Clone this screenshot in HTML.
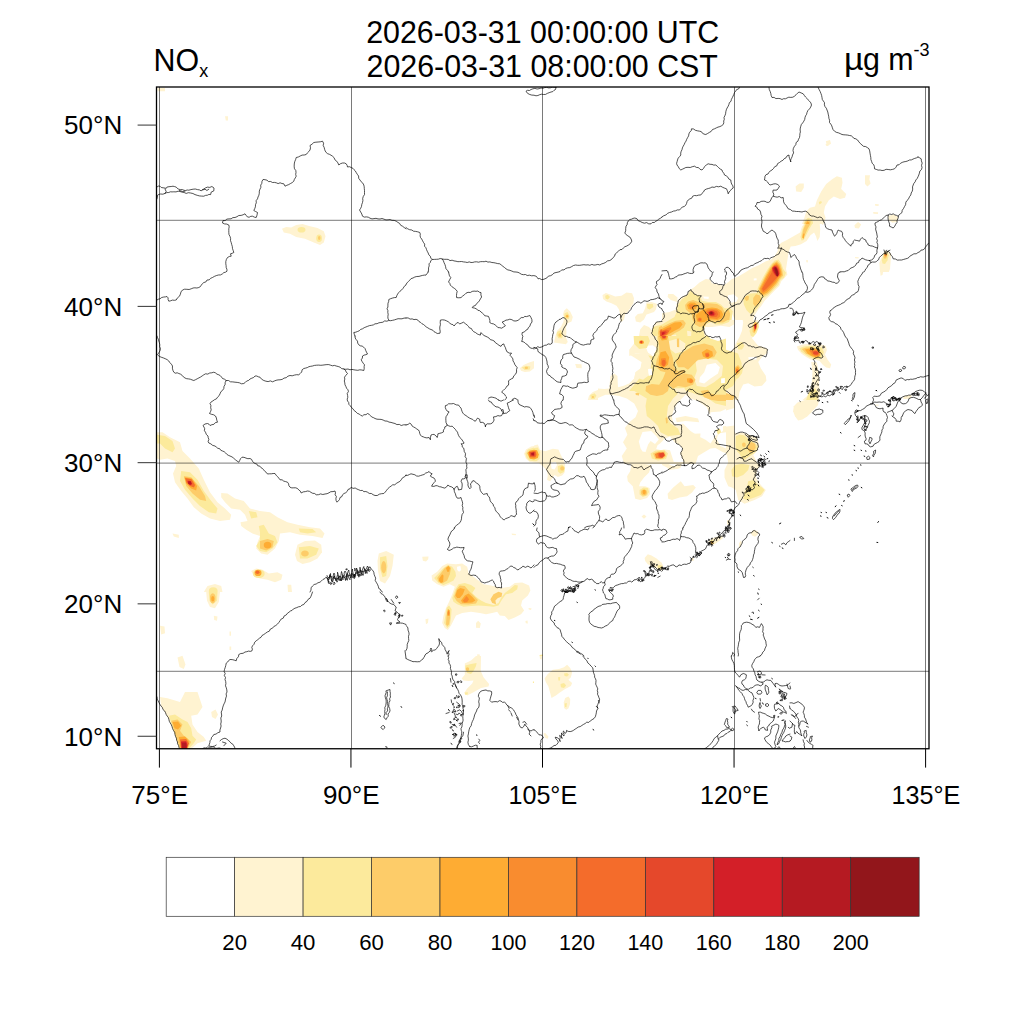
<!DOCTYPE html>
<html><head><meta charset="utf-8"><title>NOx</title>
<style>
html,body{margin:0;padding:0;background:#fff;}
body{width:1024px;height:1024px;overflow:hidden;}
svg{display:block;}
text{font-family:"Liberation Sans",sans-serif;fill:#000;}
.b{fill:none;stroke:#000;stroke-width:0.68;stroke-linejoin:round;stroke-linecap:round;}
.g{stroke:#000;stroke-opacity:0.52;stroke-width:1;fill:none;}
</style></head><body>
<svg width="1024" height="1024" viewBox="0 0 1024 1024">
<rect x="0" y="0" width="1024" height="1024" fill="#fff"/>
<defs><clipPath id="cp"><rect x="156.5" y="87" width="772.5" height="661.75"/></clipPath></defs>
<g clip-path="url(#cp)" stroke="none">
<defs><clipPath id="c0"><rect x="150" y="80" width="256" height="256"/></clipPath><clipPath id="c2"><rect x="662" y="80" width="256" height="256"/></clipPath><clipPath id="c3"><rect x="150" y="336" width="256" height="256"/></clipPath><clipPath id="c4"><rect x="150" y="592" width="256" height="256"/></clipPath><clipPath id="c5"><rect x="406" y="272" width="128" height="128"/></clipPath><clipPath id="c6"><rect x="406" y="400" width="128" height="128"/></clipPath><clipPath id="c7"><rect x="406" y="528" width="128" height="128"/></clipPath><clipPath id="c8"><rect x="406" y="656" width="128" height="128"/></clipPath><clipPath id="c9"><rect x="534" y="272" width="128" height="128"/></clipPath><clipPath id="c10"><rect x="534" y="400" width="128" height="128"/></clipPath><clipPath id="c11"><rect x="534" y="528" width="128" height="128"/></clipPath><clipPath id="c12"><rect x="534" y="656" width="128" height="128"/></clipPath><clipPath id="c13"><rect x="662" y="144" width="128" height="128"/></clipPath><clipPath id="c14"><rect x="662" y="272" width="128" height="128"/></clipPath><clipPath id="c15"><rect x="662" y="400" width="128" height="128"/></clipPath><clipPath id="c16"><rect x="662" y="528" width="128" height="128"/></clipPath><clipPath id="c18"><rect x="790" y="144" width="128" height="128"/></clipPath><clipPath id="c19"><rect x="790" y="272" width="128" height="128"/></clipPath><clipPath id="c20"><rect x="790" y="400" width="128" height="128"/></clipPath><clipPath id="c23"><rect x="598" y="336" width="128" height="128"/></clipPath><clipPath id="c24"><rect x="726" y="224" width="95.9997" height="95.9997"/></clipPath><clipPath id="c26"><rect x="868" y="352" width="64" height="64"/></clipPath></defs>
<g clip-path="url(#c0)">
<path fill="#FFF3D1" d="M225.0,116.2 228.0,116.2 228.0,120.5 225.8,120.5Z M157.5,88.0 165.0,88.0 165.0,91.2 157.5,91.2Z M282.0,228.8 286.2,227.0 291.2,227.5 296.2,225.0 302.5,224.0 310.0,226.2 317.5,228.0 323.8,231.2 325.5,236.2 323.8,242.5 320.0,245.0 313.8,242.5 305.0,238.8 296.2,237.0 290.0,233.8 283.8,232.5Z"/>
<path fill="#FCEA9C" d="M297.5,229.8a4.0,2.8 0 1,0 8.0,0a4.0,2.8 0 1,0 -8.0,0Z M316.2,238.2a2.9,3.8 0 1,0 5.8,0a2.9,3.8 0 1,0 -5.8,0Z"/>
<path fill="#FDCC69" d="M318.0,238.1a1.2,1.9 0 1,0 2.5,0a1.2,1.9 0 1,0 -2.5,0Z"/>
</g>
<g clip-path="url(#c2)">
<path fill="#FFF3D1" d="M825.8,141.2 830.0,140.0 831.0,143.8 827.0,146.2Z"/>
</g>
<g clip-path="url(#c3)">
<path fill="#FFF3D1" d="M157.0,432.2 162.5,432.2 170.0,437.2 180.0,442.2 182.5,451.0 190.0,458.5 198.8,468.5 203.8,479.8 210.0,492.2 217.5,502.2 225.0,508.5 231.2,514.8 230.0,519.8 220.0,521.0 210.0,518.5 201.2,513.5 193.8,507.2 187.5,498.5 181.2,491.0 175.0,482.2 173.0,473.5 176.2,466.0 175.0,461.0 167.5,458.5 160.0,459.8 157.0,458.5Z"/>
<path fill="#FCEA9C" d="M157.0,434.8 165.0,436.0 172.5,441.0 175.0,448.5 172.5,452.2 165.0,448.5 160.0,443.5 157.0,443.5Z M181.2,471.0 190.0,472.2 197.5,479.8 203.8,491.0 211.2,501.0 217.5,508.5 216.2,513.5 208.8,512.2 200.0,506.0 192.5,498.5 185.0,489.8 180.0,481.0Z"/>
<path fill="#FDCC69" d="M183.8,476.0 191.2,477.2 198.8,486.0 205.0,496.0 206.2,501.0 200.0,499.8 192.5,493.5 186.2,486.0Z"/>
<path fill="#FEAC33" d="M184.5,477.2 192.0,478.5 197.0,486.0 196.2,490.5 191.2,488.5 186.2,483.5Z"/>
<path fill="#F46C2B" d="M185.2,478.0 191.5,479.2 195.0,485.0 194.0,487.5 190.0,486.0 186.5,482.5Z"/>
<path fill="#D31F28" d="M187.5,480.8 190.8,481.0 192.2,484.0 190.2,485.2 188.0,483.5Z"/>
<path fill="#B51A22" d="M188.2,482.9a1.4,1.4 0 1,0 2.8,0a1.4,1.4 0 1,0 -2.8,0Z"/>
<path fill="#FFF3D1" d="M221.2,493.0 227.5,493.5 235.0,498.5 243.8,501.0 250.0,508.5 260.0,511.0 270.0,512.2 277.5,517.2 287.5,522.2 297.5,524.8 310.0,527.2 320.0,528.5 324.5,533.5 322.5,538.0 312.5,536.0 300.0,534.8 290.0,532.2 280.0,533.5 278.8,541.0 275.0,548.5 267.5,554.8 261.2,553.5 256.2,548.5 257.5,542.2 260.0,536.0 252.5,533.5 246.2,529.8 241.2,526.0 240.5,522.2 247.5,521.0 245.0,514.8 240.0,509.8 231.2,508.5 225.0,502.2 221.2,497.2Z"/>
<path fill="#FCEA9C" d="M248.8,511.0 256.2,512.2 257.5,517.2 251.2,518.5Z M258.8,526.0 263.8,524.8 268.8,533.5 275.0,536.0 277.5,542.2 272.5,548.5 266.2,552.2 260.0,551.0 256.2,546.0 260.0,539.8 260.0,532.2Z M298.8,528.5 312.5,529.0 316.2,532.2 307.5,533.5 300.0,532.2Z"/>
<path fill="#FDCC69" d="M260.0,541.0 267.5,539.0 273.8,541.0 272.5,547.2 266.2,550.5 260.0,548.5Z"/>
<path fill="#FEAC33" d="M263.8,545.1a3.8,2.9 0 1,0 7.5,0a3.8,2.9 0 1,0 -7.5,0Z"/>
<path fill="#FFF3D1" d="M297.5,544.8 305.0,541.0 315.0,540.5 321.2,544.8 322.0,552.2 317.5,558.5 310.0,562.2 302.5,564.0 297.0,561.0 295.0,554.8Z"/>
<path fill="#FCEA9C" d="M298.8,547.2 310.0,546.0 318.8,548.5 316.2,554.8 307.5,558.5 300.0,558.5Z"/>
<path fill="#FDCC69" d="M301.2,553.5a3.8,2.5 0 1,0 7.5,0a3.8,2.5 0 1,0 -7.5,0Z"/>
<path fill="#FFF3D1" d="M172.5,533.5 178.8,534.8 178.8,538.0 173.8,536.5Z M251.2,571.0 256.2,568.5 262.5,569.8 268.8,573.5 277.5,572.2 282.5,574.8 281.2,579.8 275.0,582.2 267.5,579.8 260.0,578.5 253.8,576.0Z"/>
<path fill="#FCEA9C" d="M253.0,573.8a5.8,3.8 0 1,0 11.5,0a5.8,3.8 0 1,0 -11.5,0Z"/>
<path fill="#FEAC33" d="M254.5,572.9a3.5,3.1 0 1,0 7.0,0a3.5,3.1 0 1,0 -7.0,0Z"/>
<path fill="#F46C2B" d="M255.5,572.2a2.0,1.8 0 1,0 4.0,0a2.0,1.8 0 1,0 -4.0,0Z"/>
<path fill="#FFF3D1" d="M203.8,592.0 207.5,586.0 215.0,584.0 221.2,586.0 222.5,592.0Z"/>
<path fill="#FCEA9C" d="M208.8,591.0a4.4,3.8 0 1,0 8.8,0a4.4,3.8 0 1,0 -8.8,0Z"/>
<path fill="#FFF3D1" d="M287.5,584.8 291.2,584.8 292.0,592.0 288.0,592.0Z M378.8,553.5 386.2,551.0 393.8,554.8 392.5,566.0 390.0,576.0 385.0,583.5 380.0,581.0 378.0,571.0 377.5,561.0Z"/>
<path fill="#FCEA9C" d="M380.0,557.2 386.2,556.0 387.5,566.0 386.2,576.0 382.5,577.2 380.0,568.5Z"/>
<path fill="#FDCC69" d="M381.2,567.2a2.5,6.2 0 1,0 5.0,0a2.5,6.2 0 1,0 -5.0,0Z"/>
</g>
<g clip-path="url(#c4)">
<path fill="#FFF3D1" d="M206.2,592.0 220.0,592.0 218.8,602.0 215.0,608.2 210.0,607.0 207.0,600.8Z"/>
<path fill="#FCEA9C" d="M208.8,592.0 217.5,592.0 217.0,600.8 212.5,604.5 209.5,600.8Z"/>
<path fill="#FDCC69" d="M210.0,598.2a2.8,4.2 0 1,0 5.5,0a2.8,4.2 0 1,0 -5.5,0Z"/>
<path fill="#FEAC33" d="M211.2,598.8a1.6,2.8 0 1,0 3.2,0a1.6,2.8 0 1,0 -3.2,0Z"/>
<path fill="#FFF3D1" d="M213.8,615.8 217.5,616.5 217.0,620.8 214.2,620.0Z M160.0,625.8 164.5,626.5 165.0,633.2 161.2,634.5Z M177.5,657.5 182.5,655.8 185.5,664.5 183.8,669.0 179.5,667.0Z M229.5,631.5 231.0,631.5 231.0,635.8 229.5,635.8Z M229.5,646.5 231.2,646.5 231.2,650.0 229.5,650.0Z M160.0,697.0 167.5,698.2 180.0,702.0 185.0,692.0 197.5,692.0 200.0,699.5 202.5,707.0 197.5,714.5 191.2,715.8 192.5,724.5 197.5,732.0 203.8,737.0 206.2,740.8 197.5,743.2 191.2,748.8 179.5,748.8 175.0,734.5 171.2,724.5 166.2,714.5 161.2,705.8Z"/>
<path fill="#FCEA9C" d="M168.8,715.8 175.0,714.5 182.5,719.5 187.5,722.0 191.2,728.2 192.5,735.8 196.2,739.5 193.8,743.2 188.8,748.8 179.5,748.8 176.2,738.2 172.5,727.0Z"/>
<path fill="#FDCC69" d="M171.2,720.8 177.5,719.5 182.5,724.5 180.0,730.8 183.8,735.8 187.5,738.2 191.2,742.0 187.5,748.8 180.0,748.8 177.0,739.5 173.8,729.5Z"/>
<path fill="#FEAC33" d="M172.5,722.0 178.0,721.5 181.2,725.8 178.0,729.5 174.5,728.2Z M178.8,737.0 185.0,736.5 189.5,741.5 187.5,748.8 180.5,748.8Z"/>
<path fill="#F46C2B" d="M180.0,739.5 186.2,739.0 188.8,743.2 187.0,748.8 181.0,748.8Z"/>
<path fill="#D31F28" d="M181.0,741.5 186.2,741.2 187.5,745.0 186.5,748.8 181.5,748.8Z"/>
<path fill="#B51A22" d="M182.0,743.0 185.8,742.8 186.8,748.8 182.0,748.8Z"/>
<path fill="#FFF3D1" d="M211.2,712.0 215.5,709.5 218.0,714.5 215.5,719.0 212.0,717.0Z"/>
</g>
<g clip-path="url(#c5)">
<rect x="406" y="272" width="128" height="128" fill="#fff"/>
<path fill="#FFF3D1" d="M519.8,368.2 523.5,365.1 529.1,362.6 534.0,361.0 534.0,368.2 529.8,371.4 524.8,372.0 521.0,370.8Z"/>
<path fill="#FCEA9C" d="M521.6,367.6 526.0,365.8 530.4,366.4 529.8,369.5 524.8,370.1Z"/>
<path fill="#FDCC69" d="M524.8,367.9a1.6,0.9 0 1,0 3.1,0a1.6,0.9 0 1,0 -3.1,0Z"/>
</g>
<g clip-path="url(#c6)">
<rect x="406" y="400" width="128" height="128" fill="#fff"/>
<path fill="#FFF3D1" d="M524.1,453.8 526.0,449.4 531.0,446.5 534.0,446.0 534.0,462.5 529.8,461.9 526.0,458.8Z"/>
<path fill="#FCEA9C" d="M525.4,453.8 527.9,449.4 534.0,447.5 534.0,461.2 529.1,460.6 526.6,457.5Z"/>
<path fill="#FEAC33" d="M527.2,453.1 529.8,450.6 534.0,449.8 534.0,459.4 529.8,458.8Z"/>
<path fill="#F46C2B" d="M528.8,451.9 534.0,451.0 534.0,457.5 529.8,457.2Z"/>
<path fill="#E5482B" d="M530.0,452.5 534.0,451.9 534.0,456.2 530.4,456.0Z"/>
<path fill="#B51A22" d="M531.2,453.1 534.0,452.6 534.0,455.5 531.5,455.2Z"/>
</g>
<g clip-path="url(#c7)">
<rect x="406" y="528" width="128" height="128" fill="#fff"/>
<path fill="#FFF3D1" d="M431.6,575.5 437.2,571.8 442.2,566.1 447.2,563.6 456.0,564.2 462.2,563.6 467.2,566.8 468.5,573.0 473.5,576.8 478.5,580.5 483.5,584.2 491.0,585.5 501.0,588.0 509.8,586.8 514.8,583.0 522.2,582.4 529.1,585.5 530.4,590.5 527.9,595.5 522.2,600.5 521.0,605.5 524.1,610.5 521.0,614.2 514.8,617.4 508.5,619.9 504.8,616.1 499.8,615.5 497.2,611.8 492.2,613.0 486.0,614.2 479.8,613.0 471.0,611.8 462.2,613.0 456.0,615.5 453.5,620.5 451.0,625.5 447.9,629.9 444.8,628.0 442.2,623.0 443.5,615.5 446.0,608.0 449.1,601.8 452.2,594.2 454.8,586.8 449.8,584.2 443.5,586.8 437.2,584.2 432.2,580.5Z"/>
<path fill="#FFFFFF" d="M457.0,566.8 460.4,566.1 461.2,569.9 459.1,571.8 457.2,569.9Z"/>
<path fill="#FCEA9C" d="M434.1,578.0 438.5,573.6 443.5,568.0 447.9,564.9 452.2,566.8 455.4,571.8 456.0,576.1 453.5,580.5 448.5,583.0 443.5,584.9 438.5,583.0Z M452.2,598.0 455.4,589.2 458.5,584.2 464.8,583.0 471.0,584.9 475.4,588.0 472.2,593.0 476.0,596.8 481.0,600.5 486.0,603.0 493.5,604.9 498.5,603.0 501.0,598.0 504.8,593.0 509.8,589.2 514.8,584.9 517.9,585.5 517.2,589.2 512.2,593.0 506.0,594.2 502.2,599.2 498.5,605.5 493.5,606.8 486.0,606.1 478.5,605.5 471.0,606.1 463.5,606.8 457.2,604.2 453.5,601.8Z M444.1,623.0 445.4,615.5 446.6,608.0 449.1,605.5 451.6,609.2 451.0,618.0 449.8,625.5 447.2,628.0Z"/>
<path fill="#FDCC69" d="M437.2,578.0 441.0,573.0 444.8,568.0 448.5,565.5 451.0,568.0 449.8,574.2 447.2,580.5 442.2,583.6 438.5,581.8Z"/>
<path fill="#FEAC33" d="M439.1,578.6 442.2,574.2 443.5,575.5 443.2,581.8 441.0,583.0 439.1,581.1Z M446.0,568.0 448.5,566.1 450.0,568.0 449.1,571.8 447.2,571.8Z"/>
<path fill="#FDCC69" d="M454.1,596.8 456.6,589.2 459.8,585.5 464.8,586.1 468.5,590.5 473.5,595.5 477.9,599.9 476.0,603.6 468.5,604.5 461.0,604.2 456.6,601.1Z"/>
<path fill="#FEAC33" d="M455.4,595.5 457.2,589.9 460.4,588.0 464.8,589.2 462.9,594.2 459.8,598.0 457.2,598.0Z M461.0,600.5 464.8,595.5 468.5,593.6 472.2,596.8 475.4,600.5 472.2,602.4 466.0,603.0 462.2,602.8Z"/>
<path fill="#F98C2F" d="M462.9,600.5 466.6,596.1 469.1,599.2 467.2,602.0 464.1,602.4Z"/>
<path fill="#FDCC69" d="M490.4,599.2 493.5,594.2 498.5,591.8 502.2,593.0 501.6,596.8 497.9,598.0 495.4,600.5 496.0,604.2 492.2,603.0Z M446.0,624.2 446.6,615.5 447.9,609.2 449.8,610.5 450.0,618.0 449.1,624.2 447.2,626.1Z"/>
<path fill="#FEAC33" d="M447.2,615.5 447.9,609.2 449.5,609.9 449.8,615.5 448.5,616.1Z"/>
<path fill="#F98C2F" d="M447.6,613.0a0.9,1.9 0 1,0 1.8,0a0.9,1.9 0 1,0 -1.8,0Z"/>
<path fill="#FFF3D1" d="M422.2,556.8 428.5,556.5 428.2,559.2 426.0,561.5 422.9,560.8Z M425.4,619.2 428.5,618.6 427.9,623.0 426.0,624.2Z M476.0,623.0 478.2,620.8 480.8,623.6 479.8,628.0 476.0,627.8Z M511.6,533.6 516.0,533.9 515.8,535.2 512.0,535.0Z M525.4,621.1 527.5,620.5 527.9,623.6 525.8,623.2Z M528.5,608.0 531.6,608.2 531.0,609.9 528.8,609.6Z M477.2,654.2 479.8,654.5 479.8,656.0 477.2,656.0Z"/>
</g>
<g clip-path="url(#c8)">
<rect x="406" y="656" width="128" height="128" fill="#fff"/>
<path fill="#FFF3D1" d="M464.8,663.5 471.0,660.4 476.0,656.0 481.0,656.0 480.8,671.0 483.5,677.2 489.1,684.1 488.5,686.6 481.0,687.9 473.5,692.2 467.2,695.4 464.1,692.9 467.2,688.5 472.2,683.5 473.5,680.4 468.5,681.0 463.5,680.4 461.6,678.5 464.8,674.8Z"/>
<path fill="#FCEA9C" d="M465.4,665.4 471.0,664.1 476.6,662.9 476.0,666.0 473.5,671.0 471.0,674.1 467.2,672.9 465.4,669.1Z"/>
<path fill="#FDCC69" d="M465.8,669.1a1.7,1.9 0 1,0 3.4,0a1.7,1.9 0 1,0 -3.4,0Z"/>
<path fill="#FCEA9C" d="M464.8,692.5 467.9,692.2 467.6,694.5 465.0,694.8Z M532.9,681.6 534.0,681.6 534.0,682.9 532.9,682.9Z"/>
</g>
<g clip-path="url(#c9)">
<rect x="534" y="272" width="128" height="128" fill="#fff"/>
<path fill="#FFF3D1" d="M564.0,310.8 566.8,308.2 570.2,311.4 572.8,317.0 571.5,321.4 567.8,323.2 565.9,327.0 566.5,332.0 565.9,337.0 567.8,342.0 565.9,344.2 559.0,343.2 554.0,342.6 555.2,337.0 557.1,330.8 560.9,327.0 563.4,322.0 564.0,317.6 563.0,314.5Z"/>
<path fill="#FCEA9C" d="M564.6,313.2 567.5,312.0 569.6,315.8 569.0,318.9 565.9,319.5 564.0,317.0Z M557.1,332.0 560.9,330.1 563.0,334.5 562.1,338.2 558.4,338.2 556.5,335.1Z"/>
<path fill="#FDCC69" d="M565.5,316.2a1.6,1.8 0 1,0 3.2,0a1.6,1.8 0 1,0 -3.2,0Z"/>
<path fill="#FEAC33" d="M566.2,316.1a0.9,0.9 0 1,0 1.8,0a0.9,0.9 0 1,0 -1.8,0Z"/>
<path fill="#FDCC69" d="M558.4,335.0a1.4,1.8 0 1,0 2.9,0a1.4,1.8 0 1,0 -2.9,0Z"/>
<path fill="#FFF3D1" d="M602.5,295.1 605.9,293.0 610.2,294.5 615.2,296.4 621.5,295.8 626.5,292.6 632.1,293.2 634.0,298.2 633.4,303.2 630.2,308.2 627.8,312.0 625.2,313.9 624.0,319.5 621.5,322.0 619.6,320.1 620.2,315.1 619.0,309.5 616.5,305.8 611.5,303.2 606.5,301.4 603.0,298.9Z"/>
<path fill="#FCEA9C" d="M605.2,295.8 607.8,294.8 610.0,297.0 607.8,299.5 605.5,298.5Z"/>
<path fill="#FFF3D1" d="M646.5,302.6 651.5,302.0 657.1,303.9 655.9,309.5 654.0,312.0 646.5,314.5 644.0,319.5 640.2,322.6 635.9,321.4 635.0,317.0 637.8,313.9 642.8,313.2 645.2,308.2Z"/>
<path fill="#FCEA9C" d="M647.1,303.9 652.8,303.9 653.4,307.0 649.6,309.5 647.1,308.2Z"/>
<path fill="#FFF3D1" d="M662.0,321.4 655.9,322.0 653.4,325.8 652.1,330.8 649.0,327.0 644.0,325.1 640.2,329.5 639.0,335.8 635.9,342.0 634.0,347.0 630.2,350.8 629.0,354.5 632.8,355.8 637.8,353.2 640.9,354.5 641.5,359.5 642.1,364.5 640.2,370.8 636.5,375.8 634.0,380.8 630.9,384.5 626.5,387.0 621.5,388.2 620.2,390.1 626.5,392.0 631.5,395.8 632.8,400.0 662.0,400.0Z"/>
<path fill="#FFFFFF" d="M645.9,346.4 650.9,345.1 655.9,347.0 655.9,352.0 652.1,353.2 648.4,351.4Z M648.4,369.5 652.1,368.9 652.8,374.5 649.6,376.4 647.8,373.9Z"/>
<path fill="#FCEA9C" d="M652.8,327.0 662.0,324.5 662.0,400.0 634.0,400.0 632.8,392.0 636.5,388.2 640.2,384.5 642.8,379.5 640.2,377.0 644.0,375.8 647.1,378.2 650.2,380.8 652.1,377.0 653.4,372.0 654.6,367.0 651.5,362.0 654.0,357.0 657.1,352.0 657.8,344.5 655.2,338.2 652.1,333.2Z M636.5,338.2 640.2,335.8 645.2,336.4 647.1,340.1 645.2,344.5 641.5,347.0 637.8,345.8Z"/>
<path fill="#FDCC69" d="M638.4,339.5 642.1,337.6 644.6,340.8 642.8,344.5 639.6,344.5Z"/>
<path fill="#F98C2F" d="M639.4,342.2a1.8,2.1 0 1,0 3.6,0a1.8,2.1 0 1,0 -3.6,0Z"/>
<path fill="#E5482B" d="M640.0,342.1a1.1,1.4 0 1,0 2.1,0a1.1,1.4 0 1,0 -2.1,0Z"/>
<path fill="#FDCC69" d="M659.0,327.0 662.0,325.8 662.0,342.0 659.6,339.5 657.8,333.2Z M657.1,357.0 662.0,352.0 662.0,368.2 659.0,365.8 657.1,362.0Z"/>
<path fill="#F98C2F" d="M660.2,329.5 662.0,328.9 662.0,339.5 660.5,337.0Z"/>
<path fill="#F46C2B" d="M659.6,330.8 662.0,330.1 662.0,338.2 660.0,336.4Z"/>
<path fill="#E5482B" d="M660.5,332.0 662.0,331.5 662.0,337.0 660.8,335.5Z"/>
<path fill="#F98C2F" d="M659.6,358.2 662.0,356.4 662.0,365.8 660.0,363.9Z"/>
<path fill="#FDCC69" d="M645.2,388.2 651.5,384.5 657.8,383.9 662.0,384.5 662.0,400.0 646.5,400.0 644.6,394.5Z"/>
<path fill="#FCEA9C" d="M644.0,364.5 647.1,363.2 648.4,367.0 645.9,369.5Z"/>
<path fill="#FFF3D1" d="M625.9,366.4 628.4,367.6 627.8,372.0 625.9,375.8 624.0,374.5 624.6,369.5Z M610.9,374.5 615.2,373.2 617.8,375.8 617.1,382.0 614.0,385.8 610.9,386.4 609.6,382.0Z M587.8,400.0 589.0,395.8 592.8,392.0 597.8,390.1 603.4,388.9 604.6,390.8 601.5,395.1 599.0,400.0Z"/>
<path fill="#FCEA9C" d="M590.2,395.1 594.6,393.2 596.5,395.8 594.6,398.9 590.9,398.9Z"/>
<path fill="#FDCC69" d="M591.8,397.0a1.1,1.0 0 1,0 2.2,0a1.1,1.0 0 1,0 -2.2,0Z"/>
<path fill="#FFF3D1" d="M575.2,363.9 581.5,364.2 581.8,368.2 576.5,368.0Z"/>
</g>
<g clip-path="url(#c10)">
<rect x="534" y="400" width="128" height="128" fill="#fff"/>
<path fill="#FFF3D1" d="M534.0,445.6 537.8,444.4 540.2,450.0 545.2,451.2 552.8,448.8 558.4,449.4 560.9,455.0 563.4,460.0 565.2,465.0 564.6,472.5 562.1,475.6 557.8,476.9 554.6,475.0 552.8,477.5 550.2,481.2 547.1,480.0 547.8,475.0 546.5,470.0 542.8,466.2 539.0,463.1 534.0,462.5Z"/>
<path fill="#FFFFFF" d="M550.9,462.5 555.9,461.9 557.1,465.0 554.6,469.4 551.5,468.8Z"/>
<path fill="#FCEA9C" d="M534.0,448.1 537.8,447.5 540.2,452.5 539.6,458.8 536.5,461.2 534.0,461.2Z"/>
<path fill="#FEAC33" d="M534.0,449.8 537.1,450.2 538.8,454.4 537.8,458.1 534.0,459.4Z"/>
<path fill="#F46C2B" d="M534.0,451.0 535.9,451.5 536.5,455.0 535.5,457.2 534.0,457.5Z"/>
<path fill="#E5482B" d="M534.0,451.9 535.0,452.2 535.2,455.0 534.0,456.2Z"/>
<path fill="#FCEA9C" d="M557.8,466.2 562.1,464.4 565.0,467.5 564.0,471.9 560.2,473.8 557.8,471.2Z"/>
<path fill="#FDCC69" d="M560.2,468.4a2.0,2.2 0 1,0 4.0,0a2.0,2.2 0 1,0 -4.0,0Z"/>
<path fill="#FFF3D1" d="M634.0,400.0 637.8,406.2 636.5,412.5 632.8,418.8 629.0,422.5 624.0,425.0 625.2,430.0 630.2,432.5 634.0,437.5 632.8,442.5 634.0,450.0 630.2,453.8 622.8,453.8 621.5,456.2 624.0,460.0 631.5,461.2 641.5,462.5 646.5,458.8 651.5,455.0 662.0,450.0 662.0,400.0Z"/>
<path fill="#FFFFFF" d="M640.9,431.2 645.2,429.4 650.2,435.0 654.0,440.0 651.5,445.0 647.1,450.0 644.0,452.5 641.5,447.5 638.4,442.5 639.0,436.2Z M650.9,441.9 657.1,441.2 657.8,445.6 651.5,446.5Z"/>
<path fill="#FCEA9C" d="M645.2,400.0 645.9,407.5 646.5,415.0 652.8,418.8 659.0,421.2 662.0,425.0 662.0,400.0Z M642.8,461.9 649.0,455.0 654.0,451.2 662.0,449.4 662.0,462.5 646.5,463.1Z"/>
<path fill="#FDCC69" d="M650.2,455.0 655.2,451.9 662.0,450.0 662.0,460.0 654.0,460.0Z"/>
<path fill="#F98C2F" d="M652.1,455.0 657.1,452.5 662.0,451.2 662.0,459.0 655.9,458.8Z"/>
<path fill="#F46C2B" d="M654.0,454.4 659.0,452.5 662.0,452.2 662.0,458.1 657.1,457.8Z"/>
<path fill="#E5482B" d="M657.1,453.1 662.0,452.8 662.0,457.5 659.0,456.9Z"/>
<path fill="#FFF3D1" d="M631.5,463.8 642.8,463.8 651.5,465.0 649.0,472.5 644.0,477.5 640.2,482.5 639.0,486.2 645.2,486.2 649.6,488.1 650.2,493.8 647.1,498.1 640.2,500.0 635.2,498.8 634.0,492.5 632.8,486.2 627.8,481.2 627.1,476.2 630.2,471.2Z"/>
<path fill="#FCEA9C" d="M639.6,490.0 643.4,487.5 647.8,488.1 649.0,491.9 647.1,495.6 642.8,496.9 639.6,494.4Z"/>
<path fill="#FDCC69" d="M640.9,492.5a3.1,3.1 0 1,0 6.2,0a3.1,3.1 0 1,0 -6.2,0Z"/>
<path fill="#FEAC33" d="M642.5,492.1a1.7,2.3 0 1,0 3.4,0a1.7,2.3 0 1,0 -3.4,0Z"/>
<path fill="#FFF3D1" d="M641.5,516.5 644.0,514.4 646.5,516.5 644.0,518.8Z M616.5,421.9 619.6,422.2 619.4,424.4 616.8,424.0Z"/>
</g>
<g clip-path="url(#c11)">
<rect x="534" y="528" width="128" height="128" fill="#fff"/>
<path fill="#FFF3D1" d="M644.6,558.0 647.8,554.2 651.5,555.5 656.5,558.6 662.0,563.0 662.0,570.5 657.8,569.2 652.8,566.8 647.8,564.2 645.2,561.1Z"/>
<path fill="#FCEA9C" d="M657.1,565.5 660.2,564.9 662.0,566.1 662.0,569.2 658.4,568.6Z M539.6,654.9 542.8,654.5 542.8,656.0 539.6,656.0Z"/>
</g>
<g clip-path="url(#c12)">
<rect x="534" y="656" width="128" height="128" fill="#fff"/>
<path fill="#FFF3D1" d="M539.6,656.0 542.1,656.0 541.8,659.5 540.0,659.1Z M544.6,678.5 547.8,674.1 552.8,669.8 559.0,669.1 564.0,667.2 567.1,664.8 570.2,667.9 572.1,672.2 570.9,677.2 568.4,679.8 572.1,682.9 570.9,686.0 565.2,689.1 560.2,692.2 555.9,695.4 551.5,697.9 550.2,692.9 548.4,686.6 545.9,682.2Z"/>
<path fill="#FCEA9C" d="M564.0,673.5 567.1,672.9 569.0,674.8 567.1,676.6 564.6,676.0Z M558.0,677.2 560.2,677.0 560.0,680.4 558.4,680.4Z M560.5,684.1 564.0,682.9 566.2,685.4 564.0,687.9 560.9,687.2Z"/>
<path fill="#FFF3D1" d="M563.8,702.2 565.2,697.9 568.4,696.6 570.2,699.1 570.0,704.1 568.4,708.5 566.2,709.8 564.0,707.9Z"/>
<path fill="#FCEA9C" d="M564.6,703.5 566.8,702.9 566.5,707.2 565.0,707.0Z"/>
<path fill="#FFF3D1" d="M543.4,733.5 545.2,732.9 548.4,736.6 547.8,738.8 545.2,737.9Z"/>
</g>
<g clip-path="url(#c13)">
<path fill="#FFF3D1" d="M739.5,272.0 744.5,269.0 752.0,265.9 762.0,262.8 769.5,260.2 774.5,256.5 777.0,250.2 778.2,244.0 784.5,240.9 790.0,238.4 790.0,272.0Z"/>
<path fill="#FCEA9C" d="M762.0,272.0 765.8,267.1 770.1,262.8 774.5,258.4 778.9,255.2 782.6,256.5 785.8,262.8 787.0,272.0Z"/>
<path fill="#FDCC69" d="M765.8,272.0 768.9,267.1 772.6,262.1 776.4,258.4 779.5,257.8 782.0,261.5 783.9,272.0Z"/>
<path fill="#FEAC33" d="M767.6,272.0 770.8,267.1 774.5,262.1 777.0,260.2 779.5,262.1 781.4,272.0Z"/>
<path fill="#F46C2B" d="M769.5,272.0 772.6,267.1 775.8,262.8 777.6,262.1 779.2,265.2 780.1,272.0Z"/>
<path fill="#D31F28" d="M772.0,272.0 774.5,267.1 776.8,264.0 778.2,265.9 778.9,272.0Z"/>
<path fill="#B51A22" d="M773.9,272.0 775.5,267.8 777.0,265.9 778.0,269.0 778.0,272.0Z"/>
<path fill="#92161B" d="M775.1,272.0 776.4,268.4 777.2,269.0 777.2,272.0Z"/>
</g>
<g clip-path="url(#c14)">
<rect x="662" y="272" width="128" height="128" fill="#fff"/>
<path fill="#FFF3D1" d="M668.2,293.9 673.2,293.9 677.6,297.6 677.0,302.0 670.8,300.1 667.6,297.0Z M662.0,313.2 669.5,312.0 675.8,309.5 676.4,304.5 678.2,300.1 682.0,297.0 687.0,294.5 688.9,290.8 694.5,287.0 699.5,282.6 705.8,278.9 710.1,279.5 712.0,283.2 718.2,284.5 723.2,285.8 729.5,280.8 732.0,278.9 737.0,277.6 742.0,277.0 749.5,275.8 757.0,272.0 787.0,272.0 785.1,275.8 780.8,282.0 774.5,288.2 768.2,295.8 763.2,303.2 759.5,312.0 758.2,319.5 758.9,324.5 755.8,332.0 752.0,338.2 755.1,342.0 758.2,345.8 763.2,347.0 767.6,348.9 767.0,353.2 762.0,357.0 758.2,362.0 760.8,368.2 765.8,375.8 766.4,380.8 762.0,385.8 754.5,386.4 748.2,383.2 743.2,384.5 739.5,392.0 738.2,400.0 662.0,400.0Z"/>
<path fill="#FFFFFF" d="M705.1,327.0 712.0,327.0 720.8,325.8 729.5,327.0 733.9,324.5 735.8,314.5 738.2,310.8 740.8,313.2 743.2,322.0 742.0,330.8 739.5,337.0 735.8,343.2 733.2,349.5 729.5,353.2 724.5,352.0 722.0,347.0 720.8,339.5 717.0,337.0 710.8,337.0 705.8,334.5 703.9,330.1Z M728.2,294.5 732.6,293.9 733.5,298.9 731.4,304.5 728.9,303.2Z M703.2,296.4 708.9,296.8 708.5,298.9 703.9,298.5Z M748.2,357.2 757.0,356.8 756.4,359.5 748.9,359.8Z"/>
<path fill="#FCEA9C" d="M662.0,324.5 668.2,320.8 674.5,317.0 677.0,310.8 678.2,304.5 682.0,298.9 687.0,295.8 690.8,290.8 694.5,294.5 699.5,295.8 702.0,300.8 708.2,302.0 715.8,302.0 720.8,304.5 724.5,308.2 729.5,308.2 732.0,310.8 731.4,317.0 728.9,322.0 722.0,324.5 715.8,324.5 710.8,322.0 705.8,324.5 703.2,330.8 704.5,335.8 708.2,339.5 714.5,342.0 718.2,347.0 720.8,353.2 727.0,357.0 732.0,355.8 733.2,362.0 732.0,368.2 734.5,372.0 732.0,378.2 728.2,384.5 724.5,390.8 722.0,397.0 720.8,400.0 662.0,400.0Z"/>
<path fill="#FFF3D1" d="M669.5,335.8 675.8,334.5 678.2,339.5 677.0,347.0 672.0,349.5 668.2,344.5Z M687.0,330.8 691.4,331.4 691.0,338.2 687.6,337.6Z M694.5,359.5 704.5,358.2 714.5,359.5 722.0,363.2 727.0,369.5 729.5,375.8 727.0,382.0 720.8,384.5 714.5,382.0 709.5,384.5 702.0,385.8 697.0,383.2 695.8,378.2 698.2,372.0 697.0,365.8Z M675.8,388.2 682.0,387.0 687.0,388.9 690.8,392.0 693.2,397.0 692.0,400.0 677.0,400.0 674.5,394.5Z"/>
<path fill="#FFFFFF" d="M705.8,363.2 712.0,362.6 718.2,365.8 720.8,370.8 717.0,375.8 712.0,378.2 705.8,382.0 700.8,383.2 698.2,379.5 700.8,374.5 704.5,369.5Z M720.8,378.2 724.5,378.5 724.2,383.2 721.0,383.0Z M678.9,393.9 686.4,394.2 686.0,398.2 679.2,398.0Z"/>
<path fill="#FCEA9C" d="M742.0,298.9 747.0,294.5 752.0,292.6 758.2,292.6 762.0,296.4 759.5,303.2 755.8,308.2 753.2,313.2 749.5,315.8 745.8,313.2 743.2,307.0Z M757.0,290.8 762.0,284.5 768.2,277.0 772.0,272.0 785.8,272.0 782.0,279.5 775.8,287.0 769.5,294.5 764.5,298.2 762.0,295.8Z M749.5,330.8 752.0,325.8 754.5,322.0 758.2,322.0 758.9,327.0 756.4,333.2 753.2,337.0 750.8,335.8Z M737.0,343.2 742.0,342.0 744.5,345.8 742.0,349.5 738.2,349.5Z M726.0,349.8 738.0,353.5 741.8,363.5 738.0,376.0 733.0,386.0 726.0,389.8Z M735.1,365.1 739.5,363.2 743.2,367.0 742.0,373.2 738.2,378.2 735.1,379.5 734.5,372.0Z"/>
<path fill="#FDCC69" d="M685.1,305.1 688.2,301.4 693.2,300.1 698.2,302.0 703.2,303.2 709.5,303.2 717.0,303.9 722.0,307.0 724.5,312.0 727.0,313.2 729.5,315.8 727.6,320.1 723.2,322.6 718.2,322.6 712.0,321.4 707.0,322.0 705.1,325.8 699.5,327.0 695.1,324.5 692.6,319.5 692.0,314.5 688.9,312.0 685.8,309.5Z M662.0,327.0 669.5,323.2 675.8,320.8 683.2,320.1 685.8,323.2 683.9,327.6 679.5,330.8 674.5,333.2 669.5,337.0 664.5,340.1 662.0,340.8Z M662.0,347.0 667.0,349.5 669.5,357.0 668.2,365.8 664.5,369.5 662.0,369.5Z M675.8,367.0 678.2,359.5 684.5,352.0 692.0,347.0 699.5,344.5 707.0,343.9 713.2,347.0 717.0,352.0 717.0,358.2 712.0,359.5 704.5,358.2 697.0,359.5 693.2,364.5 689.5,369.5 682.0,370.8Z M669.5,384.5 674.5,379.5 680.8,375.8 687.0,374.5 693.2,377.0 695.8,382.0 693.2,385.8 687.0,385.1 680.8,386.4 674.5,388.9Z M662.0,372.0 668.2,372.0 673.2,374.5 669.5,382.0 667.0,389.5 662.0,392.0Z M704.5,392.0 712.0,389.5 719.5,388.2 722.0,392.0 719.5,397.0 712.0,400.0 705.8,400.0Z M758.2,289.5 762.0,284.5 768.2,277.0 773.2,272.0 784.5,272.0 779.5,280.8 773.2,288.2 768.2,293.2 763.2,295.8 760.8,293.2Z M744.5,297.0 748.2,295.1 750.1,298.9 748.2,302.0 745.1,301.4Z M753.9,298.9 757.0,295.8 760.8,295.1 761.4,298.9 758.2,303.2 754.5,305.8Z M752.6,325.8 755.1,322.0 757.6,323.2 757.0,328.2 754.5,333.2 752.6,332.0Z M726.0,393.0 735.0,396.0 733.0,400.0 726.0,400.0Z M735.1,367.0 738.2,365.1 740.8,368.2 739.5,373.2 736.4,375.8 734.8,372.0Z"/>
<path fill="#FEAC33" d="M687.0,305.1 690.1,302.6 694.5,302.6 697.6,305.1 695.8,308.9 691.4,310.1 688.2,308.9Z M695.8,315.1 699.5,312.0 703.2,309.5 707.0,308.2 712.0,307.6 717.0,308.2 721.4,310.8 723.2,314.5 722.0,318.2 717.6,320.1 712.0,319.5 707.6,320.1 704.5,322.0 700.8,322.6 697.0,321.4Z M662.0,328.9 668.2,325.8 674.5,322.6 680.8,322.0 682.6,324.5 679.5,328.2 674.5,330.8 668.2,334.5 662.0,338.2Z M662.0,352.0 665.8,353.2 667.0,359.5 665.1,365.8 662.0,367.0Z M700.8,353.2 704.5,349.5 709.5,349.5 712.6,353.2 712.0,357.0 707.0,358.9 702.0,357.6Z M687.0,378.2 691.4,377.6 693.2,380.8 690.8,383.2 687.6,382.0Z M760.8,289.5 765.8,282.0 770.8,275.8 774.5,272.0 782.0,272.0 777.0,279.5 772.0,285.8 767.0,290.8 763.2,293.2Z M753.5,325.8 755.5,322.6 757.0,324.5 756.0,329.5 754.2,332.0Z M735.5,368.2 738.0,366.4 739.5,369.5 737.6,373.2 735.5,372.6Z M757.6,294.5a1.9,1.9 0 1,0 3.8,0a1.9,1.9 0 1,0 -3.8,0Z"/>
<path fill="#F98C2F" d="M688.9,305.1 692.0,303.9 694.8,305.5 693.9,308.2 690.1,308.9Z M705.1,312.0 707.6,309.5 712.0,308.9 717.0,309.5 720.1,312.6 720.1,316.4 717.0,318.9 712.0,318.2 708.2,317.6 705.8,315.1Z"/>
<path fill="#F46C2B" d="M707.0,312.6 709.5,310.5 713.2,310.1 717.0,311.4 718.2,314.5 716.4,317.0 712.0,317.0 708.9,315.8Z"/>
<path fill="#E5482B" d="M708.2,312.6 710.8,311.0 713.9,311.4 715.8,313.9 713.9,316.0 710.1,315.5Z"/>
<path fill="#D31F28" d="M708.9,313.6a2.6,1.6 0 1,0 5.1,0a2.6,1.6 0 1,0 -5.1,0Z"/>
<path fill="#B51A22" d="M709.5,313.1a1.8,1.4 0 1,0 3.5,0a1.8,1.4 0 1,0 -3.5,0Z"/>
<path fill="#92161B" d="M710.2,313.0a1.0,0.9 0 1,0 2.0,0a1.0,0.9 0 1,0 -2.0,0Z"/>
<path fill="#F98C2F" d="M697.6,319.5a2.2,1.9 0 1,0 4.4,0a2.2,1.9 0 1,0 -4.4,0Z"/>
<path fill="#F46C2B" d="M698.5,319.5a1.2,1.2 0 1,0 2.5,0a1.2,1.2 0 1,0 -2.5,0Z"/>
<path fill="#F98C2F" d="M662.0,330.8 667.0,328.2 670.8,327.0 671.4,328.9 668.2,332.0 662.0,336.4Z"/>
<path fill="#F46C2B" d="M662.0,330.8 666.4,329.8 669.5,330.8 667.0,334.5 662.0,337.0Z"/>
<path fill="#E5482B" d="M662.0,331.8 665.1,331.0 667.0,332.0 665.1,334.2 662.0,335.8Z"/>
<path fill="#D31F28" d="M662.0,332.6 663.9,332.0 665.1,333.0 663.5,334.5 662.0,334.9Z"/>
<path fill="#F98C2F" d="M662.0,355.1 664.5,357.0 665.5,360.8 663.9,365.1 662.0,365.8Z M703.9,353.2 707.0,351.4 710.1,353.2 709.5,356.4 705.8,357.6Z"/>
<path fill="#F46C2B" d="M705.5,355.3a1.7,1.4 0 1,0 3.4,0a1.7,1.4 0 1,0 -3.4,0Z"/>
<path fill="#F98C2F" d="M762.0,288.2 766.4,282.0 771.4,275.8 775.1,272.0 780.8,272.0 776.4,278.9 771.4,285.1 767.0,289.5 763.9,291.4Z"/>
<path fill="#F46C2B" d="M772.0,275.1 775.1,272.0 780.1,272.0 777.6,275.8 773.9,279.5Z"/>
<path fill="#D31F28" d="M774.5,272.6 776.4,272.0 779.5,272.0 777.6,275.1 775.8,275.8Z"/>
<path fill="#B51A22" d="M775.5,272.0 778.9,272.0 777.6,275.1 776.0,275.5Z"/>
<path fill="#F46C2B" d="M754.0,325.8 755.5,323.2 756.6,325.1 755.8,328.9 754.5,330.8Z"/>
<path fill="#D31F28" d="M754.5,326.4a0.9,2.5 0 1,0 1.8,0a0.9,2.5 0 1,0 -1.8,0Z"/>
<path fill="#B51A22" d="M754.8,326.1a0.6,1.6 0 1,0 1.2,0a0.6,1.6 0 1,0 -1.2,0Z"/>
<path fill="#F98C2F" d="M735.8,370.8a1.4,1.9 0 1,0 2.8,0a1.4,1.9 0 1,0 -2.8,0Z"/>
<path fill="#F46C2B" d="M736.1,370.5a0.9,1.2 0 1,0 1.9,0a0.9,1.2 0 1,0 -1.9,0Z"/>
</g>
<g clip-path="url(#c15)">
<rect x="662" y="400" width="128" height="128" fill="#fff"/>
<path fill="#FFF3D1" d="M662.0,400.0 734.5,400.0 734.5,431.2 735.8,433.8 742.0,432.5 749.5,435.0 757.0,437.5 758.9,445.0 757.0,451.2 753.2,455.0 757.0,462.5 760.8,465.0 757.0,470.0 755.8,477.5 760.8,485.0 765.8,490.0 762.0,496.2 754.5,500.0 744.5,503.8 738.2,500.0 735.8,490.0 732.0,487.5 728.2,486.2 724.5,477.5 724.5,470.0 728.2,462.5 727.0,455.0 722.0,452.5 714.5,450.0 709.5,447.5 703.2,450.0 698.2,455.0 693.2,458.8 687.0,462.5 682.0,462.5 680.8,467.5 678.2,468.8 669.5,470.0 667.0,467.5 662.0,465.0Z"/>
<path fill="#FFFFFF" d="M675.8,407.5 687.0,406.9 694.5,410.0 703.2,411.2 709.5,413.8 703.2,416.9 694.5,415.6 684.5,415.0 677.0,413.8Z M699.5,422.5 704.5,421.2 712.0,422.5 715.8,425.0 713.2,430.0 709.5,433.8 704.5,436.2 703.2,441.2 700.8,437.5 693.2,436.2 687.0,433.8 684.5,430.0 692.0,429.4 697.0,426.2Z M678.2,438.8 684.5,441.2 689.5,446.2 688.9,452.5 685.8,457.5 682.0,455.0 679.5,448.8 675.8,443.8Z M662.0,436.2 667.0,437.5 673.2,441.2 672.0,447.5 669.5,450.0 662.0,449.0Z M720.8,436.9 723.9,436.9 723.9,440.0 721.0,439.8Z M712.0,412.5 720.8,411.9 734.5,408.1 734.5,425.6 727.0,426.5 720.8,426.9 717.0,425.0 714.5,421.2 711.4,417.5Z M669.5,460.0 674.5,458.8 678.2,462.5 674.5,466.2 669.5,465.0Z"/>
<path fill="#FCEA9C" d="M662.0,400.0 667.6,400.0 668.2,407.5 667.6,415.0 670.8,421.2 675.8,426.9 677.6,431.2 673.2,432.5 667.0,431.2 662.0,430.6Z"/>
<path fill="#FDCC69" d="M665.5,420.0a0.9,2.5 0 1,0 1.8,0a0.9,2.5 0 1,0 -1.8,0Z"/>
<path fill="#FCEA9C" d="M735.8,436.2 739.5,434.4 744.5,435.6 749.5,440.0 754.5,442.5 758.2,446.2 757.0,450.6 753.2,453.8 749.5,456.2 744.5,460.0 742.0,458.8 739.5,453.8 737.0,451.2 735.5,446.2Z"/>
<path fill="#FDCC69" d="M748.2,444.4 751.4,441.9 755.1,443.8 755.8,448.1 753.2,451.2 749.5,452.5 747.6,448.8Z M742.0,444.7a1.9,2.2 0 1,0 3.8,0a1.9,2.2 0 1,0 -3.8,0Z"/>
<path fill="#FCEA9C" d="M735.1,465.0 742.0,463.8 749.5,465.0 748.2,470.0 743.2,475.0 737.0,477.5 732.0,476.2 731.4,470.0Z M748.2,481.2 753.2,480.0 758.2,485.0 762.0,487.5 764.5,490.0 760.8,495.0 754.5,497.5 747.0,500.0 743.2,498.8 744.5,492.5 747.0,487.5Z M713.9,428.8 718.2,428.1 720.8,431.2 718.9,434.4 715.1,433.8Z M685.1,434.4 693.2,433.1 698.9,434.4 698.2,437.5 689.5,438.1Z M707.0,400.0 714.5,400.0 713.2,402.2 708.9,402.5Z"/>
<path fill="#FFF3D1" d="M662.0,449.4 665.8,450.0 669.5,453.8 670.8,458.8 668.2,462.5 662.0,463.8Z"/>
<path fill="#FDCC69" d="M662.0,450.6 665.1,451.2 667.0,455.0 665.8,459.4 662.0,460.0Z"/>
<path fill="#F98C2F" d="M662.0,451.5 664.2,452.2 665.5,455.0 664.5,458.1 662.0,458.8Z"/>
<path fill="#E5482B" d="M662.0,452.5 663.5,453.1 664.2,455.0 663.2,457.2 662.0,457.5Z"/>
<path fill="#FFF3D1" d="M667.6,493.8 673.2,487.5 680.8,481.2 684.5,486.2 693.2,485.0 695.8,487.5 692.0,492.5 687.0,496.2 679.5,497.5 672.0,500.0 668.2,498.8Z M727.0,520.0 730.1,520.2 730.1,525.0 727.2,524.8Z"/>
</g>
<g clip-path="url(#c16)">
<rect x="662" y="528" width="128" height="128" fill="#fff"/>
<path fill="#FFF3D1" d="M708.2,541.8 712.0,538.6 717.0,536.8 722.0,535.5 723.2,538.0 718.2,541.8 714.5,544.2 710.8,545.5Z"/>
<path fill="#FCEA9C" d="M710.1,540.5 713.2,539.9 713.9,543.0 711.4,544.2Z"/>
<path fill="#FEAC33" d="M710.8,542.4a1.2,1.2 0 1,0 2.5,0a1.2,1.2 0 1,0 -2.5,0Z"/>
<path fill="#FFF3D1" d="M691.4,558.0 693.9,558.2 693.6,561.1 691.6,560.8Z M662.0,564.2 663.0,564.5 663.0,568.0 662.0,568.0Z M750.8,532.4 753.9,529.9 757.6,531.1 758.2,534.2 755.1,536.8 752.0,535.5Z M738.9,543.6 740.8,540.5 742.0,543.0 740.1,546.8 738.9,548.6Z"/>
</g>
<g clip-path="url(#c18)">
<path fill="#FFF3D1" d="M806.2,211.5 810.0,207.8 815.0,206.5 816.9,200.2 821.2,191.5 826.2,184.0 832.5,179.0 836.9,176.2 841.9,177.8 842.5,182.8 841.2,189.0 846.2,194.0 845.0,197.8 840.0,199.0 833.8,196.5 828.8,200.2 825.0,206.5 823.8,212.8 825.6,217.8 823.8,224.0 819.4,226.5 818.8,231.5 820.6,236.5 818.1,240.9 815.6,239.0 815.0,231.5 812.5,234.0 808.8,239.0 803.8,244.0 797.5,246.5 790.0,245.9 790.0,237.1 795.0,235.2 798.8,230.2 801.9,224.0 804.4,217.8Z"/>
<path fill="#FCEA9C" d="M801.9,231.5 803.1,225.2 805.0,220.2 808.1,217.8 811.9,219.0 813.1,222.8 811.2,227.8 808.8,232.8 805.6,237.8 803.1,242.8 800.6,240.2Z M818.8,202.1 821.2,200.9 821.9,202.8 819.4,204.6Z"/>
<path fill="#FDCC69" d="M802.2,237.1 803.1,229.0 805.0,222.1 808.1,219.6 810.6,221.5 810.0,227.1 807.5,233.4 804.8,239.6 802.9,240.9Z"/>
<path fill="#FEAC33" d="M805.2,225.2 807.2,221.2 809.4,222.5 808.8,227.1 806.5,230.2 805.0,229.0Z M802.5,237.8 803.2,233.4 804.8,235.9 803.5,240.0Z"/>
<path fill="#FFF3D1" d="M795.6,186.5 799.4,183.4 803.8,183.4 803.8,187.8 801.2,192.1 796.2,191.5Z M865.0,175.2 870.0,175.2 869.4,179.6 870.6,183.4 867.5,186.5 865.0,184.0Z M875.0,204.0 878.8,204.2 878.5,205.9 875.2,205.8Z M873.1,212.1 878.1,212.2 877.9,214.0 873.4,213.8Z M854.4,225.2 858.1,222.1 861.2,224.6 858.8,228.4 855.0,228.0Z M888.1,215.9 893.8,214.6 898.1,217.1 896.9,222.1 892.5,222.8 888.8,220.2Z M879.4,262.8 882.5,255.2 885.0,250.2 888.8,251.5 891.2,254.0 890.6,261.5 890.0,269.0 888.8,272.0 880.0,272.0Z"/>
<path fill="#FCEA9C" d="M881.9,260.2 883.8,254.0 886.9,252.1 888.8,255.2 887.5,260.2 885.0,264.0 882.5,263.4Z"/>
<path fill="#FDCC69" d="M883.5,255.9 885.6,252.8 887.5,254.6 886.2,258.4 884.0,258.4Z"/>
<path fill="#F98C2F" d="M884.4,255.1a1.2,1.4 0 1,0 2.5,0a1.2,1.4 0 1,0 -2.5,0Z"/>
<path fill="#FFF3D1" d="M825.6,144.0 828.8,144.0 828.1,145.9 826.0,145.8Z M806.2,260.2 808.1,260.5 807.9,262.8 806.4,262.5Z M855.0,257.1 858.8,257.2 858.5,258.4 855.2,258.2Z"/>
</g>
<g clip-path="url(#c19)">
<rect x="790" y="272" width="128" height="128" fill="#fff"/>
<path fill="#FFF3D1" d="M796.9,346.4 802.5,344.5 808.8,343.9 815.0,344.5 821.2,344.5 825.6,345.8 826.9,350.1 825.0,354.5 827.5,359.5 831.2,364.5 830.0,368.2 826.2,367.6 822.5,364.5 819.4,360.8 815.0,360.1 810.6,359.5 806.2,357.0 801.9,353.9 798.1,350.1Z"/>
<path fill="#FCEA9C" d="M799.4,348.2 803.8,346.4 810.0,345.8 816.2,346.4 821.9,347.6 823.8,352.0 822.5,357.0 818.8,358.9 813.8,358.9 808.8,357.0 804.4,353.9 801.2,351.4Z"/>
<path fill="#FDCC69" d="M801.9,348.9 806.2,347.6 812.5,347.6 818.8,348.9 821.2,352.6 820.0,357.0 815.0,358.2 810.0,355.8 805.6,353.2Z"/>
<path fill="#FEAC33" d="M805.0,349.5 810.0,348.5 816.2,349.2 820.0,352.0 820.0,355.8 816.2,357.6 811.2,355.8 807.5,353.2Z"/>
<path fill="#F98C2F" d="M808.8,350.1 815.0,349.8 819.4,352.0 819.4,355.1 815.6,356.4 811.9,354.5Z"/>
<path fill="#F46C2B" d="M811.2,350.8 816.9,350.8 819.0,353.2 817.5,355.5 813.8,354.5Z"/>
<path fill="#E5482B" d="M813.1,352.9a2.7,1.6 0 1,0 5.4,0a2.7,1.6 0 1,0 -5.4,0Z"/>
<path fill="#FFF3D1" d="M811.2,362.0 816.9,362.6 818.1,369.5 819.4,378.2 818.8,384.5 820.0,392.0 818.8,400.0 802.5,400.0 807.5,395.8 810.0,390.8 811.9,382.0 812.5,372.0Z"/>
<path fill="#FCEA9C" d="M808.8,392.0 815.0,388.2 818.1,392.0 817.5,400.0 806.2,400.0Z"/>
<path fill="#FFF3D1" d="M880.2,272.0 883.1,272.0 882.5,275.1 880.6,275.8Z"/>
</g>
<g clip-path="url(#c20)">
<rect x="790" y="400" width="128" height="128" fill="#fff"/>
<path fill="#FFF3D1" d="M793.8,406.2 797.5,402.5 805.0,400.0 818.8,400.0 818.1,405.0 812.5,411.2 807.5,416.2 802.5,419.4 798.1,420.6 795.0,416.2 793.1,411.2Z"/>
</g>
<g clip-path="url(#c23)">
<rect x="598" y="336" width="128" height="128" fill="#fff"/>
<path fill="#FFF3D1" d="M598.0,336.0 726.0,336.0 726.0,464.0 598.0,464.0Z"/>
<path fill="#FFFFFF" d="M598.0,336.0 635.5,336.0 634.2,343.5 629.2,349.8 629.2,356.0 635.5,353.5 641.1,352.9 641.8,362.2 640.5,368.5 635.5,372.2 634.2,378.5 629.2,383.5 623.0,386.0 618.0,387.2 617.4,376.0 614.2,373.5 610.5,376.0 609.2,388.5 604.2,389.1 598.0,388.5Z M645.5,346.0 653.0,345.4 656.8,348.5 653.0,356.0 648.0,352.2Z M648.0,369.1 651.8,368.5 652.4,374.8 648.6,376.0Z M598.0,397.9 605.5,394.8 610.5,394.8 619.2,396.0 626.8,398.5 634.2,403.5 638.0,411.0 635.5,417.2 629.2,422.2 624.9,427.9 627.4,434.8 623.0,442.2 626.8,448.5 621.8,456.0 624.2,464.0 598.0,464.0Z M638.8,441.5 642.5,432.1 651.2,430.9 656.2,435.9 658.8,439.6 655.0,444.0 650.6,440.9 648.1,444.6 645.6,452.1 642.5,451.5 640.6,448.4Z M678.0,402.2 685.5,394.8 690.5,398.5 698.0,401.0 706.8,407.2 710.5,416.0 718.0,421.0 723.0,423.5 723.0,431.0 715.5,436.0 710.5,443.5 705.5,439.8 698.0,436.0 690.5,431.0 683.0,423.5 678.0,426.0 673.0,422.2 671.8,416.0 674.2,408.5Z"/>
<path fill="#FFF3D1" d="M675.5,417.9 685.5,416.0 698.0,418.5 699.2,422.2 685.5,421.0 676.8,422.2Z M685.5,434.1 700.5,433.5 700.2,437.0 685.8,437.2Z"/>
<path fill="#FFFFFF" d="M657.5,445.2 660.0,443.4 665.0,438.4 670.0,436.5 675.0,442.8 680.0,445.2 683.1,449.0 680.0,453.4 682.5,459.0 683.8,462.1 673.8,462.1 670.0,450.2 665.0,449.6 661.2,450.2 656.2,449.0Z M718.0,433.5 726.0,432.2 726.0,448.5 720.5,446.0 716.8,439.8Z M710.5,412.2 720.5,411.6 726.0,409.1 726.0,426.0 720.5,426.6 715.5,424.8 713.0,421.0 709.9,417.2Z M698.0,456.0 704.2,452.2 710.5,448.5 715.5,447.9 723.0,452.2 726.0,452.9 726.0,464.0 695.5,464.0Z"/>
<path fill="#FCEA9C" d="M656.8,336.0 726.0,336.0 726.0,406.0 715.5,403.5 708.0,398.5 698.0,394.8 690.5,392.2 685.5,391.0 678.0,393.5 673.0,398.5 668.0,406.0 666.8,416.0 670.5,423.5 678.0,428.5 680.5,434.8 668.0,436.0 660.5,432.2 658.0,426.0 653.0,421.0 646.8,416.0 645.5,406.0 646.8,398.5 640.5,394.8 634.2,391.0 629.2,391.0 634.2,384.8 639.2,378.5 641.8,373.5 641.1,367.2 643.0,361.0 645.5,354.8 653.0,356.6 656.8,348.5Z"/>
<path fill="#FFF3D1" d="M669.2,341.0 678.0,338.5 685.5,343.5 684.2,351.0 675.5,353.5 669.2,348.5Z M629.9,354.8 635.5,353.5 641.1,352.9 648.0,354.8 651.8,361.0 650.5,368.5 648.0,376.0 643.0,379.8 639.2,378.5 635.5,381.0 630.5,383.5 634.2,378.5 635.5,372.2 640.5,368.5 641.8,362.2Z M695.5,361.0 705.5,358.5 716.8,359.8 723.0,366.0 721.8,376.0 714.2,382.2 705.5,387.2 696.8,386.0 694.2,378.5 696.8,371.0Z M674.2,388.5 684.2,387.9 686.8,392.2 678.0,394.1Z"/>
<path fill="#FFFFFF" d="M706.8,364.8 715.5,362.9 719.9,367.2 718.0,373.5 710.5,378.5 704.2,383.5 699.2,382.2 699.9,377.2 704.2,372.2Z M721.1,378.5 724.9,377.9 724.9,382.9 721.1,383.2Z M708.0,336.0 726.0,336.0 726.0,338.5 718.0,341.0 710.5,338.5Z M645.5,346.0 653.0,345.4 656.8,348.5 653.0,356.0 648.0,352.2Z M648.0,369.1 651.8,368.5 652.4,374.8 648.6,376.0Z"/>
<path fill="#FDCC69" d="M658.0,336.0 668.0,336.0 669.2,343.5 670.5,351.0 673.0,358.5 674.2,367.2 678.0,371.0 684.2,369.8 685.5,372.2 678.0,376.0 673.0,381.0 669.2,386.0 668.0,391.0 663.0,394.8 656.8,396.0 650.5,394.8 645.5,391.0 646.1,386.0 651.8,384.1 659.2,384.8 663.0,378.5 665.5,372.2 660.5,371.0 655.5,366.0 656.8,359.8 659.2,353.5 659.2,346.0Z M675.5,361.0 683.0,352.2 693.0,346.0 704.2,343.5 713.0,346.0 716.8,352.2 714.2,357.2 706.8,358.5 698.0,359.8 693.0,364.8 688.0,369.8 684.2,367.2 678.0,367.2Z M669.2,384.8 675.5,377.2 684.2,373.5 691.8,374.8 695.5,379.8 693.0,384.8 685.5,387.2 678.0,386.0 673.0,388.5Z M700.5,391.0 708.0,389.8 710.5,393.5 715.5,394.8 726.0,394.8 726.0,401.0 718.0,401.0 710.5,399.8 704.2,397.2Z M676.8,338.5 679.2,338.5 679.2,347.2 677.0,347.0Z M635.5,392.9 639.2,393.1 639.0,395.4 635.8,395.1Z M665.5,417.9 667.4,417.2 667.8,422.9 666.1,423.5Z"/>
<path fill="#FEAC33" d="M660.5,352.2 665.5,351.0 669.2,357.2 668.0,364.8 663.0,368.5 658.6,364.8 659.2,357.2Z M701.8,352.2 706.8,349.1 712.4,351.6 713.0,356.0 708.0,359.1 703.0,356.6Z M686.8,378.5 691.1,377.9 693.6,381.0 691.1,383.5 687.4,382.2Z M659.2,336.0 668.0,336.0 666.8,339.8 661.8,340.4Z"/>
<path fill="#F98C2F" d="M661.1,358.5 665.5,357.9 666.8,362.9 663.6,367.2 660.5,364.1Z"/>
<path fill="#F46C2B" d="M661.8,362.9a1.9,3.1 0 1,0 3.8,0a1.9,3.1 0 1,0 -3.8,0Z"/>
<path fill="#F98C2F" d="M704.9,352.9 708.6,352.2 709.9,355.4 706.8,357.2Z"/>
<path fill="#F46C2B" d="M705.5,355.1a1.8,1.6 0 1,0 3.5,0a1.8,1.6 0 1,0 -3.5,0Z"/>
<path fill="#F98C2F" d="M660.5,336.0 666.8,336.0 665.5,339.1 662.4,339.1Z"/>
<path fill="#E5482B" d="M661.8,336.0 666.1,336.0 665.2,338.2 662.8,338.2Z"/>
<path fill="#F98C2F" d="M689.2,381.0a1.9,1.9 0 1,0 3.8,0a1.9,1.9 0 1,0 -3.8,0Z"/>
<path fill="#FCEA9C" d="M633.6,336.0 648.0,336.0 649.9,341.0 646.8,347.9 639.2,349.1 634.2,344.1Z"/>
<path fill="#FEAC33" d="M639.0,342.2a2.5,1.9 0 1,0 5.0,0a2.5,1.9 0 1,0 -5.0,0Z"/>
<path fill="#F46C2B" d="M639.9,342.1a1.4,1.4 0 1,0 2.9,0a1.4,1.4 0 1,0 -2.9,0Z"/>
<path fill="#E5482B" d="M640.5,342.1a0.8,0.9 0 1,0 1.5,0a0.8,0.9 0 1,0 -1.5,0Z"/>
<path fill="#FCEA9C" d="M650.5,453.5 655.5,450.4 664.2,449.8 668.0,453.5 666.1,459.1 658.0,460.4 651.8,458.5Z"/>
<path fill="#FDCC69" d="M653.0,453.5 658.0,451.6 664.9,451.6 666.1,456.0 663.0,459.1 655.5,459.1Z"/>
<path fill="#F98C2F" d="M654.9,454.1 659.2,452.2 664.2,452.9 664.9,456.0 661.1,458.5 656.1,457.9Z"/>
<path fill="#F46C2B" d="M657.4,453.5 663.0,452.5 664.9,455.0 662.4,457.9 658.6,457.5Z"/>
<path fill="#E5482B" d="M659.2,453.5 663.6,452.5 664.5,455.4 661.8,457.5 659.5,456.6Z"/>
<path fill="#FCEA9C" d="M716.1,429.8 719.9,428.5 721.1,432.2 718.0,434.8Z"/>
</g>
<g clip-path="url(#c24)">
<rect x="726" y="224" width="95.9997" height="95.9997" fill="#fff"/>
<path fill="#FFF3D1" d="M726.0,284.0 731.6,279.3 738.2,276.5 744.7,272.7 752.2,268.1 758.8,265.2 765.4,261.5 771.0,259.6 774.7,255.9 777.6,251.2 778.5,245.6 781.3,242.7 786.9,239.9 793.5,236.2 800.1,232.4 801.9,226.8 803.8,224.0 819.7,224.0 820.2,229.6 819.7,237.1 817.4,240.9 816.0,236.2 814.1,232.4 810.4,235.2 806.6,240.9 801.0,244.2 795.4,246.0 790.7,246.5 788.8,251.2 787.9,256.8 786.9,263.4 786.0,269.0 787.4,274.6 784.1,278.4 781.3,281.2 779.4,285.9 774.7,290.6 769.1,296.2 764.4,300.9 761.6,305.6 757.9,310.2 754.1,315.9 753.2,320.0 735.4,320.0 733.5,316.8 731.6,312.1 726.0,314.0Z"/>
<path fill="#FFFFFF" d="M753.7,278.4 756.5,278.2 756.7,280.2 753.8,280.4Z M727.9,295.2 733.5,294.3 738.2,298.1 736.3,301.8 731.6,302.7 727.9,299.9Z"/>
<path fill="#FCEA9C" d="M757.9,287.7 760.7,282.1 763.5,276.5 767.2,269.9 771.0,264.3 774.7,260.6 778.5,259.6 781.3,263.4 783.2,269.0 786.0,272.7 784.1,277.4 780.4,280.2 778.5,284.9 773.8,289.6 768.2,295.2 763.5,298.1 758.8,297.1 756.9,292.4Z M743.3,299.0 746.6,295.2 750.4,293.4 756.9,292.9 762.6,296.2 761.6,301.8 757.9,307.4 754.1,312.1 750.4,314.0 746.6,310.2 743.8,304.6Z"/>
<path fill="#FDCC69" d="M758.8,288.7 762.1,282.1 765.4,275.6 769.1,269.0 772.9,263.4 777.1,261.0 780.4,264.3 782.2,269.9 783.2,275.6 779.9,279.3 777.1,284.0 772.9,288.7 768.2,293.4 763.5,296.2 759.7,294.3Z M744.3,298.1 746.6,295.7 749.0,296.2 748.5,299.9 746.2,300.9Z M753.2,298.1 756.0,294.3 759.7,295.2 761.2,299.0 758.8,303.7 755.1,306.5 753.2,303.7Z"/>
<path fill="#FEAC33" d="M759.7,288.7 763.0,282.6 766.3,276.0 770.1,269.5 773.3,264.8 776.6,262.4 779.4,265.2 781.3,270.9 781.8,275.1 779.0,278.4 776.2,283.1 771.9,287.7 767.2,292.4 763.0,294.8 760.5,292.9Z"/>
<path fill="#F98C2F" d="M761.2,288.7 764.0,283.1 767.2,277.0 770.8,270.4 773.8,266.2 776.4,263.8 778.7,266.2 780.4,271.3 780.6,274.6 778.0,277.4 775.2,281.7 771.0,286.3 766.5,290.7 763.0,292.9 761.6,291.5Z"/>
<path fill="#F46C2B" d="M762.1,288.7 764.9,284.0 768.2,278.4 771.5,272.7 772.7,267.6 774.7,265.2 777.1,265.2 779.0,268.1 779.9,272.7 779.4,275.4 776.6,277.9 773.3,281.7 769.6,285.4 765.8,289.2 763.3,291.0Z"/>
<path fill="#E5482B" d="M771.9,268.1 774.3,265.7 776.6,266.2 778.5,269.0 779.4,273.2 778.5,276.0 776.2,276.5 773.8,273.7 772.4,270.9Z"/>
<path fill="#D31F28" d="M772.9,268.1 774.7,266.4 776.6,267.3 778.0,269.9 779.0,273.7 778.0,276.0 776.4,276.0 774.3,272.7 773.1,270.4Z"/>
<path fill="#B51A22" d="M773.8,268.1 775.2,266.9 776.6,268.1 777.7,270.9 778.5,274.2 777.6,276.5 776.6,276.0 774.7,272.3Z"/>
<path fill="#92161B" d="M774.7,268.1 775.9,267.6 777.1,269.5 778.0,272.7 778.0,275.6 777.1,276.5 775.7,272.7Z"/>
<path fill="#FCEA9C" d="M800.5,237.1 802.4,229.6 804.7,224.0 812.2,224.0 809.4,228.7 806.6,234.3 803.8,239.9 801.5,240.4Z"/>
<path fill="#FDCC69" d="M801.9,236.2 803.3,229.6 805.7,224.0 810.4,224.0 807.6,228.7 805.2,234.3 803.3,239.0Z"/>
<path fill="#FEAC33" d="M802.4,238.1 803.3,233.4 804.6,233.8 803.8,238.5Z"/>
<path fill="#FFF3D1" d="M806.2,260.1 808.0,260.3 807.8,262.4 806.3,262.2Z"/>
<path fill="#FCEA9C" d="M726.0,308.4 729.7,307.4 732.6,311.2 731.6,320.0 726.0,320.0Z"/>
<path fill="#FDCC69" d="M726.0,310.2 728.8,309.8 730.2,314.0 729.3,320.0 726.0,320.0Z"/>
</g>
<g clip-path="url(#c26)">
<path fill="#FFF3D1" d="M903.0,397.0 905.5,395.8 908.6,395.1 911.8,395.1 911.1,397.6 908.6,398.6 905.5,398.9 903.3,398.8Z M875.2,404.6 878.6,404.8 878.5,405.8 875.4,405.6Z"/>
</g>
</g>
<g><line class="g" x1="159.5" y1="87" x2="159.5" y2="748.75"/>
<line class="g" x1="351.5" y1="87" x2="351.5" y2="748.75"/>
<line class="g" x1="542.5" y1="87" x2="542.5" y2="748.75"/>
<line class="g" x1="734.5" y1="87" x2="734.5" y2="748.75"/>
<line class="g" x1="925.5" y1="87" x2="925.5" y2="748.75"/>
<line class="g" x1="156.5" y1="220.3" x2="929" y2="220.3"/>
<line class="g" x1="156.5" y1="463.1" x2="929" y2="463.1"/>
<line class="g" x1="156.5" y1="671.3" x2="929" y2="671.3"/></g>
<g clip-path="url(#cp)" class="b">
<path d="M157.0,300.0 158.4,299.2 160.0,298.8 161.7,297.5 163.8,297.0 165.4,296.9 167.0,296.5 168.1,297.9 168.1,299.7 168.8,301.2 170.6,300.8 172.4,300.1 174.4,300.3 176.2,300.0 177.5,297.8 179.5,296.2 180.4,294.1 181.0,291.9 182.5,290.0 184.6,289.2 186.9,289.3 189.1,289.5 191.2,288.8 193.1,288.0 194.9,287.8 196.9,288.0 198.8,287.5 200.4,286.6 201.3,285.1 202.4,283.7 203.8,282.5 205.8,282.0 207.0,280.0 209.2,279.9 210.6,278.3 212.5,277.5 214.4,276.4 216.3,275.6 218.4,275.0 220.6,274.9 222.5,273.8 223.8,272.6 225.5,272.2 227.0,271.2 226.9,269.3 226.2,267.5 226.1,265.6 225.8,263.8 225.8,261.5 226.4,259.4 227.5,257.5 229.3,256.5 231.2,256.2 230.5,253.8 232.2,253.3 233.8,252.5 233.2,250.5 232.5,248.6 232.3,246.5 231.7,244.5 231.2,242.5 230.5,240.6 230.6,238.4 230.0,236.4 229.0,234.6 228.8,232.5 228.8,230.6 228.8,228.8 229.2,226.9 228.8,225.0 226.8,224.1 224.5,223.9 222.5,223.0 223.0,220.5 225.1,220.6 226.9,219.1 229.0,218.9 231.1,218.8 232.9,217.6 235.0,217.5 237.0,216.7 238.8,215.5 241.1,215.4 243.1,214.8 245.0,213.8 246.2,215.4 247.5,217.0 249.2,217.2 250.8,216.3 252.5,216.2 254.3,217.1 256.2,217.5 256.8,215.9 257.2,214.2 257.5,212.5 255.6,211.5 253.8,210.5 254.7,208.7 255.4,206.8 255.5,204.7 256.3,202.8 256.1,200.7 257.5,198.9 258.0,197.0 258.9,195.2 259.3,193.2 259.3,191.1 260.0,189.1 260.9,187.3 260.7,185.1 261.8,183.4 262.0,181.3 263.0,179.5 265.0,179.7 267.0,180.2 268.6,181.6 270.7,181.5 272.5,182.5 274.4,182.4 276.3,182.8 278.1,183.6 280.1,182.8 281.9,183.5 283.8,183.8 285.0,186.2 286.8,185.3 288.7,184.6 290.4,183.6 292.2,182.6 293.8,181.2 294.3,179.5 295.3,177.9 296.2,176.2 295.7,174.4 296.0,172.4 295.8,170.5 294.5,168.8 294.2,166.9 294.2,165.0 294.4,163.0 294.9,161.2 295.7,159.4 296.2,157.5 298.3,157.0 300.2,156.0 302.1,155.1 304.2,155.0 306.2,154.5 307.4,152.9 308.8,151.6 310.0,150.0 310.5,147.8 310.0,145.5 312.0,144.2 313.8,142.5 315.9,142.2 318.1,142.0 320.3,141.8 322.5,141.2 323.6,143.2 323.2,145.5 324.2,147.5 324.6,149.3 325.2,151.0 326.2,152.5 327.6,153.7 329.4,154.3 331.0,155.2 332.5,156.2 334.1,157.7 334.9,159.8 336.7,161.2 337.9,162.9 338.8,165.0 340.5,163.7 342.5,163.0 344.5,163.0 346.2,163.8 347.1,165.3 347.5,167.0 349.4,166.7 351.2,167.5 352.9,168.3 354.0,169.7 355.3,170.9 356.2,172.5 357.3,174.3 358.6,176.0 358.7,178.3 360.0,180.0 361.1,181.7 362.8,183.1 363.8,185.0 364.2,186.8 364.3,188.7 364.5,190.6 364.5,192.5 364.5,194.6 363.3,196.4 362.7,198.4 362.9,200.5 362.5,202.5 361.8,204.4 361.5,206.4 360.7,208.3 359.5,210.0 360.7,212.0 361.8,214.0 362.5,216.2 364.3,217.1 366.4,216.9 368.3,217.2 370.0,218.2 372.0,218.9 374.0,218.6 376.0,218.3 378.0,218.9 380.0,219.0 382.0,218.5 384.0,219.2 386.0,219.9 388.0,219.8 390.0,219.5 392.0,220.3 394.2,220.4 396.2,221.2 397.9,222.4 399.6,223.4 400.7,225.3 402.5,226.2 404.2,227.5 406.0,228.8
M406.0,285.0 404.3,286.3 403.1,288.3 401.7,289.9 400.0,291.2 398.7,292.6 397.6,294.1 396.8,295.7 396.2,297.5 394.3,297.6 392.4,298.1 390.6,298.7 388.8,299.5 388.7,301.4 388.0,303.2 387.9,305.1 387.9,307.0 387.0,308.8 387.9,310.5 387.8,312.5 388.2,314.3 387.9,316.3 387.9,318.2 388.8,320.0
M355.0,336.0 354.3,334.3 353.8,332.5 355.7,332.2 357.5,331.5 359.2,330.8 360.7,329.4 362.5,328.8 364.2,327.7 365.9,327.0 367.7,326.3 369.5,325.6 371.5,325.3 373.4,324.9 375.0,323.8 377.1,323.7 378.9,322.8 380.9,322.5 382.9,322.2 384.7,320.9 386.8,321.2 388.8,320.5 390.7,320.7 392.6,320.3 394.4,319.9 396.2,319.3 398.1,318.7 400.0,318.8 402.0,318.8 404.0,318.1 406.0,318.0
M556.0,87.5 554.1,87.2 552.2,87.1 550.4,87.8 548.5,87.9 546.6,87.3 544.7,87.6 542.9,88.3 541.0,88.0 539.1,88.7 537.1,89.0 534.9,88.4 532.9,88.8 531.0,89.5 529.5,90.5 527.5,90.3 526.0,91.2 527.5,93.3 529.8,94.5 531.8,95.1 534.0,95.2 536.0,95.8 537.9,95.5 539.7,94.7 541.5,94.2 543.5,94.5 545.6,94.4 547.3,93.4 549.1,92.7 551.0,92.0 552.8,91.6 554.0,90.3 555.5,89.5 556.0,87.5
M406.0,227.5 407.7,228.8 409.6,229.7 411.8,230.0 413.5,231.2 415.6,231.4 417.7,231.8 419.8,232.5 420.3,234.1 420.1,235.8 420.5,237.5 421.7,239.0 422.6,240.8 423.5,242.5 424.7,244.1 424.5,246.2 425.9,247.7 426.5,249.5 427.2,251.2 428.2,253.0 428.8,254.8 430.3,256.2 430.8,258.1 432.2,259.5 434.3,259.4 436.3,259.3 438.3,259.2 440.2,258.5 442.2,259.0 444.2,259.3 446.2,259.3 448.2,259.4 450.0,260.6 452.1,260.2 454.0,260.9 456.0,261.2 457.9,261.7 459.7,261.6 461.6,261.5 463.5,261.9 465.4,262.1 467.2,262.5 469.2,261.9 471.0,262.5 472.9,262.4 474.7,261.9 476.6,261.8 478.5,262.2 480.4,261.7 482.3,261.6 484.2,261.7 486.0,261.2 487.9,262.1 489.9,261.9 491.9,262.5 493.9,262.7 495.8,263.1 497.7,263.6 499.8,263.8 501.3,265.0 502.9,266.3 504.5,267.5 506.0,268.8 507.8,269.9 509.9,270.3 511.9,271.1 513.8,271.9 516.0,272.0 518.0,272.3 519.7,273.2 521.5,274.3 523.4,274.7 525.5,274.5 527.2,275.5 529.5,275.2 531.6,275.8 533.9,275.6 536.0,276.2 537.2,277.3 538.0,278.8 539.7,278.5 541.3,279.5 543.0,279.5 545.0,278.8 546.9,277.9 548.4,276.1 550.6,275.7 552.4,274.7 553.9,273.1 556.0,272.5 558.1,272.1 560.1,271.5 561.7,269.9 564.0,269.9 565.7,268.5 567.7,267.8 569.8,267.6 571.7,266.6 573.5,265.5 575.6,265.0 577.7,265.3 579.8,265.3 581.8,265.0 583.9,264.7 586.0,265.0 588.0,264.8 589.9,265.3 591.9,264.4 593.9,265.1 595.8,264.9 597.8,264.4 599.8,265.0 601.7,263.9 603.8,263.3 605.8,262.3 607.5,260.9 609.8,260.5 611.6,259.4 612.9,257.7 614.5,256.3 615.2,254.0 616.8,252.6 618.5,251.2 619.9,249.7 622.0,249.5 623.4,247.9 624.9,246.7 626.8,246.0 628.5,245.0 630.5,243.4 631.8,241.2 631.1,239.0 629.8,237.0 627.9,235.9 626.2,234.7 624.8,233.0 625.7,230.8 625.7,228.5 626.0,226.2 627.1,224.7 627.4,222.6 628.3,220.9 629.8,219.5 631.5,219.2 633.1,218.4 634.8,218.0 636.9,218.7 638.2,220.7 640.3,221.5 642.2,222.5 644.4,223.2 646.7,222.6 648.8,223.9 651.0,223.8 652.3,222.5 654.3,222.5 655.7,221.3 657.2,220.5 658.7,219.2 660.5,218.2 662.0,217.0
M432.2,259.5 430.8,260.6 430.3,262.5 429.0,263.8 429.2,265.9 428.5,267.9 428.6,270.0 428.0,272.0
M442.2,259.0 443.4,260.8 444.1,262.8 445.0,264.7 445.6,266.7 446.0,268.8 447.4,270.2 448.5,272.0
M662.0,217.0 663.8,215.7 665.9,215.0 667.5,213.4 669.5,212.5 671.5,212.0 673.4,211.1 675.5,210.8 677.4,209.9 679.5,210.0 680.9,208.5 682.3,207.0 684.4,206.5 685.8,205.0 686.6,203.4 687.1,201.5 688.2,200.0 689.8,198.9 691.7,198.2 692.7,196.2 694.5,195.5 696.6,195.7 698.7,195.1 700.8,195.0 702.0,193.3 703.6,191.9 704.5,190.0 706.3,189.1 708.3,188.5 710.2,188.0 712.0,187.0 714.2,187.4 716.4,186.4 718.6,186.8 720.8,186.2 722.6,187.3 724.5,188.1 726.5,188.8 727.2,190.4 727.8,192.0 728.2,193.8 729.1,192.0 730.4,190.6 731.6,189.1 733.2,188.0 732.9,185.9 731.7,184.1 731.0,182.1 730.8,180.0 728.9,179.1 727.9,177.2 726.3,175.9 724.5,175.0 723.8,173.2 722.6,171.8 722.0,170.0 720.2,169.0 718.7,167.7 717.3,166.3 715.8,165.0 713.8,165.1 712.0,164.4 710.1,164.3 708.2,163.8 706.3,164.9 704.7,166.5 703.5,168.4 702.0,170.0 700.0,169.3 698.5,167.6 696.3,167.4 694.5,166.2 692.3,166.7 690.2,167.5 688.0,167.3 685.8,167.5 684.1,168.4 682.4,169.2 680.8,170.0 679.2,168.5 678.3,166.7 677.0,165.0 676.6,163.3 677.1,161.6 677.5,160.0 678.2,158.1 679.6,156.6 680.8,155.0 680.7,153.1 681.2,151.3 682.0,149.7 682.4,147.9 683.2,146.2 684.2,144.5 684.9,142.8 686.0,141.1 686.7,139.3 687.6,137.6 688.6,135.9 688.9,133.9 689.7,132.2 691.2,130.7 691.5,128.8 693.6,129.0 695.4,130.3 697.4,130.8 699.5,131.2 701.3,131.6 702.4,133.2 704.0,134.1 705.8,134.5 707.6,133.5 709.4,132.4 711.2,131.4 712.5,129.5 714.5,128.8 716.3,127.9 718.0,127.1 719.9,126.6 721.7,125.7 723.2,124.5 723.8,122.8 723.7,121.0 724.3,119.3 724.0,117.5 724.9,115.7 725.6,113.8 725.8,111.8 726.3,109.8 727.1,108.0 728.2,106.2 728.9,104.5 729.4,102.6 731.0,101.3 731.4,99.4 732.3,97.7 733.1,96.0 733.9,94.3 734.5,92.5 735.7,91.2 736.6,89.6 738.5,89.0 739.5,87.5
M769.0,87.5 769.3,89.6 770.2,91.5 770.8,93.5 771.2,95.6 772.0,97.5 774.1,97.4 775.9,98.6 778.1,98.4 780.1,98.6 782.0,99.5 783.6,98.7 785.4,98.8 787.0,98.0 788.8,97.2 790.8,97.4 792.8,97.2 794.5,96.2 796.0,94.8 797.4,93.3 799.0,92.0 801.1,92.9 803.2,93.8 804.3,95.4 805.5,97.0 806.9,98.3 808.1,99.9 809.5,101.2 810.9,102.9 811.5,105.0 810.7,107.1 809.5,108.9 807.9,110.5 807.0,112.5 806.6,114.3 805.6,115.8 805.0,117.5 804.7,119.5 803.8,121.2 802.7,122.9 801.4,124.4 800.8,126.2 800.3,128.1 800.1,130.0 800.4,131.9 799.9,133.7 799.8,135.6 799.5,137.5 798.5,139.3 797.9,141.2 796.1,142.5 795.8,144.7 794.5,146.2 793.4,148.3 793.0,150.5 793.6,152.9 792.5,155.0 792.1,156.8 791.3,158.4 790.6,160.1 790.8,162.0 790.3,160.3 789.6,158.6 789.1,156.8 789.0,155.0 787.1,155.8 786.0,157.8 784.2,158.7 782.9,160.3 781.1,161.2 779.5,162.5 777.6,163.6 776.8,165.8 774.7,166.7 773.5,168.5 772.0,170.0 770.3,170.9 769.0,172.3 768.0,174.0 766.1,174.6 765.0,176.2 764.8,178.1 764.5,180.0 766.3,180.8 767.7,182.1 768.6,183.7 770.0,185.0 771.9,184.5 773.8,183.9 775.8,183.8 777.9,184.6 779.5,186.2 778.4,188.2 777.0,190.0 775.1,190.2 773.2,190.0 772.8,192.1 773.8,194.2 773.2,196.2 775.2,196.8 777.2,197.2 779.3,196.5 781.2,197.8 783.2,197.5 783.4,199.6 783.6,201.8 784.5,203.8 786.0,205.3 787.1,207.0 788.2,208.8 790.4,209.5 792.2,211.0 794.5,211.2 796.4,211.5 798.3,211.5 800.1,211.7 802.0,212.0 803.8,211.4 805.8,211.2 807.4,212.1 808.6,213.4 809.5,215.0 811.5,216.0 813.7,216.1 815.8,217.0 817.6,217.7 819.6,217.0 821.5,217.5 822.6,218.9 823.2,220.5 824.0,222.0
M824.0,222.0 824.9,223.7 825.3,225.6 825.8,227.5 827.6,228.8 829.7,229.6 832.0,230.0 832.5,232.2 833.5,234.2 834.5,236.2 835.9,234.9 836.8,233.4 837.4,231.6 838.2,230.0 839.8,230.9 841.5,231.2 842.6,233.2 842.4,235.5 843.2,237.5 844.5,239.0 845.5,240.8 846.9,242.3 848.2,243.8 849.7,244.8 850.8,246.2 851.2,244.4 853.1,243.4 853.2,241.3 854.5,240.0 856.2,240.4 857.9,240.7 859.5,241.2 860.5,239.2 862.0,237.5 863.7,239.0 865.8,240.0 866.1,241.9 867.7,243.2 868.2,245.0 870.3,245.8 872.5,246.1 874.5,247.0 876.0,247.6 877.5,248.0
M818.2,87.5 819.1,89.5 820.1,91.4 820.9,93.4 821.6,95.4 822.0,97.5 822.3,99.5 823.4,101.1 824.5,102.7 824.4,104.8 825.0,106.6 826.3,108.2 827.0,110.0 827.8,112.0 828.2,114.1 828.7,116.2 828.9,118.3 829.6,120.3 829.5,122.5 830.8,124.1 831.8,125.9 832.4,127.8 833.1,129.7 834.5,131.2 836.3,132.3 838.3,132.8 840.2,133.6 842.0,134.5 843.9,134.8 845.8,134.9 847.7,135.1 849.5,135.5 851.3,135.8 852.7,136.9 853.9,138.4 855.8,138.8 857.6,140.0 858.9,141.9 860.3,143.5 862.0,145.0 863.5,146.3 865.7,146.6 867.4,147.6 869.0,148.8 869.7,150.9 870.0,153.1 870.4,155.3 870.8,157.5 870.9,159.5 871.6,161.4 872.2,163.3 873.8,164.8 874.4,166.7 874.5,168.8 876.3,169.4 878.1,170.1 880.1,170.0 882.0,170.5 884.1,170.3 886.1,169.3 888.2,169.5 890.4,169.8 892.5,169.4 894.5,168.8 896.1,167.1 897.0,165.0 899.0,164.8 900.5,163.3 902.2,162.4 904.0,161.8 905.9,161.5 907.8,160.9 909.5,160.0 911.4,159.9 913.0,159.1 914.7,158.4 916.4,157.9 918.0,157.0
M918.0,157.0 919.6,157.8 921.2,158.8 921.4,160.9 922.2,163.1 921.5,165.3 922.0,167.5 921.5,169.5 919.9,171.0 919.4,173.1 918.8,175.0 918.0,176.8 917.1,178.6 915.8,180.0 915.2,181.8 913.9,183.3 913.2,185.0 912.5,186.9 912.7,189.1 912.3,191.1 911.2,193.0 910.8,195.0 909.7,196.4 908.9,198.1 908.0,199.7 906.6,200.9 905.8,202.5 905.6,204.7 904.5,206.6 903.5,208.5 902.2,210.3 902.0,212.5 900.6,213.6 899.2,214.7 898.2,216.2
M898.2,216.2 896.6,215.4 894.8,214.9 893.2,213.8 891.7,214.5 889.8,214.0 888.2,215.0 888.0,217.5 888.2,220.0 888.9,222.0 889.6,224.1 889.5,226.2 891.4,227.1 893.2,228.0 894.7,226.3 895.7,224.3 897.0,222.5 897.1,220.4 898.0,218.4Z
M888.2,215.0 886.1,215.5 884.5,217.0 883.0,218.4 881.5,219.8 879.5,220.5 878.1,221.5 876.5,222.3 875.0,223.0 875.1,225.0 876.0,226.9 875.6,229.1 876.1,231.0 876.7,233.0 877.0,235.0 877.4,236.8 876.6,238.7 877.4,240.6 876.9,242.4 877.7,244.3 877.8,246.1 877.5,248.0 876.9,250.2 877.0,252.5 876.3,254.2 874.7,255.3 874.2,257.2 873.2,258.8 871.5,260.0 869.5,260.5
M869.5,260.5 870.8,262.5 872.4,262.0 874.1,262.1 875.8,262.0 877.1,260.7 878.7,259.6 879.2,257.5 880.7,256.3 882.0,255.0 883.4,253.8 885.4,253.6 886.5,251.8 888.2,251.2 889.9,252.8 890.8,255.0 892.4,256.6 893.2,258.8 895.4,259.0 897.3,260.1 899.5,260.0 901.7,260.0 903.7,259.4 905.8,258.8 907.6,258.3 909.1,257.3 910.3,255.8 912.0,255.0 913.9,253.8 916.2,253.8 918.0,252.5 919.8,251.8 921.0,250.1 923.0,249.9 924.5,248.8 925.4,247.2 926.5,245.8 927.5,244.3 928.8,243.0
M869.5,260.5 867.5,260.3 865.6,259.8 863.8,258.9 862.0,258.0 860.9,259.5 859.1,260.4 858.6,262.5 856.6,263.2 855.8,265.0 854.5,266.4 852.9,267.3 851.0,268.0 849.5,269.1 848.2,270.5 846.2,271.0 844.2,271.8 842.1,271.7 840.0,272.0
M870.8,262.5 869.6,264.2 867.9,265.3 867.3,267.4 865.8,268.8 865.0,270.5 864.0,272.0
M773.2,196.2 771.6,197.9 770.8,200.0 769.9,201.6 768.2,202.5 766.6,202.2 765.0,201.3 763.2,201.2 761.1,201.4 759.2,202.6 757.0,202.5 756.5,204.6 755.0,206.2 756.8,207.1 757.7,209.1 759.5,210.0 760.6,212.0 760.9,214.3 762.0,216.2 761.4,218.4 761.9,220.6 761.9,222.8 761.5,225.0 761.6,227.2 762.5,229.2 763.2,231.2 765.3,232.3 767.0,233.8 768.8,232.7 770.2,231.1 772.0,230.0 773.4,231.1 774.9,232.1 775.8,233.8 776.3,235.9 777.0,238.1 778.2,240.0 778.3,241.7 778.2,243.4 779.0,245.0 778.8,246.8 777.5,248.0 779.8,248.1 782.0,248.8 783.9,249.7 785.5,251.1 787.4,252.0 789.5,252.5 790.0,254.1 790.6,255.8 790.8,257.5 792.6,255.9 794.5,254.5 795.8,256.3 796.6,258.5 798.2,260.0 799.2,261.9 799.2,264.1 799.9,266.1 800.4,268.1 801.1,270.1 802.0,272.0
M157.0,336.0 157.5,337.7 158.4,339.3 158.8,341.0 159.4,342.8 159.8,344.7 159.7,346.7 160.5,348.5 160.0,350.8 158.8,352.8 157.5,354.8 159.2,356.3 161.2,357.2 163.3,357.9 165.2,358.7 167.1,359.6 168.8,361.0 169.9,362.7 171.4,364.2 172.5,366.0 172.4,368.2 172.9,370.3 173.8,372.2 175.3,373.2 177.2,372.8 178.8,373.5 180.6,374.2 182.2,375.4 183.4,376.9 185.0,378.0 186.7,378.7 188.5,378.9 190.3,379.2 192.0,379.9 193.8,380.5 195.5,379.7 197.2,378.8 198.9,377.9 200.6,377.0 202.2,375.9 203.8,374.8 205.6,373.8 207.8,374.1 209.7,373.0 211.8,372.8 213.8,372.2 215.5,372.9 217.0,374.2 218.8,374.8 220.3,375.7 221.5,377.0 222.5,378.5 224.5,379.2 226.2,380.5 228.5,380.5 230.5,381.8 232.8,381.9 235.0,382.2 237.2,382.4 239.4,382.8 241.5,383.8 243.8,383.5 245.3,382.4 246.7,381.0 248.7,380.4 250.0,379.0 251.8,378.2 253.6,377.5 255.0,376.0 256.8,376.0 258.3,376.8 260.0,377.2 261.6,379.2 263.8,380.5 265.9,381.2 268.1,381.6 270.4,380.9 272.5,381.8 274.3,381.0 276.1,380.3 278.0,379.9 280.0,379.8 282.2,379.4 284.0,378.1 286.2,377.7 287.9,376.2 290.0,375.5 292.2,375.8 294.4,375.1 296.5,374.7 298.8,374.8 300.3,373.4 301.7,372.0 302.1,369.8 303.8,368.5 305.5,368.1 307.3,367.6 308.9,366.7 310.7,366.3 312.5,366.0 314.5,365.4 316.6,365.2 318.7,365.1 320.8,365.3 322.9,365.1 325.0,364.8 326.9,364.6 328.8,364.6 330.6,365.2 332.5,365.8 334.4,365.4 336.2,366.0 338.2,366.5 340.1,367.2 341.7,368.6 343.8,369.0 345.8,369.3 348.0,369.0 350.0,369.8 352.0,369.4 353.9,369.8 355.9,370.1 357.8,370.3 359.8,369.8 361.8,370.0 363.8,370.5 364.2,368.6 364.1,366.7 364.5,364.8 363.2,363.2 362.1,361.5 361.2,359.8 362.4,358.0 362.5,356.0 364.1,355.1 365.9,354.7 367.5,354.0 366.5,352.2 365.7,350.4 365.0,348.5 363.7,347.2 362.2,346.1 360.2,345.8 358.8,344.8 357.7,343.1 357.5,341.1 356.2,339.6 355.2,338.0 355.0,336.0
M226.2,380.5 225.2,382.4 225.1,384.5 224.0,386.4 223.8,388.5 222.6,390.3 220.9,391.7 220.0,393.8 219.1,395.7 217.5,397.2 216.4,398.9 214.5,399.7 212.9,400.9 211.2,401.9 210.0,403.5 210.9,405.5 210.7,407.7 211.2,409.8 210.5,411.7 209.5,413.5 211.5,414.3 213.7,414.8 215.5,416.0 216.4,418.0 216.8,420.2 217.5,422.2 215.4,422.6 213.9,424.3 211.9,424.7 210.0,425.5 209.0,424.2 207.5,423.5 205.0,424.0 203.0,425.5 204.0,427.1 204.7,428.7 204.4,430.7 205.5,432.2 206.3,434.4 208.0,436.0 208.2,437.7 208.9,439.4 208.1,441.3 208.8,443.0 210.9,443.9 212.7,445.4 215.0,446.0 216.4,447.1 217.8,448.3 219.7,448.7 220.8,450.3 222.5,451.0 224.2,451.7 225.6,452.9 226.8,454.3 228.3,455.3 230.0,456.0 232.0,456.9 233.7,458.2 235.3,459.7 237.0,461.0 238.8,462.2 239.7,460.5 240.5,458.7 242.0,457.2 244.0,457.3 246.0,458.1 247.9,458.7 250.0,458.5 251.6,459.4 252.4,461.1 253.5,462.5 255.0,463.5 256.8,464.0 257.8,465.8 259.8,466.1 260.9,467.6 262.5,468.5 263.7,469.9 264.9,471.4 266.4,472.5 267.5,474.0 269.4,473.8 271.3,473.8 273.1,473.5 275.0,473.5 276.1,475.2 277.5,476.6 278.8,478.1 280.0,479.8 282.1,479.8 283.7,481.1 285.6,481.6 287.5,482.2 288.6,483.8 288.9,485.7 290.0,487.2 291.8,487.9 293.8,487.8 295.7,487.8 297.5,488.5 298.8,490.0 300.4,491.2 301.2,493.0 303.2,491.9 305.4,491.6 307.5,491.0 309.4,491.3 311.0,492.4 312.7,493.3 314.7,493.5 316.2,494.8 318.5,494.7 320.6,493.9 322.8,494.5 325.0,494.0 327.1,493.7 329.0,492.8 330.8,491.7 333.0,491.6 335.0,491.0 335.5,492.8 335.1,494.8 336.4,496.5 335.9,498.6 336.1,500.5 337.0,502.2 338.3,500.9 339.5,499.5 340.0,497.5 341.9,496.6 342.5,494.8 344.0,493.5 345.8,492.7 347.2,491.4 348.1,489.4 350.0,488.8 351.2,487.2 353.0,488.4 355.2,488.0 356.9,489.0 358.8,489.8 360.4,490.5 362.4,490.4 363.9,491.7 365.8,491.5 367.5,492.2 369.2,493.4 371.4,493.5 373.1,494.7 375.0,495.5 377.3,495.5 379.3,494.2 381.5,493.7 383.8,493.5 385.3,492.0 386.6,490.3 387.9,488.6 389.5,487.2 391.2,486.0 392.7,484.8 394.8,484.8 396.2,483.5 398.0,482.4 399.9,481.4 401.2,479.8 402.5,477.8 404.7,476.7 406.0,474.8
M343.8,369.0 345.4,370.2 346.2,372.0 347.5,373.5 345.9,375.3 344.5,377.2 344.8,379.1 344.3,381.0 344.8,382.9 345.0,384.8 345.9,386.5 346.6,388.3 348.0,389.8 348.4,391.6 347.2,393.5 347.6,395.4 347.8,397.3 347.2,399.1 347.5,401.0 348.7,402.4 348.9,404.4 350.2,405.7 351.2,407.2 352.9,408.7 354.2,410.6 356.0,411.9 357.5,413.5 359.3,414.0 360.7,415.4 362.5,416.0 363.9,414.7 366.0,414.7 367.5,413.5 369.2,414.3 370.4,415.6 371.7,417.0 373.4,417.6 375.0,418.5 377.0,419.2 379.1,419.3 381.1,419.4 383.1,420.0 385.0,421.0 387.1,421.1 389.0,422.1 391.0,422.4 393.0,423.0 395.0,423.5 396.9,424.6 399.3,424.4 401.2,425.5 403.6,424.8 406.0,424.8
M310.0,592.0 311.0,590.1 311.1,587.8 312.5,586.0 314.1,584.5 316.2,584.0 317.9,582.8 320.0,582.2 321.5,580.9 322.9,579.5 324.8,578.6 326.2,577.2
M370.0,567.2 371.2,569.0 372.8,570.4 373.8,572.2 374.1,574.3 374.8,576.2 375.7,578.1 375.2,580.4 376.2,582.2 377.4,584.2 378.3,586.3 378.8,588.5 380.3,589.3 381.1,591.0 382.5,592.0
M326.2,577.2 327.2,578.8 328.8,579.8 329.5,578.2 329.5,576.4 330.0,574.8 330.9,576.5 331.8,578.3 331.7,580.4 332.5,582.2 333.2,580.2 333.7,578.0 334.5,576.0 335.2,578.1 336.2,580.1 337.0,582.2 338.1,580.1 338.4,577.8 338.8,575.5 339.9,577.2 340.0,579.4 341.2,581.0 341.3,578.8 342.5,576.8 343.0,574.8 343.9,576.6 345.0,578.5 345.5,580.5 345.5,578.6 346.8,577.1 346.4,575.1 347.5,573.5 348.3,575.6 348.7,577.9 350.0,579.8 350.1,577.9 350.7,576.3 351.6,574.7 352.0,573.0 352.8,574.8 353.5,576.7 354.5,578.5 355.3,576.8 355.0,574.9 355.6,573.2 356.2,571.5 357.3,573.3 358.4,575.1 358.8,577.2 359.6,575.5 360.0,573.6 360.3,571.7 360.5,569.8 361.9,571.4 361.8,573.7 363.0,575.5 363.7,573.8 363.7,572.0 364.4,570.3 364.5,568.5 365.4,570.1 366.5,571.7 367.0,573.5 367.1,571.3 367.9,569.2 368.8,567.2 370.0,567.2
M327.5,578.5 329.1,577.0 331.2,576.5 333.0,577.2 334.4,578.4 336.2,579.0 338.3,577.9 340.0,576.5 341.6,577.2 343.3,577.3 345.0,577.2 346.8,576.1 348.8,575.5 350.4,575.3 352.1,574.9 353.8,574.8 355.8,574.2 357.5,573.0 359.2,572.5 360.8,571.7 362.5,571.5 364.2,571.1 366.0,570.9 367.5,569.8
M338.1,578.9 338.1,579.4 337.7,579.2Z
M357.5,572.1 357.7,570.4 358.6,571.5Z
M370.3,570.1 369.4,571.4 368.3,570.6 368.6,569.5 369.4,569.4Z
M346.9,580.0 346.4,579.1 347.2,578.7 347.5,579.6Z
M355.5,575.8 354.1,576.3 354.6,574.9Z
M333.3,583.2 334.3,582.0 335.1,583.8 333.9,584.4Z
M341.7,579.0 341.8,580.2 341.0,580.7 340.2,580.0 340.9,579.2Z
M352.4,576.3 353.6,575.9 354.6,576.6 353.9,578.0 352.8,577.7Z
M359.7,575.5 359.0,574.5 360.6,574.0 361.3,575.1Z
M329.5,582.1 330.3,582.8 329.5,583.4 328.4,583.3 328.3,582.3Z
M354.6,570.5 354.7,568.1 355.8,569.6Z
M346.8,569.7 345.9,569.8 345.9,568.9 346.9,568.9Z
M331.5,583.3 331.4,584.2 330.8,584.6 330.0,583.9 330.5,582.9Z
M327.0,575.5 327.8,577.7 327.6,580.1 328.5,582.2 328.4,579.9 329.2,577.8 329.7,575.6 330.5,573.5 330.6,575.6 330.7,577.6 331.3,579.6 332.0,581.5 332.3,579.3 333.4,577.4 333.3,575.1 334.0,573.0 334.8,574.9 334.5,577.1 335.3,579.0 336.0,581.0 336.6,578.9 336.9,576.7 337.7,574.5 337.5,572.2 338.0,574.3 338.1,576.5 338.8,578.5 339.5,580.5 340.3,578.8 340.2,576.9 341.0,575.2 341.2,573.3 341.5,571.5 342.1,573.5 342.6,575.6 342.5,577.7 343.0,579.8 343.0,577.4 344.5,575.5 344.1,573.1 345.0,571.0 346.1,572.9 346.5,574.9 346.0,577.1 347.0,579.0 347.2,577.2 347.3,575.3 347.5,573.5 347.9,571.7 348.8,570.0 349.0,572.1 349.6,574.0 350.0,576.1 350.8,578.0 351.4,576.3 350.9,574.3 351.9,572.6 352.0,570.8 352.5,569.0 352.6,571.1 353.1,573.1 353.5,575.1 354.5,577.0 354.4,575.1 355.7,573.5 356.2,571.7 356.6,569.9 356.5,568.0 357.3,569.9 357.6,571.9 358.1,573.9 358.0,576.0 358.0,573.7 359.4,571.7 359.9,569.5 360.0,567.2 360.3,569.2 360.6,571.1 361.3,572.9 362.0,574.8 362.2,572.6 362.4,570.5 362.8,568.5 363.8,566.5 363.9,568.3 365.0,569.9 365.3,571.7 365.5,573.5 365.9,571.6 365.9,569.6 366.7,567.8 367.5,566.0 368.2,567.6 368.3,569.4 369.0,571.0
M312.5,592.0 311.8,594.1 311.0,596.2 310.0,598.2 308.0,599.4 306.9,601.4 305.0,602.6 303.8,604.5 301.9,605.1 300.5,606.5 298.5,606.8 296.8,607.6 295.0,608.2 293.3,609.0 292.1,610.4 290.4,611.0 289.0,612.2 287.5,613.2 286.2,615.0 284.2,615.9 283.3,618.1 281.2,619.0 280.0,620.8 278.8,622.5 277.4,624.2 275.8,625.5 273.8,626.5 272.5,628.2 270.4,629.0 269.3,631.2 267.3,632.0 265.5,633.3 263.8,634.5 262.0,635.5 261.0,637.3 259.3,638.3 257.9,639.6 256.2,640.8 254.7,642.2 254.0,644.3 252.5,645.8 251.8,647.4 252.4,649.1 252.0,650.8 250.3,651.4 248.5,651.1 246.8,651.7 245.0,652.0 243.1,653.3 240.8,653.5 238.8,654.5 238.4,656.8 236.8,658.5 236.2,660.8 234.2,660.1 232.2,659.6 230.0,659.5 228.6,660.6 227.6,662.1 226.2,663.2 225.8,665.4 225.2,667.5 224.5,669.5 224.1,671.5 225.2,673.5 224.3,675.5 225.5,677.5 225.0,679.5 225.7,681.5 225.9,683.6 225.5,685.8 226.3,687.8 226.8,689.9 227.0,692.0 226.1,693.9 226.5,696.1 225.8,698.0 225.4,700.0 225.0,702.0 224.0,703.9 223.2,705.9 222.6,707.9 222.2,710.1 221.2,712.0 221.5,714.0 221.7,716.0 220.8,718.0 221.1,720.0 221.2,722.0 220.7,724.0 221.1,726.0 220.6,728.0 219.9,730.0 220.0,732.0 217.9,732.7 216.0,734.1 213.8,734.5 212.9,736.1 211.5,737.4 211.2,739.3 210.0,740.8 209.9,742.5 209.4,744.1 208.8,745.8 210.6,746.4 212.5,746.5 214.5,746.1 216.2,745.0
M220.0,740.8 221.5,739.5 223.1,738.7 225.0,738.2 227.0,739.2 228.8,740.8 230.1,741.9 231.2,743.3 232.8,744.2 233.8,745.8 234.6,747.2 235.0,748.8
M202.5,748.8 204.0,747.8 206.0,748.1 207.5,747.0 210.0,747.3 212.5,747.0 214.3,747.0 215.7,748.4 217.5,748.2 219.2,747.9 220.8,748.4 222.5,748.8
M222.5,742.0 226.2,743.2 223.8,745.8
M157.0,697.0 157.2,699.1 158.2,700.9 159.0,702.7 160.0,704.5 161.1,706.1 162.4,707.6 163.0,709.6 164.6,710.9 165.5,712.6 166.2,714.5 167.2,716.1 168.4,717.6 168.9,719.4 169.3,721.3 170.2,722.9 171.2,724.5 172.0,726.5 172.6,728.6 173.5,730.5 174.7,732.3 175.0,734.5 175.5,736.4 176.4,738.2 176.6,740.2 177.5,742.0 177.5,743.8 178.6,745.4 178.9,747.1 179.5,748.8
M380.0,592.0 381.0,593.5 382.6,594.4 384.0,595.5 385.0,597.0 385.6,598.8 386.3,600.5 387.5,602.0 387.2,600.0 386.2,598.2 387.3,600.1 388.4,601.8 390.0,603.2 391.8,604.1 393.8,604.5 394.9,605.9 396.2,607.0 395.7,608.9 395.0,610.8 396.8,611.8 398.2,613.4 400.0,614.5 399.6,616.4 398.4,617.9 397.5,619.5 398.5,621.0 400.0,622.0 398.0,622.4 396.2,623.2 398.3,623.4 400.4,623.0 402.5,623.2 404.3,623.8 406.0,624.5
M391.2,599.5 393.8,603.2
M405.0,650.8 406.0,658.2
M386.2,690.8 388.1,690.1 390.0,689.5 390.0,691.4 390.4,693.2 390.2,695.1 390.5,697.0 389.6,698.8 390.0,700.8 389.0,702.6 388.8,704.5 388.8,706.6 389.7,708.6 390.0,710.8 389.3,712.5 388.0,714.0 388.3,716.2 387.0,717.7 386.2,719.5 384.7,718.5 383.8,717.0 384.4,715.2 384.9,713.3 384.7,711.4 385.0,709.5 384.8,707.5 385.7,705.8 386.0,703.9 386.2,702.0 386.1,699.9 385.4,697.8 385.0,695.8 385.6,694.1 386.2,692.5Z
M387.5,692.0 387.3,693.9 387.4,695.8 386.6,697.6 387.0,699.5 387.6,701.3 387.3,703.3 387.9,705.1 388.0,707.0 387.3,708.8 387.6,710.9 386.1,712.5 386.2,714.5
M381.2,727.0 383.0,725.2 385.0,727.0 384.3,728.3 383.2,729.5 381.8,728.6Z
M395.7,597.3 396.2,595.9 397.4,596.3 398.0,597.2 396.7,598.3Z
M398.7,617.4 398.2,616.2 398.7,615.2 399.8,615.8 399.6,616.7Z
M391.5,623.2 390.6,625.1 389.7,623.3Z
M384.7,610.3 385.2,611.1 384.5,611.9 383.7,611.2 383.8,610.4Z
M402.6,616.0 401.7,616.3 401.5,615.4 402.4,615.2Z
M400.2,602.8 399.5,603.7 398.9,602.8Z
M399.1,614.9 399.5,614.6 400.1,614.8 400.1,615.5 399.5,615.3Z
M394.2,614.3 395.2,612.7 395.7,614.9Z
M396.1,613.4 395.6,613.6 395.0,613.4 395.3,612.7 395.9,612.7Z
M406.0,284.5 407.0,282.9 408.4,281.5 409.8,280.1 411.1,278.6 413.0,278.0 414.8,277.0 416.8,276.5 419.0,276.4 421.0,275.8 422.6,275.4 424.3,275.1 426.0,275.1 427.0,273.4 428.5,272.0
M448.5,272.0 449.0,274.0 449.5,275.9 450.8,277.6 449.6,279.8 448.5,282.0 449.8,283.3 450.3,285.1 451.6,286.4 453.1,287.5 454.7,288.6 456.1,289.8 457.2,291.4 456.7,293.4 456.5,295.5 456.6,297.6 458.8,297.8 461.0,297.6 462.6,296.1 464.4,294.8 466.0,293.2 468.0,292.3 470.3,292.5 472.2,291.4 474.1,291.1 476.0,291.3 477.9,291.0 479.3,292.2 481.0,292.6 480.9,294.9 481.6,297.0 480.4,298.9 479.3,300.9 477.9,302.6 476.4,303.8 475.4,305.5 473.4,306.1 472.2,307.6 474.5,308.1 476.6,308.9 477.8,310.3 479.7,310.7 481.0,312.0 482.4,313.1 483.7,314.3 484.8,315.8 486.6,316.0 488.5,316.4 489.3,318.4 489.9,320.4 489.8,322.6 491.5,323.5 493.5,323.9 495.1,324.9 496.6,326.1 497.9,327.6 499.8,327.7 501.6,328.2 503.5,327.0 505.4,325.8 503.7,323.9 502.2,322.0 504.2,321.2 506.0,320.1 507.9,319.9 509.8,319.2 511.9,319.7 513.8,320.9 516.0,321.0 518.1,320.3 519.8,318.9 521.2,317.6 523.3,317.6 524.8,316.4 526.5,316.6 528.1,316.1 529.8,315.5 531.0,317.6 531.9,319.7 532.0,322.0 530.5,324.0 529.8,326.4 528.4,327.5 527.7,329.3 526.0,330.1 524.5,331.9 522.2,332.6 522.0,334.6 522.9,336.4 522.3,338.0 522.3,339.8 521.6,341.4 523.3,341.8 524.8,342.7 526.0,343.9 527.9,345.1 529.1,347.0 531.0,348.2 532.5,348.4 534.0,348.9
M406.0,318.0 408.1,317.9 410.1,319.1 412.2,318.9 414.0,319.6 416.1,319.3 417.9,320.1 419.0,321.6 420.6,322.4 421.9,323.7 423.5,324.5 424.9,325.7 426.2,326.9 427.8,327.8 429.3,328.8 431.0,329.5 432.8,330.2 434.0,331.7 435.7,332.5 437.2,333.5 440.0,333.2 440.2,331.2 439.8,329.1 439.8,327.0 440.4,324.7 440.2,322.4 440.4,320.1 442.6,319.8 444.8,320.1 446.6,320.9 448.3,321.8 449.8,323.2 451.2,324.2 452.9,324.6 454.1,326.0 455.5,324.3 457.0,322.6 458.6,322.9 459.8,323.9 461.6,323.1 463.5,322.2 465.4,323.7 467.2,325.1 468.5,326.4 469.4,327.9 471.4,328.5 472.2,330.1 473.7,331.7 475.6,332.6 477.2,333.9 478.8,334.6 480.4,335.1 480.8,332.6 482.4,334.0 484.0,335.5 486.0,336.4 487.6,337.2 489.2,338.2 490.4,339.7 492.2,340.1 494.2,341.0 495.5,342.8 497.2,343.9 499.0,345.3 501.0,346.4 502.0,344.7 503.8,343.9 504.4,345.8 505.4,347.6 506.1,349.9 507.2,352.0 509.3,353.1 511.6,353.2 509.8,355.1 511.5,356.9 512.9,358.9 513.0,360.9 514.1,362.6 514.8,364.5 516.0,366.1 517.2,367.6 516.5,369.7 516.6,372.0 515.6,374.2 513.8,375.8 512.9,378.2 511.3,378.9 509.9,379.8 508.5,380.8 508.7,382.9 508.5,385.1 506.9,386.1 506.1,387.7 504.8,388.9 503.2,390.5 501.6,392.0 503.2,393.3 504.8,394.5 505.4,395.9 506.6,397.0 506.0,398.7 504.8,400.0
M488.5,398.2 491.0,397.0 492.7,397.3 494.4,397.7 496.0,398.2 497.2,399.2 498.5,400.0
M512.2,399.5 514.8,398.2 517.2,399.5
M406.0,425.0 408.1,424.4 409.8,423.1 411.2,424.2 412.0,425.9 413.5,426.9 415.2,427.8 416.8,429.0 418.5,430.0 419.4,431.6 419.7,433.3 420.4,435.0 421.6,436.3 423.2,436.8 424.8,437.5 426.9,437.9 429.1,437.5 430.4,439.8 430.5,437.3 431.0,435.0 432.5,434.5 434.1,434.4 435.9,435.8 437.2,437.5 437.7,435.6 437.9,433.8 439.8,433.3 441.7,432.8 443.5,431.9 443.4,430.1 444.6,428.6 444.8,426.9 446.3,426.3 447.2,425.0 446.0,422.5 445.9,420.6 445.8,418.8 446.0,416.7 447.2,415.0 448.0,413.3 449.1,411.9 447.2,411.1 446.0,409.4 445.3,407.6 445.4,405.6 447.2,405.1 448.5,403.8 450.2,403.8 451.8,403.8 453.5,403.5 455.1,404.3 456.7,405.0 458.5,405.0 459.6,406.6 461.0,408.1 461.5,409.8 462.1,411.5 462.9,413.1 464.3,414.6 466.0,415.6 467.6,416.8 469.2,417.9 471.0,418.8 472.6,419.3 473.8,420.6 475.4,421.2 476.4,419.7 477.5,418.1 479.8,419.4 479.8,421.0 480.4,422.5 482.3,422.3 484.1,423.1 485.1,424.9 485.4,426.9 485.8,425.0 487.2,423.8 489.0,423.9 490.6,423.8 492.2,423.1 493.3,421.7 494.1,420.0 493.7,418.5 493.5,416.9 495.8,416.6 497.9,415.6 499.8,416.0 501.6,415.6 502.3,414.1 502.9,412.5 501.6,410.6 502.9,409.4 503.5,411.5 503.5,413.8 505.0,413.2 506.6,413.1 508.1,411.8 509.8,410.6 508.9,409.0 508.4,407.3 507.9,405.6 507.2,403.1 509.2,402.3 511.0,401.2 513.5,400.0
M488.5,400.0 489.4,401.6 491.4,402.1 492.2,403.8 494.1,405.4 496.0,406.9 498.0,407.0 499.8,408.1 501.1,409.1 501.6,410.6
M498.5,400.0 501.0,401.2 503.5,400.0
M517.9,400.0 518.1,402.3 519.1,404.4 521.0,405.4 522.9,406.2 524.5,407.0 526.2,406.6 527.9,406.9 529.7,407.3 531.0,408.8 532.1,410.6 532.9,412.5 533.3,414.4 534.0,416.2
M533.2,418.8 534.0,420.6
M447.2,425.0 448.8,425.9 450.4,426.4 452.2,426.2 453.8,427.8 455.4,429.4 456.3,430.8 457.5,432.1 457.9,433.8 458.7,435.7 459.8,437.5 461.6,439.2 462.9,441.2 464.1,443.1 462.6,443.8 461.0,443.8 462.2,445.1 462.2,446.9 463.7,448.1 464.1,450.0 464.3,451.7 465.4,453.2 465.4,455.0 465.1,456.8 466.4,458.2 466.2,460.0 465.9,462.1 466.9,464.1 466.6,466.2 467.0,468.0 465.9,469.6 466.0,471.2 466.2,473.1 465.8,475.0 465.9,476.6 466.6,478.1 467.0,480.0 467.7,481.6 468.1,483.2 467.9,485.0 468.5,487.0 469.8,488.8 471.0,487.5 470.9,485.6 470.4,483.8 471.7,482.8 472.2,481.2 474.1,480.6 475.2,482.1 476.6,483.1 478.5,484.3 479.8,486.2 479.9,488.5 480.4,490.6 481.7,492.7 483.5,494.4 485.4,493.9 487.2,493.5 487.6,495.5 489.2,496.9 489.8,498.8 490.2,500.9 491.4,502.6 493.1,504.1 493.5,506.2 494.9,507.5 495.2,509.5 496.0,511.1 497.2,512.5 498.7,513.7 499.5,515.3 500.4,516.9 502.1,518.6 504.1,520.0 505.5,518.7 507.2,518.1 509.4,517.2 511.0,515.6 512.9,516.2 514.8,516.9 515.3,515.3 516.6,514.4 516.3,512.5 516.3,510.6 516.0,508.8 515.7,507.1 515.8,505.4 515.4,503.8 516.1,501.9 517.8,500.6 518.5,498.8 519.9,497.4 521.5,496.4 522.9,495.0 523.3,493.2 523.5,491.2 524.8,488.8 526.3,488.0 527.9,487.5 528.1,485.3 528.5,483.1 530.3,483.6 532.1,483.9 534.0,483.5
M465.8,475.0 467.2,474.8 467.2,478.1 466.6,478.1
M406.0,475.6 407.8,475.3 409.4,474.5 411.0,473.8 413.0,474.3 414.9,474.8 416.6,476.0 418.6,476.2 420.4,475.6 422.2,475.0 424.1,474.5 425.6,473.1 427.5,472.5 429.1,471.5 430.4,473.1 432.2,473.8 431.0,474.8 430.4,476.2 432.2,477.3 434.1,478.1 435.0,479.6 435.4,481.2 434.2,482.6 432.9,483.8 431.6,486.2 433.9,486.4 436.0,485.6 437.7,485.9 439.3,486.7 441.0,486.9 442.8,487.6 444.8,488.1 446.6,486.9 447.9,485.0 449.6,486.3 451.6,486.9 453.1,487.9 454.1,489.4 455.3,487.4 457.2,486.2 458.1,488.0 458.5,490.0 460.0,489.6 461.6,489.4 462.0,487.2 462.2,485.0 462.0,483.0 461.0,481.2 462.2,478.8 463.9,478.9 465.4,478.1 465.1,476.5 466.0,475.0
M454.1,489.4 454.4,491.7 455.4,493.8 456.0,496.1 457.2,498.1 459.2,498.2 461.0,497.5 461.5,499.4 462.2,501.2 462.7,503.3 462.2,505.5 462.9,507.5 462.7,509.2 463.1,510.9 463.5,512.5 462.1,514.5 461.6,516.9 461.5,518.8 461.0,520.6 460.1,522.5 458.5,523.8 456.6,525.3 454.8,526.9 454.1,528.0
M534.0,501.2 532.2,501.9 529.8,500.6 527.9,501.9 526.6,503.8 526.7,505.4 526.0,506.9 526.3,509.1 527.2,511.2 529.1,513.1 530.9,513.0 532.2,511.9 534.0,510.0
M454.8,528.0 453.4,529.8 451.6,531.1 450.6,532.9 449.8,534.9 448.6,537.0 447.9,539.2 448.8,541.1 449.8,543.0 449.8,544.9 449.1,546.8 448.4,548.2 447.2,549.2 449.1,550.5 450.7,549.9 452.2,549.1 453.5,548.0 455.2,547.7 456.8,547.1 458.5,547.4 460.4,547.7 462.2,547.7 464.1,547.4 463.5,549.4 462.2,551.1 463.1,553.4 464.1,555.5 464.6,557.9 466.0,559.9 467.7,560.9 469.8,561.1 471.3,561.5 472.9,561.8 472.5,563.4 471.9,565.1 471.6,566.8 471.0,569.1 469.8,571.1 469.5,572.8 468.5,574.2 471.0,575.5 473.5,575.1 476.0,575.5 477.1,576.9 478.5,578.0 479.9,579.8 481.0,581.8 482.9,582.4 484.8,583.0 486.6,582.3 488.5,581.8 490.4,580.8 492.2,579.9 493.5,581.2 494.1,583.0 495.3,584.7 495.4,586.8 497.2,587.7 499.1,587.4 501.6,588.0 501.5,585.5 501.6,583.0 500.7,581.4 500.9,579.6 500.4,578.0 500.1,576.0 499.1,574.2 499.4,572.5 500.4,571.1 502.6,570.9 504.8,570.5 506.2,569.4 507.9,568.6 509.1,567.4 510.4,566.1 512.2,566.2 513.5,567.4 515.7,568.2 517.2,569.9 519.1,569.4 520.4,568.0 521.9,567.4 522.9,566.1 525.4,567.4 527.9,566.1 529.4,567.0 531.0,568.0 532.6,566.5 534.0,564.9
M406.0,625.5 407.2,626.6 407.9,628.0 408.0,630.1 408.8,632.1 409.1,634.2 408.5,636.3 408.6,638.4 408.8,640.5 407.9,642.5 407.2,644.5 407.2,646.8 406.9,648.7 406.0,650.5
M424.8,655.5 426.0,653.8 427.9,653.0 428.9,651.8 430.4,651.1 430.3,649.5 431.0,648.0 431.8,649.8 431.6,651.8 433.3,650.3 435.4,649.9 436.7,648.4 437.9,646.8 439.1,645.1 439.5,643.0 439.1,640.8 438.8,638.6 439.8,640.8 441.6,642.4 442.1,644.5 443.5,646.1 444.8,647.6 445.1,649.5 446.0,651.1 446.7,652.6 447.2,654.2 447.8,652.2 449.1,650.5 448.4,652.3 449.0,654.2 448.5,656.0
M406.0,658.5 407.8,659.5 409.8,660.4 411.4,661.0 413.0,661.7 414.8,661.6 417.2,661.8 419.8,661.6 421.2,660.3 422.9,659.1 423.8,657.5 424.8,656.0
M447.9,656.0 448.7,657.6 448.2,659.5 449.1,661.0 448.9,663.0 450.1,664.7 450.6,666.5 450.4,668.5 451.1,670.3 451.5,672.2 451.3,674.2 452.2,676.0 452.4,678.0 453.1,679.9 454.6,681.5 454.8,683.5 455.5,685.7 456.6,687.8 457.9,689.8 458.6,691.5 459.0,693.3 460.4,694.8 461.5,696.7 462.0,698.8 462.2,701.0 462.2,702.7 462.1,704.4 462.9,706.0 462.9,708.1 463.5,710.1 463.5,712.2 463.2,714.3 462.8,716.4 462.9,718.5 463.1,720.2 462.7,721.9 462.2,723.5 462.1,725.2 461.9,726.9 461.0,728.5 461.2,730.2 461.8,731.8 461.6,733.5 461.3,735.7 460.8,737.8 459.8,739.8 458.9,741.3 459.0,743.3 457.9,744.8 457.0,746.7 456.6,748.8
M463.5,732.2 463.2,734.0 462.8,735.8 461.6,737.2 460.3,739.1 460.3,741.5 459.1,743.5 458.0,745.1 457.5,746.9 457.2,748.8
M450.4,678.5 451.0,682.2
M455.4,684.8 456.6,687.9
M456.6,695.4 457.2,697.9
M451.2,699.8 451.6,702.5
M452.9,705.4 454.8,707.2 453.5,707.9
M456.6,702.2 459.1,704.1 460.4,706.0 457.9,705.4
M446.0,713.5 449.1,712.5
M457.2,711.0 459.8,709.8 461.6,711.6 462.2,713.2 463.5,714.1 461.0,714.8 459.1,712.9 457.9,714.8 456.0,714.1
M454.1,712.9 455.4,716.0 456.6,717.9 454.8,717.2
M459.1,723.5 461.6,722.9 459.8,725.4
M452.2,724.5 455.0,725.0 456.6,727.2
M453.2,738.5 455.4,737.2 456.0,735.7 457.2,734.8 456.0,734.1 455.1,735.4 454.1,736.6
M469.8,746.6 468.4,744.6 467.9,742.2 468.4,740.2 468.3,738.1 467.9,736.0 468.4,733.9 468.7,731.8 469.1,729.8 469.8,727.6 471.2,725.7 471.6,723.5 472.4,721.4 473.4,719.4 474.1,717.2 474.6,715.0 475.5,713.0 476.6,711.0 477.0,709.1 478.5,707.8 479.1,706.0 479.2,703.9 478.7,701.8 479.1,699.8 479.4,698.0 478.4,696.5 478.5,694.8 479.3,693.1 480.4,691.6 482.1,690.7 484.0,690.3 486.0,690.0 487.8,690.9 489.8,690.9 491.6,691.6 491.7,693.9 491.0,696.0 490.4,698.2 489.8,700.4 491.6,702.2 493.8,701.7 496.0,701.6 497.7,701.9 499.3,700.7 501.0,701.0 502.4,702.3 504.6,702.2 506.0,703.5 506.9,705.1 508.4,706.1 509.8,707.2 511.8,708.2 513.5,709.8 514.4,711.4 515.4,713.0 516.0,714.8 517.1,716.3 518.0,717.9 518.5,719.8 519.1,721.8 518.8,724.0 519.8,726.0 520.6,727.4 522.2,727.9 523.9,726.3 524.8,724.1 526.0,726.0 527.7,727.6 528.5,729.8 531.0,731.0 532.4,730.1 534.0,729.8
M469.8,746.6 471.7,746.8 473.5,746.0 475.3,745.2 477.2,745.4 477.1,747.1 477.5,748.8
M507.9,706.0 509.1,708.5
M508.5,709.8 510.4,711.6
M511.0,712.9 512.2,716.0
M516.6,717.2 517.9,719.8
M522.9,722.2 524.8,721.6 526.6,724.1
M527.9,729.1 529.0,730.6 529.8,732.2 529.1,734.1 531.0,736.0
M478.8,739.1 479.8,740.4 478.5,742.2 479.5,743.5
M452.9,711.9 453.0,712.8 452.2,712.4Z
M453.5,725.2 454.0,724.3 454.7,724.2 454.5,725.3Z
M455.0,735.3 453.6,735.0 453.4,733.6 455.0,733.1 455.9,734.3Z
M456.9,674.4 456.4,675.5 455.4,675.1 455.6,674.2Z
M457.1,707.2 457.3,707.8 456.7,707.9 456.5,707.4Z
M461.2,738.5 461.7,738.1 462.0,738.6 461.6,738.9Z
M460.7,715.2 461.5,714.6 461.8,715.5 461.3,716.0Z
M455.8,734.0 455.7,734.6 455.2,734.6 455.1,733.9Z
M457.4,719.6 457.7,718.6 458.8,719.4 457.9,720.3Z
M455.5,698.2 455.2,699.0 454.3,698.7 453.9,698.0 455.0,697.3Z
M452.5,703.7 453.7,703.3 453.2,704.6Z
M460.4,740.8 461.0,742.0 459.9,742.4 459.5,741.3Z
M460.9,681.0 461.8,681.4 461.7,682.5 460.6,682.3 460.0,681.7Z
M455.1,711.5 455.3,711.0 455.8,711.2 455.5,711.8Z
M457.0,750.5 456.1,749.5 456.7,748.3 457.5,749.2Z
M458.2,682.8 457.1,682.7 456.8,682.2 457.1,681.5 458.2,681.3Z
M453.6,683.6 454.2,683.8 453.7,684.3 453.1,684.0Z
M454.7,719.2 453.6,719.7 453.8,718.7Z
M463.4,710.6 463.3,710.9 462.9,711.1 462.6,710.6 463.0,710.3Z
M459.8,706.6 459.4,707.4 458.5,707.7 457.9,707.0 458.4,705.9Z
M464.9,706.2 464.2,707.2 463.0,706.9 463.3,705.7Z
M450.3,721.5 451.1,721.9 451.2,723.1 450.1,723.0 449.9,722.0Z
M450.1,727.7 450.8,726.7 452.2,726.5 451.8,727.7Z
M458.4,697.6 458.1,695.9 459.4,696.3Z
M453.2,710.7 453.5,709.6 454.4,709.3 455.2,710.3 454.5,711.5Z
M534.0,347.6 535.9,348.0 537.7,346.7 539.7,347.5 541.5,347.0 543.1,346.2 544.7,345.3 546.5,345.1 548.2,343.9 550.4,344.3 552.1,343.2 552.3,341.1 552.1,338.8 552.5,336.7 552.8,334.5 553.5,332.7 552.9,330.7 553.6,328.9 553.8,327.0 554.1,325.2 554.8,323.5 555.9,322.0 557.6,321.0 559.0,319.5 560.8,319.1 562.2,317.9 564.0,317.6 566.2,319.5 567.0,321.0 566.8,322.6 566.1,325.0 564.6,327.0 563.6,328.8 562.8,330.8 562.3,332.3 561.8,333.9 563.4,334.9 564.6,336.4 566.6,336.4 568.3,337.3 570.2,337.6 571.7,339.1 573.4,340.1 574.7,341.4 576.5,342.0 577.8,342.6 579.3,343.6 580.9,344.5 583.4,345.1 585.6,344.5 587.9,344.0 590.2,344.2 590.8,342.2 590.9,340.1 592.4,339.4 594.0,338.9 593.6,337.2 592.8,335.8 593.6,333.6 595.2,332.0 596.8,330.6 597.6,328.5 599.0,327.0 600.5,326.0 601.8,324.8 602.7,323.2 604.0,322.0 604.8,320.3 606.8,319.8 607.8,318.2 608.4,316.0 609.9,316.6 611.5,317.2 614.0,318.2 615.8,317.3 617.1,315.8 618.6,314.7 620.2,314.2 620.9,317.0
M620.9,317.0 622.1,314.9 624.0,313.2 625.9,313.6 627.8,313.2 629.2,311.3 630.9,309.5 631.6,307.6 632.8,306.1 634.0,304.5 635.6,303.3 637.1,302.0 639.2,302.1 640.9,303.2 642.5,302.0 644.0,300.8 645.6,301.0 647.1,301.4 649.0,300.8 650.7,299.7 652.8,299.5 654.5,299.1 656.2,298.6 657.8,297.6 660.2,298.9 662.0,300.1
M620.9,317.0 620.8,318.6 621.5,320.1 620.9,321.7 619.6,322.9 619.0,324.5 618.5,326.7 617.8,328.9 616.7,330.2 616.5,332.1 615.2,333.2 613.5,334.9 612.5,337.0 612.1,338.9 612.8,340.8 614.0,342.3 615.2,343.9 615.7,345.4 616.2,347.0 615.1,348.9 614.0,350.8 613.0,352.9 612.1,355.1 612.3,357.4 611.2,359.5 611.0,361.3 612.2,362.8 612.1,364.5 612.6,366.6 612.9,368.6 612.5,370.8 612.9,372.4 612.3,374.1 612.8,375.8 613.0,377.5 612.6,379.2 611.8,380.8 611.0,382.3 611.1,384.2 610.2,385.8 610.5,388.0 609.6,390.1 609.8,391.7 610.2,393.2 611.1,394.9 612.1,396.4 612.7,398.2 613.4,400.0
M662.0,274.5 660.9,276.3 660.2,278.2 658.7,280.2 656.5,281.4 656.4,283.0 657.1,284.5 656.0,285.9 655.2,287.6 656.7,289.6 657.1,292.0 658.5,294.0 659.0,296.4 660.2,298.9
M662.0,321.4 660.2,321.6 658.3,321.8 656.5,322.0 655.1,324.0 653.4,325.8 653.3,327.7 652.5,329.5 652.4,331.5 651.5,333.2 653.0,335.2 654.6,337.0 655.3,339.3 657.1,341.0 657.8,343.2 657.5,345.3 657.0,347.4 657.1,349.5 656.7,351.7 655.1,353.5 654.6,355.8 653.1,357.1 652.7,359.2 651.5,360.8 652.4,362.4 652.8,364.3 654.0,365.8 656.0,366.2 658.0,366.6 659.9,367.7 662.0,367.6
M654.0,365.8 653.3,367.8 653.4,370.0 652.8,372.0 652.6,374.1 652.1,376.2 651.5,378.2 650.7,379.9 649.3,381.1 649.0,383.0 647.3,382.7 645.6,382.7 644.0,383.2 642.0,382.9 640.0,382.8 638.0,383.8 636.0,383.2 634.0,383.2 632.4,383.7 631.5,385.1 629.6,385.7 628.3,387.5 626.5,388.2 624.5,389.4 622.3,390.2 620.2,391.4 618.2,392.2 616.1,392.6 614.0,393.2 612.1,393.8 610.2,393.2
M662.0,303.9 660.2,303.2 657.8,304.5 659.0,307.0 660.5,307.9 662.0,308.9
M576.5,342.0 574.6,343.2 572.8,344.5 572.8,346.3 572.2,348.0 571.2,349.5 570.8,351.4 571.5,353.2 569.4,353.2 567.4,353.4 565.4,354.0 563.4,354.5 562.7,356.3 562.8,358.2 561.2,359.9 560.5,362.0 560.5,363.8 561.9,365.2 561.8,367.0 563.7,368.1 565.9,368.9 566.9,370.3 567.5,372.0 566.8,373.5 566.5,375.1 564.4,376.0 562.1,376.4 561.7,378.4 560.8,380.4 560.9,382.6 559.3,382.2 557.8,382.0 555.9,381.0 554.4,379.5 552.8,378.2 551.2,377.3 550.1,375.7 548.4,375.1 547.2,373.4 546.5,371.4 547.2,369.4 548.4,367.6 548.1,365.7 547.1,364.0 547.1,362.0 546.6,359.8 545.9,357.6 544.4,355.6 542.1,354.5 540.3,353.2 538.4,352.0 537.8,350.5 537.8,348.9 535.9,348.3 534.0,347.6
M571.5,353.2 572.7,355.1 574.0,357.0 576.1,357.6 578.0,358.5 579.8,359.4 581.5,360.8 583.5,361.5 585.3,362.5 587.2,363.3 589.0,364.5 589.5,366.1 589.9,367.8 589.6,369.5 588.9,371.1 588.0,372.7 587.8,374.5 587.8,376.4 588.0,378.3 588.0,380.1 588.4,382.0 586.3,382.6 584.1,382.2 582.0,382.8 579.9,382.9 577.8,383.2 577.3,385.1 577.1,387.0 574.9,387.7 572.8,388.2 571.0,387.7 569.3,387.0 567.8,386.0 566.1,386.3 564.4,385.8 562.8,385.8 561.9,387.7 560.9,389.5 560.2,391.7 559.6,393.9 561.8,394.6 563.4,396.4 563.4,398.2 563.0,400.0
M562.8,400.0 561.4,401.7 560.9,403.8 561.8,405.5 562.1,407.5 559.6,408.8 557.9,408.9 556.3,409.2 554.6,409.4 553.2,411.1 551.5,412.5 552.6,414.5 554.6,415.6 553.9,417.8 552.8,419.8 551.0,419.7 549.5,420.7 547.8,420.6
M534.0,420.6 535.9,421.0 537.1,422.7 539.0,423.1 540.7,423.3 542.4,423.0 544.0,423.8 545.8,422.1 547.8,420.6 549.4,420.3 551.1,420.5 552.8,420.0 555.0,420.6 557.1,421.8 559.0,423.1 561.1,423.5 563.2,423.0 565.2,422.5 566.9,423.0 568.3,424.0 569.6,425.0 571.2,424.8 572.8,425.0 574.5,426.7 576.5,428.1 578.1,428.9 579.7,429.8 581.5,430.0 583.2,430.2 584.8,429.6 586.5,429.4 588.2,430.9 590.2,431.9 592.0,433.4 594.0,434.4 595.5,435.7 597.3,436.4 599.0,437.5 600.6,437.7 602.1,437.2
M586.5,429.4 585.3,431.1 584.6,433.1 585.8,435.0 587.8,436.2 586.9,438.2 584.9,439.3 584.0,441.2 583.7,443.2 582.0,444.4 581.5,446.2 580.8,448.1 580.2,450.0 578.1,450.6 575.9,451.2 574.5,452.2 574.0,453.8 573.1,455.4 572.4,457.1 571.5,458.8 570.0,460.1 569.0,461.9 567.4,461.6 565.9,462.2 564.7,460.7 563.4,459.4 561.2,459.2 559.0,458.8 556.8,457.9 554.6,456.9 552.8,457.9 550.9,458.8 550.3,460.9 550.2,463.1 549.5,464.8 548.4,466.2 547.5,467.9 546.5,469.4 547.4,471.0 548.4,472.5 549.7,474.3 550.9,476.2 552.9,477.3 554.6,478.8 555.2,480.4 555.9,481.9 557.1,483.1
M557.1,483.1 559.0,483.9 560.9,484.8 563.0,484.2 565.2,483.8 566.2,482.2 567.6,481.1 569.0,480.0 570.5,479.0 572.4,478.8 574.0,478.1 575.3,476.9 576.5,475.6 578.5,475.8 580.2,476.9 582.2,477.1 584.0,476.2 585.1,478.0 585.9,480.0 586.4,482.1 587.8,483.8 588.7,485.9 590.2,487.5 590.9,489.4 593.1,489.7 595.2,489.0 595.5,486.9 596.5,485.0 596.6,483.3 597.4,481.7 597.1,480.0 596.2,478.2 596.5,476.2
M602.1,437.2 604.0,438.2 605.2,440.0 606.8,441.3 608.4,442.5 608.6,444.7 608.8,446.9 607.8,448.3 607.8,450.0 605.5,450.0 603.4,450.6 601.8,451.8 600.2,453.1 598.2,453.2 596.5,454.4 594.6,454.0 592.8,453.8 590.9,454.7 589.0,455.6 587.6,456.4 586.5,457.5 586.9,459.4 587.1,461.2 587.0,463.2 586.5,465.0 588.4,466.9 589.5,468.5 590.9,470.0 592.6,471.4 594.0,473.1 594.8,475.0 596.5,476.2
M602.1,437.2 602.0,434.8 601.5,432.5 600.9,430.3 600.2,428.1 600.4,426.1 601.5,424.4 603.4,423.9 605.2,423.8 606.8,423.3 608.4,423.1 608.1,421.5 607.8,420.0 605.9,419.0 604.0,418.1 602.3,416.8 600.2,416.2 600.2,415.0 602.5,415.4 604.6,414.8 606.5,415.0 608.4,415.3 610.2,415.6 611.9,415.6 613.7,415.8 615.2,415.0 617.1,414.5 619.0,414.4 619.3,412.5 619.6,410.6 618.7,408.8 617.1,407.5 615.6,406.2 614.6,404.4 614.0,402.2 613.8,400.0
M619.0,414.4 619.8,416.3 621.5,417.5 622.5,419.2 624.0,420.4 625.2,421.9 627.1,422.3 628.4,424.0 630.2,424.4 631.8,425.4 633.4,426.4 635.2,426.9 636.8,427.9 638.5,428.2 640.2,428.1 642.3,427.6 644.3,426.9 646.5,426.9 648.2,427.0 649.8,427.7 651.5,428.1 654.0,426.9 654.6,428.5 655.6,430.1 655.9,431.9 657.7,433.5 659.0,435.6 660.4,436.4 662.0,436.9
M596.5,476.2 597.5,474.4 598.4,472.5 600.2,471.1 602.1,470.0 604.5,469.6 606.5,468.1 608.2,468.1 609.8,467.2 611.5,467.5 612.2,465.8 613.5,464.3 614.0,462.5 615.5,461.8 617.1,461.5 619.3,462.2 621.5,462.5 623.3,462.3 624.9,463.1 626.5,463.8 628.1,464.6 629.8,464.7 631.5,465.0 632.6,466.4 634.0,467.5 635.9,467.5 637.8,468.1 639.6,467.2 641.5,466.2 642.7,468.2 644.0,470.0 645.1,468.8 646.5,468.1 648.0,467.4 649.4,466.5 650.9,465.6 651.3,467.8 652.8,469.4 652.9,471.1 653.3,472.7 653.4,474.4 654.9,474.9 655.9,476.2 657.2,474.7 659.0,473.8 660.7,473.1 662.0,471.9
M655.9,476.2 657.8,477.8 659.0,480.0 659.8,481.8 659.6,483.8 659.1,485.6 657.9,487.1 657.1,488.8 655.3,490.4 654.0,492.5 652.9,494.3 652.1,496.2 652.4,498.2 653.4,500.0 655.1,501.6 655.9,503.8 656.9,505.7 656.4,508.0 657.1,510.0 657.9,511.6 658.1,513.4 659.0,515.0 659.0,516.7 659.0,518.4 658.4,520.0 658.4,521.7 658.4,523.4 657.8,525.0 657.9,526.7 659.0,528.0
M597.1,480.0 597.0,481.9 597.3,483.8 597.2,485.6 597.1,487.5 597.5,489.1 598.1,490.8 597.8,492.5 597.9,494.5 599.0,496.2 597.7,498.1 596.5,500.0 594.3,501.1 592.8,503.1 591.5,505.6 593.4,505.2 595.2,505.0 596.8,504.8 598.4,504.4 599.6,505.8 600.2,507.5 599.8,509.6 598.4,511.2 598.3,513.0 598.8,514.7 599.6,516.2 599.5,518.5 599.0,520.6 597.4,521.9 596.5,523.8 595.3,524.8 594.6,526.2 592.8,528.0
M599.0,520.6 600.9,521.0 602.8,521.9 604.4,520.4 605.9,518.8 607.2,520.2 609.0,520.6 610.9,519.1 612.8,517.5 614.8,517.4 616.5,516.2 618.3,515.6 620.2,515.6 621.3,516.8 622.1,518.1 622.3,519.9 623.3,521.4 623.4,523.1 623.9,525.5 624.0,528.0
M557.1,483.1 555.5,483.0 554.0,483.8 552.4,484.7 550.9,485.6 551.5,488.1 552.5,489.3 554.0,490.0 556.3,490.3 558.4,491.2 559.6,493.8 558.3,495.2 556.5,496.0 554.9,496.5 553.2,497.0 551.5,496.9 550.0,495.9 548.1,496.3 546.5,495.6 545.9,494.0 545.2,492.5 543.6,492.6 542.1,491.9 539.9,492.6 537.8,493.5 535.9,493.4 534.0,493.1
M546.5,495.6 546.3,497.5 545.9,499.4 544.4,500.8 542.5,501.2 540.1,501.6 537.8,501.0 536.0,500.1 534.0,500.0
M534.0,482.5 534.6,484.1 535.1,485.8 535.2,487.5 535.3,489.4 534.6,491.2
M534.0,415.0 534.6,417.5
M534.0,511.2 535.7,511.6 537.1,512.5 538.0,514.3 538.4,516.2 537.9,518.4 536.5,520.0 535.9,521.6 535.9,523.4 535.2,525.0 534.0,526.2
M584.6,527.8 586.7,526.6 589.0,526.2 591.0,525.9 592.8,525.0 594.0,526.5
M534.0,567.4 535.6,565.7 537.8,564.9 539.1,562.8 540.9,561.1 542.7,560.2 544.0,558.6 545.8,557.9 547.8,558.0 549.1,559.5 550.2,561.1 551.5,562.3 553.0,563.1 554.6,563.6 556.5,563.4 558.4,563.9 560.2,564.2 562.4,565.1 564.6,565.5 565.1,567.0 565.2,568.6 563.9,569.5 563.4,571.1 564.1,572.7 563.7,574.6 564.6,576.1 566.5,577.7 568.4,579.2 570.7,579.9 572.8,581.1 574.4,581.4 576.2,581.3 577.8,582.0 580.0,582.1 582.1,581.8
M547.8,558.0 549.5,556.8 551.5,556.1 553.5,556.0 555.2,554.9 556.3,553.4 557.1,551.8 556.7,550.2 556.5,548.6 554.5,548.3 552.8,547.4 550.9,547.6 549.0,548.0 547.3,547.4 545.9,546.1 545.3,544.3 544.0,543.0 542.3,543.1 540.9,542.4 539.6,543.3 538.4,544.2 537.5,543.0 536.5,541.8 536.5,540.1 537.1,538.6 538.6,537.9 539.6,536.8 539.2,534.9 539.0,533.0 537.9,531.6 536.5,530.5 537.1,528.0
M539.6,536.8 541.8,536.2 544.0,535.5 546.2,535.9 548.4,536.8 549.9,537.5 551.5,538.0 552.8,539.2 554.5,538.3 556.5,538.0 558.0,537.0 559.0,535.5 560.6,534.7 562.4,534.4 564.0,533.6 565.6,532.0 567.8,531.1 568.1,529.6 568.4,528.0
M572.1,528.0 573.2,529.2 574.0,530.5 575.5,531.3 577.0,532.0 578.4,533.0 579.6,531.3 581.5,530.5 584.0,529.2 585.9,529.3 587.8,529.9 589.0,528.0
M621.5,528.0 620.9,530.0 619.6,531.8 619.8,533.4 619.0,534.9 621.5,534.2 622.6,535.7 624.0,536.8 625.2,539.2 627.1,538.7 629.0,538.6 631.5,538.6 632.0,537.0 632.8,535.5 634.0,533.0 635.8,533.8 637.8,533.6 639.5,534.6 641.5,534.9 644.0,534.2 644.8,532.5 644.6,530.5 646.5,529.2 649.0,529.9 650.8,530.6 652.8,530.5 654.4,529.9 656.1,529.8 657.8,529.9 660.0,529.6 662.0,530.5
M631.5,538.6 631.9,540.9 632.8,543.0 631.9,544.6 631.7,546.4 630.9,548.0 630.0,549.9 629.0,551.8 627.6,553.2 626.5,554.9 625.1,556.3 624.0,558.0 624.1,559.7 623.2,561.3 623.4,563.0 621.9,564.7 620.2,566.1 618.3,567.2 616.5,568.6 616.2,570.9 615.2,573.0 613.5,574.1 611.5,574.2 610.4,575.6 610.2,577.4 608.3,577.7 606.5,578.6 605.3,580.4 604.6,582.4
M662.0,537.4 660.2,538.0 660.9,540.5 662.0,541.1
M582.1,581.8 584.6,581.1 585.8,579.4 587.8,578.6 589.0,579.9 591.5,579.2 593.1,580.1 594.0,581.8 595.5,582.4 596.5,583.6 599.0,583.6 600.0,582.4 601.5,581.8 602.8,583.0 604.6,582.4 605.2,584.9 603.4,586.8 603.2,588.4 602.5,589.9 603.1,591.4 603.4,593.0 604.8,594.3 605.2,596.1 605.9,598.6 607.5,599.0 609.0,599.9 610.9,599.7 612.8,599.2 612.7,597.6 613.4,596.1 612.8,594.6 611.5,593.6 610.3,592.3 609.0,591.1 610.4,590.4 611.5,589.2 610.2,587.4 612.8,588.0 614.0,586.8 615.7,585.5 617.8,584.9 619.6,584.2 621.5,583.6 623.2,583.6 624.8,583.0 626.5,583.0 628.1,581.5 630.2,581.1 631.5,582.0 633.0,581.2 634.0,579.9 636.0,579.6 637.8,578.6 639.2,580.0 640.2,581.8 642.8,580.5 643.6,578.6 645.2,577.4 645.5,575.0 645.0,572.8 644.6,570.5 645.8,572.0 646.2,573.7 646.5,575.5 649.0,574.2 649.0,572.0 650.3,569.9 650.1,567.6 650.9,565.5 651.1,563.5 650.2,561.8 652.1,561.8 652.1,563.7 652.8,565.5 654.6,566.4 655.9,568.0 657.3,569.4 659.0,570.5 660.5,569.8 662.0,569.2
M639.0,580.5 640.9,578.6 642.1,581.1
M646.5,576.1 647.4,574.7 647.8,573.0 647.7,574.6 648.4,576.1 649.6,574.9
M650.9,563.6 652.1,564.9 653.4,566.3 654.0,568.0 655.2,569.7 657.1,570.5 659.0,569.2 660.9,571.1
M657.8,577.4 660.2,576.1
M582.1,581.8 580.6,582.8 579.0,583.6 577.1,584.8 575.9,586.8 574.7,588.2 574.0,589.9 572.6,590.6 571.5,591.8 569.6,591.4 567.8,591.8 566.1,592.2 564.6,593.0 564.1,595.2 563.4,597.4 563.2,599.1 562.1,600.5 560.1,601.6 558.4,603.0 556.6,604.6 554.6,606.1 553.7,608.3 552.8,610.5 551.6,612.0 551.9,614.0 550.9,615.5 550.2,618.0 551.2,620.0 552.8,621.8 554.2,622.9 554.6,624.8 555.9,626.1 557.1,627.7 559.0,628.4 560.2,629.9 560.8,632.1 561.5,634.2 561.9,636.4 563.4,638.0 564.7,639.8 566.3,641.4 567.8,643.0 569.4,644.2 571.0,645.5 572.1,647.4 573.7,648.5 575.1,649.8 576.5,651.1 578.1,651.6 579.5,652.6 580.9,653.6 582.7,654.5 584.0,656.0
M563.4,590.5 565.9,591.1 567.1,593.0 569.0,591.1 566.5,590.5 565.2,592.4 564.0,591.1 565.8,592.0 567.8,592.4
M572.8,586.8 574.6,586.1 574.7,587.7 575.2,589.2 574.6,591.0 573.4,592.4 572.8,590.9 572.8,589.2 574.0,588.0 574.1,589.6 574.2,591.1
M577.1,586.8 579.0,584.9 577.8,588.6
M576.5,651.8 579.0,653.0 580.2,654.2
M589.0,614.2 589.9,613.0 590.9,611.8 592.6,611.1 593.7,609.5 595.2,608.6 597.0,607.2 599.0,606.1 600.8,605.9 602.2,604.5 604.0,604.2 605.7,604.1 607.3,603.6 609.0,603.6 610.7,603.7 612.3,603.1 614.0,602.8 616.5,602.4 617.5,603.8 619.0,604.9 619.7,606.7 619.6,608.6 618.2,609.7 617.1,611.1 616.1,613.3 615.2,615.5 614.5,617.2 613.3,618.7 612.8,620.5 610.6,621.8 609.0,623.6 607.4,625.3 605.2,626.1 603.5,627.3 601.5,628.0 599.8,627.7 598.1,627.5 596.5,626.8 594.1,626.3 592.1,624.9 590.7,623.8 589.6,622.4 589.0,620.2 589.0,618.0 589.2,616.1Z
M650.3,566.8 651.0,566.6 651.2,567.3 650.5,567.6Z
M651.9,566.6 651.6,566.1 651.9,565.7 652.4,565.8 652.3,566.4Z
M653.2,570.9 652.8,571.5 652.5,571.0Z
M661.2,568.3 660.8,568.3 660.7,568.0 660.8,567.6 661.4,567.7Z
M653.8,566.7 652.7,567.0 651.6,566.6 651.8,565.5 653.2,565.5Z
M651.8,576.0 650.4,574.5 652.1,574.1Z
M654.7,575.5 654.6,576.5 653.8,576.4 654.1,575.7Z
M656.7,564.7 657.2,564.4 657.7,565.0 657.1,565.3 656.5,565.2Z
M649.5,567.2 650.8,567.3 650.2,568.3Z
M652.9,572.2 653.2,571.4 653.8,571.3 654.0,571.7 653.8,572.3Z
M650.2,570.4 651.6,569.6 651.6,571.2Z
M658.3,573.4 657.9,573.3 657.7,573.0 658.3,572.8 658.4,573.1Z
M653.3,563.8 654.6,563.6 654.5,565.0 653.4,565.0Z
M643.9,571.4 643.4,571.2 643.6,570.6 644.0,570.8Z
M659.7,569.2 658.2,569.3 658.8,568.3Z
M663.1,568.0 662.7,568.7 662.3,568.0Z
M649.6,574.8 648.6,576.1 647.6,575.1 648.3,573.9Z
M657.9,571.1 658.0,571.9 657.4,571.5Z
M641.8,578.1 641.0,577.7 641.7,577.3Z
M638.0,579.9 639.0,579.6 638.9,580.7 638.5,581.0 638.0,580.7Z
M638.9,577.6 639.5,577.5 639.6,578.2 639.0,578.3Z
M642.6,579.2 644.3,580.2 642.8,581.0Z
M608.5,589.8 609.5,588.9 610.2,590.3Z
M613.2,589.2 613.3,589.9 612.5,589.5Z
M611.1,590.1 611.9,590.1 611.6,591.0Z
M612.0,590.9 612.2,590.4 612.7,590.6 612.7,590.9 612.4,591.1Z
M568.0,590.7 568.3,589.6 569.7,590.5Z
M566.4,591.0 567.2,591.2 567.4,592.0 566.6,592.3 565.6,591.8Z
M566.0,589.5 565.9,589.9 565.3,589.9 565.5,589.4Z
M574.5,590.0 574.3,589.0 575.6,588.5 575.8,590.2Z
M574.1,592.2 572.8,592.3 573.2,590.7 574.4,591.4Z
M561.9,589.7 563.1,590.4 562.7,591.8 561.7,591.4 561.1,590.8Z
M568.5,588.3 567.7,588.1 567.6,587.2 568.3,586.5 568.9,587.4Z
M569.2,588.3 569.0,587.7 569.6,587.4 570.2,588.0Z
M567.1,589.4 567.7,589.9 567.4,590.5 566.8,590.3 566.6,589.8Z
M566.2,591.8 565.3,592.8 564.5,592.0 565.0,591.2Z
M571.3,590.0 571.3,589.1 572.6,588.7 572.9,589.9 572.1,590.3Z
M563.0,590.8 563.3,591.5 562.3,591.7 561.7,591.3 562.1,590.5Z
M563.1,589.0 563.9,588.9 563.7,589.8Z
M575.8,585.8 575.8,584.6 576.6,585.0Z
M578.1,585.7 578.8,586.0 578.6,586.6 578.0,586.5Z
M569.9,590.7 570.0,589.9 570.8,590.4Z
M565.1,591.8 564.7,591.7 564.8,591.1 565.2,591.2 565.3,591.5Z
M572.6,591.4 572.0,591.2 572.2,590.9 572.6,590.9Z
M571.6,588.5 569.8,588.8 570.4,586.9Z
M582.8,656.0 584.0,657.5 585.2,659.1 586.9,660.7 587.8,662.9 589.5,664.3 590.9,666.0 592.8,667.9 593.1,670.1 593.4,672.2 594.0,673.9 594.6,675.5 594.6,677.2 595.5,678.8 596.0,680.4 595.9,682.2 595.7,684.1 596.4,685.7 597.1,687.2 597.8,688.9 597.3,690.6 597.8,692.2 597.5,694.2 598.4,696.0 598.9,697.6 599.6,699.1 599.4,701.1 598.4,702.9 597.8,704.4 597.1,706.0 597.8,708.5 596.5,711.0 596.3,712.9 595.9,714.8 595.3,716.8 594.0,718.5 592.1,719.7 590.2,721.0 588.8,722.4 586.7,722.2 585.2,723.5 583.5,724.4 581.8,725.5 580.2,726.6 578.3,727.0 576.8,728.1 575.2,729.1 573.7,730.2 572.1,731.1 570.2,731.6 568.2,731.4 566.5,730.4 566.4,732.1 565.2,733.5 564.6,732.1 563.4,731.0 563.2,732.7 564.0,734.3 564.0,736.0 562.5,734.7 561.5,732.9 561.5,734.8 561.5,736.7 562.1,738.5 561.3,736.6 559.6,735.4 560.2,737.4 559.7,739.6 560.2,741.6 559.3,739.5 557.8,737.9 555.2,737.2 556.0,739.1 557.5,740.5 558.4,742.2 557.1,744.1 555.9,745.3 554.0,745.5 552.8,746.6 550.7,747.9 548.4,748.8
M534.0,729.8 535.3,730.6 536.5,731.6 537.7,733.2 539.0,734.8 540.6,734.9 542.1,735.4 543.4,737.9 541.8,738.8 540.9,740.4 540.9,742.3 540.2,744.1 540.8,746.4 540.2,748.8
M598.4,700.4 599.2,702.9
M781.4,247.8 780.8,250.2 779.7,252.1 778.9,254.0 777.3,254.7 775.8,255.3 774.5,256.5 772.7,257.1 770.9,257.7 769.5,259.0 767.9,258.3 766.2,258.6 764.5,258.4 762.8,259.4 761.4,260.8 759.5,261.5 757.9,262.5 756.1,263.1 754.5,264.0 753.1,265.3 751.1,265.5 749.5,266.5 747.6,267.7 745.4,268.2 743.2,269.0 741.0,270.1 739.5,272.0
M693.2,272.0 693.1,269.5 693.9,267.1 695.1,265.4 697.0,264.6 698.6,263.9 700.2,263.0 702.0,262.8 703.6,263.0 705.1,262.8 706.8,263.9 707.6,265.9 708.2,267.9 709.5,269.6 710.5,271.1 712.0,272.0
M725.1,272.0 725.1,270.4 724.5,269.0 725.7,268.0 727.0,267.1 728.7,267.8 730.1,269.0 730.9,270.6 732.0,272.0
M662.0,270.9 667.0,270.5 668.2,272.0
M677.6,303.9 678.0,302.3 678.2,300.8 679.7,299.1 681.4,297.6 683.2,296.6 685.1,295.9 687.0,295.1 687.8,293.3 688.2,291.4 689.7,290.8 690.8,289.5 691.4,291.2 693.2,292.2 693.9,293.9 695.9,294.6 697.6,295.8 699.5,295.7 701.4,295.8 700.1,297.3 698.9,298.9 699.4,300.4 699.5,302.0 701.3,302.6 702.6,303.9 703.7,305.3 703.9,307.0 702.0,308.9 700.4,308.8 698.9,308.2 698.6,310.1 698.2,312.0 696.2,312.1 694.5,313.2 692.0,313.9 690.3,313.7 688.9,314.5 686.8,313.5 684.5,313.2 682.5,313.0 680.8,313.9 679.1,312.4 677.0,312.0 676.8,310.1 676.4,308.2 677.4,306.2Z
M692.6,307.0 694.0,305.9 695.8,305.8 698.2,305.5 698.9,308.2 698.0,310.1 697.6,312.0 694.8,311.8 693.2,309.5Z
M702.6,303.9 703.1,305.8 703.9,307.6 703.0,309.5 704.6,311.2 705.8,313.2 706.9,314.3 708.2,315.1 707.9,316.9 708.7,318.5 708.9,320.1
M694.8,313.2 694.1,315.4 693.9,317.6 694.5,319.8 694.8,322.0 693.8,323.7 692.6,325.1 691.9,326.6 692.0,328.2 693.2,330.8 695.0,330.8 696.4,332.0 698.2,331.5 700.1,331.8 701.7,330.9 703.0,329.8 703.2,327.0
M703.2,327.0 704.1,325.4 705.1,323.9 706.0,322.3 707.8,321.5 708.9,320.1 711.4,321.4 713.3,322.0 715.1,323.0 717.0,321.4 719.8,321.4 722.0,319.5 723.2,317.7 724.2,315.8 724.6,314.2 725.1,312.6 726.1,311.4 727.0,310.1 728.6,308.9 730.1,307.6 731.9,306.6 733.9,305.8 735.6,304.7 737.5,304.1 739.5,303.9 741.1,302.6 742.0,300.8 743.0,299.2 743.9,297.6 745.1,295.5 747.0,293.9 748.8,293.0 750.1,291.4 752.3,290.9 754.5,291.0 756.2,291.0 757.6,292.0 758.2,290.8 760.1,292.6 762.0,294.5 763.0,296.4 761.8,298.2 760.8,300.1 759.7,302.2 758.2,303.9 756.7,305.8 755.1,307.6 753.9,309.5 753.5,311.0 753.2,312.6 751.4,313.9 750.8,315.8 752.3,315.3 753.9,315.5 755.8,317.6 755.1,320.1 754.5,322.0 752.0,323.2 749.5,323.9 748.2,325.8 749.5,327.6 751.4,326.8 753.2,325.8 755.8,324.5 757.6,323.2 758.9,321.4 760.1,319.8 762.0,318.9 763.9,317.3 765.8,315.8 767.5,314.8 768.8,313.2 770.8,312.6 772.4,311.8 773.9,310.7 775.8,310.5 777.4,309.9 779.2,309.8 780.8,308.9 782.4,308.7 784.1,308.7 785.8,308.2 788.2,307.0 788.9,304.5 790.0,304.2
M713.2,272.0 712.3,273.4 712.0,275.1 711.4,276.7 710.1,277.6 710.2,279.4 711.4,280.8 712.8,282.3 714.5,283.5 716.7,283.4 718.6,284.6 720.8,284.5 722.3,284.7 723.9,285.1
M726.4,272.0 726.6,274.1 725.4,276.1 725.8,278.2 725.2,279.9 724.5,281.6 724.8,283.5 723.9,285.1 722.9,286.6 722.6,288.2 721.4,290.2 719.5,291.4 720.1,294.2 722.1,294.8 723.9,296.0 725.6,296.5 727.2,297.2 728.9,299.5 730.1,301.3 730.1,303.5 730.8,305.0 731.8,306.4 734.2,305.5
M667.6,272.0 668.6,273.8 668.9,275.8 669.4,277.3 669.5,278.9 671.7,278.8 673.9,278.2 675.3,277.1 677.1,276.5 678.2,275.1 680.2,274.9 682.1,274.7 683.9,273.9 685.8,273.3 687.6,272.6 689.4,273.3 691.3,273.5 693.2,273.2 693.9,272.0
M732.0,272.0 733.4,273.2 733.8,275.1 735.1,276.4 736.4,274.8 738.3,273.7 739.5,272.0
M662.0,300.8 663.9,301.4 662.6,303.2 662.0,304.5
M662.0,309.5 662.8,310.9 663.9,312.0 663.8,313.9 664.5,315.8 664.0,317.8 662.6,319.5 662.0,320.1
M703.2,327.0 703.8,328.6 703.8,330.4 704.5,332.0 705.3,334.2 707.0,335.8 708.6,336.6 710.5,336.5 712.0,337.6 713.7,337.5 715.3,336.7 717.0,337.0 719.5,336.4 720.1,338.0 720.8,339.5 721.0,341.8 722.0,343.9 722.1,346.1 721.4,348.2 721.9,350.1 723.2,351.4 725.0,352.5 727.0,353.2 729.1,352.3 731.4,352.0 732.3,350.2 733.9,348.9 735.3,347.8 737.0,347.1 738.2,345.8 740.2,344.6 742.0,343.2 744.5,342.6 746.7,343.8 748.2,345.8 750.3,345.8 752.0,347.0 753.7,346.7 755.3,347.8 757.0,347.6 759.1,346.9 761.4,347.0 763.4,347.9 765.6,348.4 767.6,349.5 767.1,351.3 767.0,353.2 766.5,355.2 765.8,357.0 763.2,355.8 760.8,355.1 759.1,356.4 757.0,357.0 755.1,357.4 753.6,358.6 752.0,359.5 750.2,360.1 748.5,360.8 747.0,362.0 745.1,363.2 743.9,365.1 742.8,367.4 740.8,368.9 739.0,370.6 737.0,372.0 736.1,373.8 734.5,375.1 732.9,376.4 731.4,377.6 730.0,378.8 729.0,380.3 728.2,382.0 727.4,383.6 726.0,384.8 724.5,385.8 723.8,387.6 723.9,389.5 725.3,390.6 727.0,391.4 728.5,392.5 729.9,393.9 731.4,395.1 733.7,395.7 735.8,397.0 736.3,398.7 737.6,400.0
M705.8,336.4 704.6,337.4 703.2,338.2 701.1,339.5 699.5,341.4 697.4,341.7 695.4,342.7 693.2,342.6 691.9,343.6 690.5,344.6 688.9,345.1 687.2,346.0 686.0,347.5 685.0,349.3 683.2,350.1 682.5,351.8 681.3,353.1 680.1,354.5 679.2,356.7 678.2,358.9 676.3,360.4 674.5,362.0 674.3,363.6 673.9,365.1 675.0,366.6 675.8,368.2 675.7,370.3 674.5,372.0
M674.5,372.0 672.9,370.7 671.0,369.7 669.5,368.2 667.9,369.0 666.2,368.7 664.5,368.9 662.0,367.6
M674.5,372.0 675.1,373.9 677.5,373.5 679.5,372.0 681.0,371.1 682.7,370.8 684.5,370.8 685.1,372.0 682.9,372.7 680.8,373.9 679.0,375.1 677.0,375.8 675.9,377.2 674.5,378.2 673.2,379.5 671.9,381.3 670.1,382.6 669.1,384.1 668.2,385.8 669.5,386.7 670.8,387.6 672.4,389.1 674.5,389.5 674.9,391.4 676.4,392.6 678.6,392.4 680.8,393.2 683.2,393.3 685.8,393.2 686.9,392.2 687.6,390.8 689.5,388.9 691.0,389.6 692.6,389.5 694.5,391.4 696.2,392.9 698.2,393.9 700.1,394.3 702.0,394.5 703.6,394.0 705.1,393.2 706.9,392.5 708.9,392.0 710.3,393.7 711.4,395.8 713.1,395.5 714.5,394.5 715.8,393.2 716.4,391.4 717.9,390.9 718.9,389.5 720.0,388.4 720.8,387.0 722.2,385.9 723.9,385.1
M687.6,390.8 687.0,392.3 687.0,393.9 687.7,395.6 688.9,397.0 690.1,398.5 691.4,400.0
M737.6,400.0 738.4,401.9 739.5,403.8 740.5,405.8 741.1,407.9 742.0,410.0 742.9,412.0 744.2,414.0 744.5,416.2 745.1,418.1 745.5,420.0 745.8,421.9 746.5,423.8 748.2,425.0 750.1,426.5 752.0,428.1 753.7,429.6 755.1,431.2 756.6,432.6 757.6,434.4 758.5,435.8 758.9,437.5
M735.8,434.0 737.9,433.0 740.1,432.2 742.4,432.1 744.5,432.8 746.7,433.5 748.2,435.2 750.1,435.9 752.0,435.6 753.9,436.2 755.8,436.9 757.3,437.1 758.9,437.5
M748.9,436.5 750.8,436.1 752.6,435.6 754.6,436.4 756.4,437.5 757.6,440.0 756.0,440.3 754.5,439.8 752.4,439.4 750.8,438.1Z
M745.1,434.4 746.9,435.8 748.2,437.5 750.0,438.9 751.4,440.6 753.2,441.5 755.1,441.9 757.6,443.1 758.0,445.0 758.5,446.9 757.6,448.3 757.6,450.0 755.8,450.8 753.9,451.2 752.0,452.5 749.8,453.3 748.2,455.0 746.5,455.5 745.1,456.7 743.2,456.9 741.4,457.6 739.5,457.5 737.0,459.0
M739.5,457.5 741.3,458.2 743.2,458.8 743.9,461.2 746.2,461.2 748.2,460.0 750.1,459.2 752.0,458.8 753.4,460.3 755.1,461.2 756.4,462.1 757.6,463.1 759.5,462.5
M758.9,460.0 760.5,460.1 762.0,459.4 763.9,460.2 765.1,461.9 764.8,463.8 764.5,465.6 762.8,465.8 761.4,466.9 760.1,465.8 759.2,464.4 758.8,462.2Z
M760.1,461.2 762.6,462.5 762.0,465.0 763.5,463.8
M759.5,465.0 759.4,466.8 758.2,468.1 756.8,469.1 755.1,469.4 753.2,471.2 755.8,472.5 757.6,474.4 756.5,475.5 755.1,476.2 754.0,478.0 753.2,480.0 754.5,481.0 755.1,482.5 754.3,483.8 753.2,485.0 754.5,487.5 753.5,489.0 752.0,490.0 750.8,489.0 749.5,488.1 748.5,489.5 748.2,491.2 746.6,492.0 745.1,493.1 743.4,492.8 742.0,491.9 743.0,493.6 744.5,495.0 742.8,496.6 742.0,498.8 740.6,500.6 739.5,502.5 738.7,504.7 737.0,506.2 735.5,507.2 734.5,508.8 733.2,511.2 731.9,510.2 730.1,510.0 729.7,511.6 728.9,513.1 730.7,513.7 732.0,515.0 731.4,517.0 730.1,518.8 729.1,520.3 728.2,521.9 730.1,523.8 728.6,524.7 727.6,526.2 725.8,528.0
M757.6,471.2 758.9,472.5 758.0,475.0 759.5,476.2
M747.6,487.5 748.8,488.6 750.1,489.4 748.9,491.9 750.3,489.9 750.8,487.5
M728.9,510.0 730.4,509.3 732.0,509.4 733.1,510.5 733.9,511.9 732.0,513.8 729.5,512.5 730.8,510.6
M730.1,446.2 731.5,447.4 733.2,448.1 735.1,448.9 737.0,449.4 738.6,450.2 740.1,451.2 741.8,450.5 743.2,449.4 745.1,448.6 747.0,448.1 747.4,446.2 748.6,444.7 749.5,443.1 750.0,441.5 751.4,440.6
M747.0,448.1 749.5,450.0 753.9,451.2
M696.4,400.0 698.5,401.1 700.8,401.9 702.3,402.5 703.7,403.5 705.1,404.4 706.5,405.5 708.2,406.2 709.5,407.5 709.2,409.7 708.9,411.9 708.8,413.7 707.6,415.0 708.9,416.4 710.8,416.9 711.3,418.5 712.0,420.0 713.3,421.4 715.1,421.9 717.6,422.5 718.5,420.6 720.1,419.4 722.6,420.6 723.9,423.1 722.0,425.0 720.4,424.9 718.9,425.0 717.5,425.7 716.4,426.9 717.8,428.0 718.9,429.4 717.2,430.5 715.1,430.6 714.5,432.4 713.2,433.8 714.3,435.5 714.5,437.5 715.2,438.9 716.4,440.0 716.5,441.7 715.8,443.1 717.2,444.1 718.9,444.4 721.1,444.6 723.2,445.0 725.1,445.4 727.0,445.6 728.5,446.0 730.1,446.2
M730.1,446.2 729.7,447.8 729.5,449.4 728.1,450.8 727.0,452.5 725.4,454.0 723.9,455.6 722.4,457.0 720.8,458.1 719.9,459.6 719.5,461.2 719.4,463.0 718.4,464.5 718.2,466.2 716.8,467.6 715.8,469.4 714.1,469.9 712.9,471.2 711.4,471.9
M711.4,471.9 709.3,470.6 707.0,470.0 705.0,468.5 702.6,468.1 701.0,466.6 699.5,465.0 697.0,465.6 695.9,467.1 694.5,468.1 692.0,468.8 692.0,466.2 693.0,465.0 693.9,463.8 691.4,462.5 689.2,463.3 687.6,465.0 686.1,465.7 684.5,465.6
M711.4,471.9 710.6,473.8 708.9,475.0 709.3,476.7 709.5,478.4 710.1,480.0 711.5,481.8 713.2,483.1 713.8,484.8 713.5,486.6 714.5,488.1 716.2,488.8 717.6,490.0 718.0,492.2 719.3,494.0 719.5,496.2 721.2,497.8 722.0,500.0 724.1,499.0 726.4,498.8 727.8,497.9 729.5,498.1 730.4,500.0 731.4,501.9 733.0,501.6 734.5,501.2 736.0,502.2 737.0,503.8
M714.5,488.1 712.4,488.6 710.8,490.0 709.2,491.0 707.6,492.0 705.8,492.5 704.2,493.3 702.3,493.1 700.8,493.8 699.0,494.1 698.0,495.8 696.4,496.2 697.1,497.8 696.5,499.6 697.0,501.2 696.0,503.3 694.5,505.0 692.5,506.2 691.4,508.1 690.8,509.8 690.0,511.4 689.5,513.1 689.4,515.3 688.9,517.5 687.5,519.0 686.8,520.9 685.8,522.5 685.0,524.5 683.9,526.2 683.2,528.0
M689.5,400.0 689.3,402.0 690.1,403.8 688.9,405.4 687.0,406.2 684.9,405.4 682.6,405.0 680.9,403.4 680.1,401.2 677.6,402.5 675.9,404.3 674.5,406.2 675.0,407.9 674.9,409.7 675.8,411.2 674.9,413.1 673.2,414.1 672.0,415.6 670.5,416.0 668.9,416.2 668.7,417.9 669.5,419.4 670.7,421.0 672.6,421.9 673.4,423.5 674.5,425.0 676.8,424.7 679.1,424.7 681.4,425.0 681.7,426.9 681.5,428.8 681.7,430.6 681.7,432.5 681.1,434.4 681.4,436.2 678.9,437.5 676.9,438.0 675.1,438.8 675.7,440.6 675.8,442.5 676.9,444.0 678.9,444.3 680.1,445.6 681.3,446.9 682.6,448.1 682.1,450.5 680.8,452.5 681.0,454.5 682.0,456.2 682.2,458.1 683.5,459.5 683.9,461.2 683.9,463.5 684.5,465.6
M662.0,436.2 664.5,437.5 665.8,440.0 667.5,441.0 669.5,441.2 670.9,440.1 672.6,439.4 675.1,438.8
M684.5,465.6 682.6,465.5 680.8,465.0 679.1,465.2 677.4,465.0 675.8,465.6 674.3,466.8 672.3,467.1 670.8,468.1 669.0,469.1 667.4,470.3 665.8,471.2 663.8,472.1 662.0,473.1
M759.5,464.3 759.8,465.4 758.4,465.9 758.4,464.4Z
M761.0,458.4 762.4,459.7 760.8,460.5Z
M763.4,465.1 762.2,465.6 761.8,464.9 762.5,464.5Z
M763.7,461.5 764.5,463.6 762.5,463.2Z
M764.5,460.2 763.6,459.5 764.0,458.7 765.1,459.2Z
M761.2,463.0 761.8,462.5 762.7,462.6 762.7,463.5 761.6,464.0Z
M759.7,458.6 760.5,460.7 758.2,460.1Z
M762.4,466.5 763.5,466.6 763.2,467.7 762.5,467.3Z
M765.5,465.0 764.9,464.7 765.6,464.4Z
M762.5,465.3 762.3,465.9 761.9,465.2Z
M761.8,458.6 762.7,459.8 761.0,459.9Z
M765.3,463.6 765.7,464.0 765.3,464.6 764.7,464.0Z
M757.8,461.3 758.1,460.3 758.7,460.5 758.8,461.4Z
M752.9,466.7 753.3,467.6 752.6,468.2 751.8,467.1Z
M757.9,478.5 757.6,477.9 758.2,477.6 758.4,478.2Z
M757.1,469.7 756.6,471.3 755.3,471.3 755.4,469.8Z
M757.6,474.3 758.2,473.9 758.6,474.4 758.1,474.9Z
M754.9,475.0 755.0,473.9 755.7,473.7 756.1,474.8 755.5,475.5Z
M754.4,469.7 753.2,469.4 753.5,468.1 754.4,467.8 755.5,468.6Z
M755.2,485.0 754.4,485.0 754.4,484.2 754.7,483.9 755.7,484.2Z
M752.0,469.5 752.0,468.5 752.6,468.9Z
M749.3,489.6 750.1,490.4 749.0,490.7Z
M748.2,487.8 747.8,486.4 749.1,486.1 749.0,487.7Z
M746.3,490.9 747.6,490.2 748.1,491.4 746.8,491.9Z
M750.5,491.1 749.4,491.2 750.2,490.1Z
M746.6,490.2 745.9,489.7 745.8,488.6 746.8,488.1 747.1,489.3Z
M749.0,487.3 747.9,488.1 746.9,487.0 748.2,486.1Z
M732.8,516.0 732.0,515.7 733.0,515.3Z
M733.8,512.9 732.5,512.8 732.2,511.8 732.9,510.8 734.1,511.6Z
M729.5,510.2 730.3,510.2 730.0,511.2 729.0,510.9Z
M733.6,512.0 734.1,512.3 733.9,512.8 733.3,513.0 733.2,512.3Z
M730.9,510.6 730.7,509.8 731.4,509.4 731.9,510.4Z
M733.1,515.2 732.9,516.2 732.2,515.4Z
M727.2,510.7 728.0,510.4 728.4,511.0 727.7,511.7Z
M733.4,513.7 733.4,514.1 733.0,514.0 733.1,513.6Z
M729.0,526.8 728.2,528.4 727.8,526.6Z
M729.0,525.8 728.7,525.3 729.1,524.7 729.7,525.0 729.6,525.6Z
M729.3,524.1 729.9,524.0 730.0,524.4 729.6,524.6Z
M728.8,521.8 729.6,522.1 730.1,522.8 729.1,523.5 728.7,522.8Z
M756.3,436.8 756.6,436.4 757.1,436.8 756.9,437.3 756.3,437.5Z
M749.9,439.6 749.9,440.9 748.5,440.7 748.0,439.8 749.1,439.1Z
M753.4,436.6 753.9,436.1 754.1,436.8Z
M748.5,439.4 749.0,438.3 749.7,439.0 749.8,440.3 748.6,440.1Z
M662.0,571.1 663.1,569.7 663.2,568.0 665.8,568.6 666.4,567.2 667.6,566.1 669.3,566.3 670.8,565.5 672.3,565.0 673.9,564.9 674.9,566.1 676.4,566.8 677.9,566.2 678.9,564.9 681.4,565.5 682.8,564.5 684.5,564.2 686.4,564.4 688.2,563.6 689.9,563.2 690.8,561.8 690.8,560.1 691.4,558.6 693.2,557.4 695.8,556.8 696.4,554.2 697.8,553.4 699.5,553.6 700.1,552.1 701.4,551.1 703.9,549.9 705.6,548.7 706.4,546.8 707.2,545.1 708.9,544.2 710.1,541.8 712.6,542.4 714.0,541.1 714.5,539.2 715.8,538.0 717.6,537.4 719.1,536.3 720.1,534.9 721.1,533.6 722.6,533.0 723.2,531.5 724.5,530.5 726.4,528.6 727.6,528.0
M690.1,557.4 692.0,559.2 691.0,560.8
M695.1,554.9 697.6,555.8 696.8,557.8
M699.5,551.8 701.8,553.0 700.5,554.5
M706.4,542.4 707.9,543.2 709.5,543.6 710.0,542.1 711.4,541.1 712.5,542.3 713.2,543.6 712.0,544.9 710.1,542.8 707.6,543.0
M715.1,538.0 717.0,539.2 718.2,536.8 719.8,538.0 720.8,535.5 722.0,536.8 723.1,535.4 723.2,533.6 724.5,534.9 725.1,533.4 725.1,531.8 726.4,533.0
M728.2,529.2 730.1,528.0
M728.9,530.5 731.4,528.6
M662.6,569.2 664.2,568.7 665.1,567.4 666.4,569.9 667.8,568.8 668.2,567.0
M696.4,554.2 695.6,552.7 695.6,551.0 695.8,549.2 695.7,547.5 695.1,545.9 694.5,544.2 693.1,542.6 692.6,540.5 690.8,539.2 688.9,538.0 686.6,537.7 684.5,536.8 682.6,536.7 680.8,536.5 680.6,534.7 681.4,533.0 681.2,531.2 682.8,529.8 682.6,528.0
M680.8,536.5 680.3,538.6 679.5,540.5 678.5,539.2 677.0,538.6 675.2,539.4 673.2,539.2 671.6,539.7 670.0,540.5 668.2,540.5 666.4,541.2 664.5,541.8 662.0,542.0
M662.0,536.8 663.4,535.5 665.1,534.9 666.2,533.8 667.0,532.4 665.8,529.9 663.2,529.2 662.0,529.9
M781.4,544.2 783.9,543.0 785.8,544.9 786.7,543.0 788.2,541.8 790.0,540.5
M757.6,599.9 759.2,598.2
M752.0,612.4 753.2,612.0 753.5,613.6
M738.2,656.0 738.5,654.2 738.1,652.3 738.0,650.5 737.7,648.4 738.2,646.3 738.5,644.2 738.8,642.2 739.7,640.2 739.5,638.0 739.5,635.9 739.6,633.8 740.1,631.8 741.1,629.8 741.4,627.7 741.4,625.5 742.5,624.4 743.2,623.0 744.9,622.5 746.5,622.2 748.2,622.4 750.3,623.1 752.0,624.2 754.2,625.4 755.8,627.4 757.6,626.8 759.5,627.4 760.4,625.5 761.4,623.6 762.4,625.1 763.2,626.8 763.0,628.4 763.0,630.1 762.6,631.8 763.6,633.3 763.2,635.1 763.9,636.8 764.6,639.0 765.8,641.1 766.0,643.3 766.4,645.5 765.7,647.1 764.9,648.8 764.5,650.5 762.8,652.1 762.0,654.2 760.1,656.0
M731.4,656.0 732.4,654.3 732.6,652.4 734.5,654.2 733.9,656.0
M719.1,537.0 720.0,536.8 719.6,537.4Z
M725.6,531.0 725.2,531.0 724.9,530.6 725.1,530.3 725.7,530.3Z
M724.3,537.0 723.2,536.5 723.2,535.4 724.8,535.6Z
M718.3,534.6 719.1,534.1 719.2,535.0Z
M716.7,540.0 716.7,540.6 716.2,540.5 716.1,540.0Z
M729.9,527.5 730.8,527.4 730.7,528.4 729.9,528.0Z
M712.3,538.6 712.2,539.2 711.3,539.2 711.4,538.3 712.1,538.1Z
M727.0,531.0 726.5,529.8 727.6,529.8Z
M713.2,542.0 712.5,542.7 712.2,541.8Z
M718.9,532.7 719.3,532.3 719.9,532.2 720.1,532.8 719.5,533.0Z
M717.8,533.9 716.9,533.6 717.4,532.6 717.9,533.2Z
M726.3,527.0 726.9,527.9 725.8,528.2 725.4,527.3Z
M719.8,537.6 719.6,538.4 719.1,537.8Z
M727.4,531.8 727.3,530.3 729.0,530.2 728.9,532.0Z
M727.3,528.6 728.4,528.9 727.4,529.3Z
M725.9,528.4 726.5,529.2 725.3,529.1Z
M709.7,544.9 709.2,545.6 708.2,545.0 708.6,544.2 709.6,544.2Z
M711.2,543.9 711.0,544.7 710.5,544.1 710.8,543.7Z
M706.6,541.0 707.2,541.4 706.7,541.8 706.3,541.5Z
M708.5,540.2 708.5,539.1 709.9,539.6 709.2,540.7Z
M706.2,540.8 707.3,540.9 706.7,541.8Z
M708.9,543.1 708.8,542.4 709.7,542.3 709.7,543.1Z
M712.0,544.5 712.7,545.4 711.7,546.4 711.1,545.0Z
M698.1,554.7 699.3,553.2 700.7,554.4 699.5,555.7Z
M697.3,554.5 697.2,553.0 698.5,553.6Z
M699.1,555.4 699.0,554.6 699.7,554.8Z
M700.9,552.7 701.5,552.3 701.8,552.8 701.3,553.3Z
M693.1,556.7 693.1,556.1 693.6,556.0 693.7,556.6Z
M697.6,552.8 696.5,553.0 696.5,552.0 697.4,552.2Z
M665.6,568.1 665.2,569.8 664.3,568.7Z
M662.2,567.0 662.7,568.0 661.3,568.0Z
M667.5,569.6 667.6,568.6 668.7,568.5 668.4,569.7Z
M731.4,656.0 731.4,657.9 732.0,659.8 733.0,661.6 733.9,663.5 734.3,665.6 734.4,667.7 734.5,669.8 734.9,671.9 736.4,673.5 738.0,675.3 739.5,677.2 740.8,674.8 743.2,673.5 744.9,674.0 746.4,674.8 746.2,676.6 745.8,678.5 744.4,679.8 742.6,680.4 741.7,682.2 742.0,684.1 743.4,685.0 743.9,686.6 745.4,688.0 747.0,689.1 748.8,689.2 750.3,688.0 752.0,687.9 753.6,686.7 755.1,685.4 756.7,684.9 758.2,684.8 760.8,686.0 761.8,684.8 763.2,684.1 762.0,682.2 760.0,682.0 758.2,681.0 756.9,680.0 756.4,678.5 756.1,676.5 755.1,674.8 754.8,672.8 753.9,671.0 753.4,668.9 752.0,667.2 751.8,665.3 752.6,663.5 753.8,661.7 754.5,659.8 755.6,658.4 757.0,657.2 758.6,656.8 760.1,656.0
M735.8,686.0 737.0,687.0 738.2,687.9 740.0,688.5 741.3,690.0 743.2,690.4 745.4,689.5 747.6,689.8 748.9,691.0 750.3,692.2 752.0,692.9 752.9,695.1 753.9,697.2 753.6,698.9 752.9,700.5 753.2,702.2 752.3,704.3 750.8,706.0 748.2,707.2 747.5,705.3 746.4,703.5 746.0,701.7 745.0,700.2 744.5,698.5 743.9,696.7 742.7,695.2 742.0,693.5 740.5,691.9 738.9,690.4 737.9,688.8 737.0,687.3Z
M757.0,692.2 758.2,690.4 760.8,690.4 762.0,692.2 760.8,694.1 758.2,694.1Z
M765.8,685.4 767.1,686.1 768.2,687.2 768.3,688.9 768.6,690.6 768.9,692.2 768.2,693.7 767.0,694.8 766.5,692.8 765.8,691.0 765.2,689.2 765.1,687.2Z
M762.0,682.2 763.9,681.9 765.3,680.6 767.0,679.8 768.8,680.3 770.8,680.4 772.0,682.0 773.2,683.5 774.5,685.4 775.8,687.2 775.1,685.4 775.1,683.5 776.8,683.4 778.2,684.1 779.9,685.5 782.0,686.0 783.7,685.8 785.3,685.6 787.0,685.4 788.5,684.2 790.0,682.9
M787.0,684.1 788.2,688.5 790.0,689.1
M779.5,689.1 781.1,691.0 783.2,692.2 785.2,692.6 787.0,693.5 786.4,695.6 785.1,697.2 782.6,698.5 782.4,696.5 781.4,694.8 780.7,692.9 780.3,690.9Z
M782.6,693.5 783.1,695.5 783.9,697.4 785.1,699.1 785.1,697.2 783.8,695.5 783.9,693.5 784.8,695.1 785.2,697.0 786.4,698.5
M760.1,702.9 760.4,704.6 761.4,706.0 760.1,708.5 759.3,707.1 759.2,705.4Z
M765.8,704.1 767.6,703.5 768.9,705.0 767.6,706.6 766.0,706.0Z
M758.9,712.2 760.5,712.2 762.0,712.9 763.8,713.4 765.5,714.1 767.0,715.4 769.0,716.2 770.8,717.2 772.6,717.6 774.5,717.2 773.9,719.1 773.2,721.0 771.4,722.6 769.5,724.1 768.6,726.0 767.0,727.2 767.4,728.8 767.6,730.4 765.1,729.8 764.7,728.1 763.2,727.2 760.8,728.5 759.6,729.6 758.9,731.0 758.5,729.1 758.2,727.2 758.6,725.6 759.4,724.0 759.5,722.2 759.7,720.6 758.9,718.9 759.2,717.2 759.3,715.6 758.8,713.9Z
M772.0,726.0 773.9,725.1 775.8,724.1 777.4,724.5 778.9,725.4 778.7,727.6 778.2,729.8 777.6,731.9 776.7,734.0 775.8,736.0 775.9,738.2 775.3,740.2 774.5,742.2 775.0,744.5 775.8,746.6 774.8,748.0 773.2,748.5 771.7,747.5 770.8,746.0 769.7,744.6 768.2,743.5 766.8,742.4 765.8,741.0 764.9,739.5 764.5,737.9 766.2,736.7 768.2,736.0 769.8,734.3 770.8,732.2 770.7,730.1 771.7,728.1Z
M785.1,721.0 784.5,722.6 785.1,724.4 784.5,726.0 783.8,728.1 782.5,730.0 782.0,732.2 780.8,734.3 780.1,736.5 778.9,738.5 778.8,740.7 777.7,742.7 777.0,744.8 778.9,743.5 779.6,741.4 780.8,739.4 781.4,737.2 782.0,735.5 782.9,733.9 783.9,732.2 784.7,730.2 785.5,728.2 785.8,726.0 785.4,724.4 785.2,722.7Z
M775.1,704.1 777.0,703.9 778.9,703.5 780.1,705.1 782.0,706.0 783.5,707.4 784.0,709.7 785.8,711.0 786.4,713.5 785.0,712.4 783.4,712.0 782.0,711.0 780.2,709.6 778.2,708.5 777.1,709.9 775.8,711.0 774.5,708.5 774.3,706.2Z
M790.0,734.1 787.8,734.8 785.8,736.0 784.6,737.8 783.2,739.3 782.0,741.0 783.7,741.2 785.3,741.9 787.0,741.6 788.6,741.6 790.0,741.0
M777.0,748.8 778.9,746.6 780.8,748.8
M789.5,706.0 790.0,708.5
M757.6,671.6 760.1,671.0 761.3,672.4 761.4,674.1 758.9,674.8 758.0,672.9
M762.0,674.8 765.1,675.0
M751.4,709.1 752.6,711.0 754.5,712.2
M760.1,698.5 760.5,701.0
M732.6,706.6 735.1,706.0 736.0,707.3 737.0,708.5 738.2,710.4 735.8,711.0 735.2,712.6 734.5,714.1 733.2,711.6 733.0,710.0 733.2,708.2Z
M733.5,707.2 735.8,709.8 734.5,712.2
M724.5,724.1 725.0,722.2 725.7,720.4 726.4,718.5 728.0,719.1 727.4,720.8 727.8,722.5 727.6,724.1 728.6,725.7 729.5,727.2 727.0,727.9 725.8,726.0Z
M731.4,729.1 732.6,728.2 733.9,729.1 733.2,730.6 731.8,730.6Z
M704.5,748.8 706.6,747.7 708.2,746.0 709.6,744.9 711.0,743.7 712.0,742.2 713.2,740.5 714.1,738.6 715.8,737.2 717.5,735.8 718.9,734.1 720.5,732.6 722.0,731.0 724.0,730.4 725.8,729.1 727.4,729.1 728.9,728.5 731.4,729.8 730.1,731.4 728.2,732.2 726.9,733.5 725.1,734.1 723.9,735.8 722.0,736.6 720.2,737.2 718.9,738.5 718.7,740.5 717.6,742.2 716.4,744.4 714.5,746.0 713.0,747.2 712.0,748.8
M717.6,736.0 718.2,739.1
M781.0,696.5 781.4,695.5 781.9,696.4 781.6,697.0Z
M785.1,698.7 785.2,699.4 784.5,699.5 784.3,698.6Z
M780.4,700.3 780.7,700.4 780.7,700.9 780.3,700.8 780.1,700.5Z
M776.3,702.8 777.4,701.8 778.0,703.1Z
M779.2,691.9 779.0,691.3 779.7,691.4 779.6,692.0Z
M781.6,699.3 782.8,699.6 782.2,700.9 781.1,700.5Z
M779.6,691.9 780.5,692.9 779.9,693.9 779.2,694.0 779.1,692.7Z
M782.5,691.8 781.5,692.3 781.1,691.6 781.4,690.8 782.2,691.2Z
M758.6,674.2 759.0,675.2 757.6,674.8Z
M759.1,676.7 759.7,676.9 759.3,677.4Z
M759.1,677.6 759.1,676.3 760.5,675.9 760.8,677.4Z
M778.7,717.1 778.1,717.3 777.6,717.0 778.3,716.6Z
M774.8,715.6 774.5,717.1 773.4,716.2Z
M780.0,713.2 781.0,712.2 782.6,712.6 781.6,713.9Z
M884.0,250.0 884.6,252.1 885.2,254.2 885.4,252.1 886.5,250.2
M886.2,254.6 887.8,251.2 890.0,250.2
M790.0,304.8 791.8,303.6 793.5,302.3 795.0,300.8 796.4,299.6 797.5,298.1 799.4,297.6 800.6,296.4 802.2,294.8 804.0,293.5 805.6,292.0 807.9,292.3 810.0,291.4 811.6,289.9 812.9,288.3 813.8,286.4 814.3,284.5 815.5,282.8 816.6,281.2 817.5,279.5 819.0,277.6 821.2,276.8 823.8,277.0 824.6,278.7 826.4,279.5 827.5,281.0 829.2,281.1 830.9,281.6 832.5,282.2 834.2,282.3 835.7,283.3 837.5,283.2 838.5,282.0 839.4,280.8 838.4,278.9 837.5,277.0 837.7,275.1 838.1,273.2 840.0,272.0
M801.9,272.0 802.8,273.8 802.9,275.7 803.1,277.6 803.5,279.5 804.4,281.2 805.1,283.0 806.2,284.5 807.2,286.3 807.5,288.2 806.9,290.3 805.6,292.0
M790.0,308.2 791.8,308.4 793.1,309.5 793.4,311.4 793.8,313.2 792.5,315.1 794.8,314.5 796.2,312.0 797.5,313.9 799.1,313.5 800.8,313.4 802.5,313.2 805.0,312.2 804.1,314.0 803.1,315.8 802.4,317.9 801.9,320.1 801.4,322.4 800.6,324.5 799.4,327.0 800.9,327.7 802.5,327.6 804.8,328.2 802.8,329.2 800.6,329.5 798.9,329.7 797.5,330.8 795.6,332.0 796.2,333.2 797.8,334.5 796.9,335.8 795.0,337.6 794.4,340.1 796.9,340.8 798.8,340.1 799.4,342.6 800.6,343.2 801.9,341.4 803.8,342.0 805.6,340.5 807.5,341.4 808.8,343.5 811.2,343.2 813.1,341.4 815.0,342.6 816.9,341.4 818.8,343.2 820.0,345.8 818.4,346.3 816.9,347.0 816.2,348.9 818.0,349.0 819.4,350.1 818.5,352.0 820.0,352.4 821.2,353.2 822.2,355.1 823.1,357.0 821.2,358.2 819.6,357.7 818.1,357.0 816.5,357.6 815.0,358.2 813.1,359.5 814.2,360.6 815.0,362.0 814.4,364.5 815.6,365.8 816.5,367.5 816.9,369.5 818.2,371.0 820.0,372.0 819.3,373.4 818.1,374.5 818.5,376.5 819.4,378.2 817.9,379.2 816.9,380.8 815.8,382.6 815.0,384.5 813.8,385.8 812.5,387.0 812.6,389.0 813.8,390.8 811.9,392.6 814.4,393.9 815.6,392.9 816.9,392.0 816.7,393.7 817.5,395.1 819.1,395.6 820.0,397.0 821.2,395.4 822.5,393.9 825.0,394.5 826.4,393.4 827.5,392.0 830.0,391.4 832.5,392.6 833.3,390.7 835.0,389.5 837.5,390.8 839.1,389.8 840.0,388.2 842.5,389.5 843.3,387.6 845.0,386.4 846.9,387.6 848.8,386.4 850.1,385.5 851.2,384.5 852.2,382.4 853.8,380.8 854.7,379.2 854.7,377.4 855.0,375.8 855.6,374.1 855.4,372.4 855.6,370.8 855.2,368.8 854.4,367.0 854.8,365.4 854.5,363.6 855.0,362.0 854.4,360.0 855.0,357.8 854.4,355.8 853.3,353.8 853.6,351.4 852.5,349.5 851.3,348.1 850.2,346.6 849.3,345.1 848.8,343.2 848.0,341.0 847.2,338.8 845.6,337.0 844.5,335.0 843.7,332.7 842.5,330.8 841.0,329.3 840.4,327.1 838.8,325.8 837.2,324.3 835.2,323.6 833.8,322.0 831.4,321.6 829.4,320.1 828.8,317.6 829.9,316.2 830.6,314.5 829.8,312.7 830.0,310.8 831.8,309.8 833.1,308.2 834.9,307.0 836.7,305.9 838.8,305.1 840.5,304.4 842.0,303.3 843.8,302.6 845.3,301.4 846.4,299.8 848.1,298.9 849.9,298.0 850.9,296.2 852.5,295.1 854.4,294.4 855.6,292.7 857.5,292.0 858.5,290.2 858.8,288.2 859.1,286.5 858.2,284.9 858.1,283.2 857.8,281.3 858.5,279.5 859.4,277.6 860.6,275.8 862.0,274.0 863.1,272.0
M792.8,313.2 793.8,315.8 795.2,313.9
M793.8,340.1 794.8,342.0
M810.0,389.5 811.9,388.2 813.1,390.1 811.2,391.4 810.0,389.5
M811.2,393.9 813.8,395.1 815.0,393.2 816.2,395.8 814.8,396.7 813.1,397.0 810.6,395.8
M815.0,372.0 816.9,373.9 815.6,375.8
M820.0,395.8 821.9,397.0 823.8,395.8 825.6,397.0 827.5,395.1 829.8,395.8 831.9,393.9
M852.5,398.2 853.0,396.6 852.9,394.8 853.8,393.2 855.0,392.6 854.7,394.8 854.4,397.0 853.1,399.5Z
M872.5,347.0 873.5,347.0 873.5,348.2 872.5,348.2Z
M811.2,391.3 812.1,390.1 813.6,390.8 812.8,391.7Z
M814.8,396.0 814.0,396.6 813.3,396.6 813.2,395.8 813.8,395.6Z
M812.7,389.8 812.0,389.7 812.0,388.5 813.3,388.7 813.4,389.5Z
M812.5,383.4 813.2,382.0 813.7,383.2Z
M817.7,390.1 818.1,388.8 819.5,389.4 819.2,391.0Z
M808.3,392.9 808.5,393.4 808.1,393.5 807.8,393.2Z
M811.8,386.1 811.6,385.7 811.9,385.4 812.7,385.5 812.4,386.2Z
M810.9,387.2 810.5,386.9 811.0,386.7Z
M818.1,385.2 817.3,384.9 816.9,384.3 817.6,383.7 818.4,384.4Z
M812.1,384.4 811.6,384.1 812.0,383.8 812.5,384.1Z
M810.1,391.6 809.3,391.7 808.6,391.2 809.2,390.3 810.2,390.0Z
M811.9,387.3 812.6,386.4 813.5,387.4 812.7,388.5 811.8,388.3Z
M807.3,389.6 808.1,390.6 808.0,391.3 806.8,391.9 806.9,390.6Z
M807.3,386.9 807.5,385.8 808.3,385.9 808.2,387.0Z
M813.1,385.2 814.0,386.2 812.8,386.9 812.0,385.8Z
M810.6,397.2 810.6,395.9 812.0,396.6Z
M815.8,375.8 816.5,374.4 817.7,375.4Z
M821.6,369.5 820.4,369.6 820.9,368.6Z
M820.7,372.1 820.5,372.5 820.0,372.3 820.2,371.9Z
M813.8,377.8 814.7,378.0 814.3,378.8 813.4,378.6Z
M815.6,368.7 815.5,367.9 816.3,367.8 816.3,368.4Z
M816.3,369.1 816.9,370.2 815.4,370.2Z
M818.7,373.1 818.2,372.1 818.9,371.5 819.3,372.4Z
M819.4,380.2 819.2,380.6 818.8,380.5 818.8,380.0Z
M812.6,347.9 814.2,348.8 813.0,349.9Z
M811.5,347.7 812.4,349.3 810.6,349.7 810.5,348.1Z
M813.8,344.0 814.8,343.5 815.4,344.0 815.3,345.6 813.9,345.2Z
M820.0,343.2 820.8,342.6 821.3,343.5 820.4,344.2Z
M817.2,348.5 816.4,347.3 817.8,346.3 818.3,347.5 818.3,348.8Z
M819.6,343.3 819.6,344.0 818.4,343.9 818.4,343.1Z
M820.1,343.3 821.0,343.8 820.8,344.7 820.0,345.1 819.7,344.1Z
M818.8,349.3 818.9,350.4 818.0,351.1 817.5,349.6Z
M824.4,347.3 822.8,348.1 823.1,346.2Z
M817.3,397.7 816.6,396.3 818.3,396.4Z
M840.4,387.2 840.2,386.5 841.0,386.2 840.9,387.1Z
M817.5,393.2 817.5,394.0 817.1,393.5Z
M845.6,390.7 844.6,389.9 845.0,389.1 846.3,389.3Z
M815.7,393.5 815.7,393.0 816.1,393.0 816.3,393.4 816.1,393.8Z
M822.7,392.8 822.8,393.5 822.0,393.7 821.3,392.8 822.2,392.3Z
M847.3,386.8 846.5,386.9 846.6,386.3Z
M813.7,395.8 813.2,396.3 812.6,395.9 813.1,395.3Z
M838.7,389.4 837.3,389.8 836.5,389.1 837.6,388.5Z
M828.3,392.9 828.0,394.2 826.5,393.7 826.9,392.6Z
M838.1,387.8 837.3,388.0 837.2,387.2 837.9,387.3Z
M842.3,386.8 841.6,387.2 841.6,386.6Z
M835.3,390.9 834.5,392.5 833.0,391.4 833.4,390.2Z
M824.0,391.0 823.1,391.1 823.2,390.3 823.6,389.9 824.2,390.3Z
M834.6,393.6 833.5,394.9 832.9,393.4Z
M833.3,394.9 832.6,395.2 831.9,394.8 832.4,394.2 833.0,394.0Z
M830.2,390.7 831.0,391.5 829.4,391.6Z
M836.0,386.6 836.5,386.4 836.6,387.0 836.5,387.6 835.9,387.2Z
M798.5,338.1 796.2,338.4 797.1,336.7Z
M795.2,338.6 794.9,339.5 794.2,338.8Z
M794.5,337.7 794.8,336.5 796.0,337.2 795.5,338.3Z
M795.4,313.8 794.6,314.3 794.0,313.7 794.6,312.9Z
M796.4,312.1 795.8,311.6 796.1,311.0 796.6,311.2 796.8,311.6Z
M798.1,313.7 797.4,313.4 796.9,312.9 797.9,312.5 798.3,313.0Z
M802.0,331.1 800.7,330.8 801.0,328.9 802.3,329.5Z
M802.8,329.8 802.9,328.8 804.0,328.5 804.7,329.4 804.0,330.3Z
M803.8,329.4 804.8,328.9 804.7,329.9Z
M803.8,342.5 803.1,343.4 802.9,342.1Z
M803.2,341.5 802.6,343.1 801.4,341.9Z
M809.7,342.7 810.8,343.9 809.2,344.1Z
M812.8,412.5 814.1,411.6 815.0,410.2 817.2,409.5 819.4,409.0 821.0,409.7 822.8,410.0 822.8,412.5 821.6,413.8 820.0,414.4 817.8,414.3 815.6,415.0 813.9,414.1Z
M855.0,412.5 856.8,412.0 858.1,410.6 860.5,410.6 862.5,409.4 864.7,408.2 866.2,406.2 868.1,405.3 870.0,404.4 871.8,403.8 873.8,403.8 875.2,405.5 876.2,407.5 878.0,408.4 880.0,408.8 881.6,408.4 883.1,408.1 882.9,410.1 883.8,411.9 885.3,412.4 886.2,413.8 886.9,415.6 887.5,417.5 886.8,419.3 886.9,421.2 885.2,423.0 883.8,425.0 883.1,426.6 883.0,428.5 881.9,430.0 881.9,431.8 881.3,433.4 880.6,435.0 879.9,436.6 879.8,438.3 880.0,440.0 879.0,441.5 877.5,442.5 875.0,443.8 873.7,444.7 873.1,446.2 870.6,446.9 869.0,446.0 868.1,444.4 866.6,443.9 865.0,443.8 864.4,441.2 865.8,440.3 866.2,438.8 865.4,436.9 865.0,435.0 865.2,433.0 864.4,431.2 863.2,430.2 861.9,429.4 862.0,427.3 863.1,425.6 863.9,424.0 865.0,422.5 864.6,420.6 864.4,418.8 864.4,417.1 865.0,415.6 862.5,416.2 861.0,417.3 860.0,418.8 859.4,420.5 858.1,421.9 858.2,419.6 857.5,417.5 855.6,415.6 855.1,414.1Z
M865.0,415.6 866.8,416.1 868.1,417.5 868.5,419.2 869.4,420.7 869.4,422.5 868.7,424.1 867.8,425.7 867.5,427.5 866.2,429.0 865.0,430.6 863.8,428.1 864.6,426.2 865.6,424.4 864.8,422.3 865.0,420.0 865.0,417.8Z
M870.0,437.5 871.9,438.1 872.0,439.8 871.2,441.2 870.0,443.8 868.8,441.2 869.4,438.8Z
M844.4,423.1 845.7,422.0 846.9,420.6 848.2,419.0 850.0,418.1 850.7,416.6 851.2,415.0 850.8,416.9 850.0,418.8 848.9,420.7 847.5,422.5 845.6,424.4Z
M858.1,437.5 860.6,435.6
M892.0,416.0 893.4,417.2 895.0,418.1 896.0,419.5 896.2,421.2 898.2,421.2 900.0,421.9 901.1,419.8 901.2,417.5 902.1,416.0
M873.8,451.2 875.6,450.0 875.5,451.9 875.0,453.8 873.9,455.1 873.5,456.9 872.5,455.6 873.6,453.6Z
M866.9,457.2 868.5,456.2 870.0,457.5 869.5,459.2 867.5,459.5Z
M851.2,488.8 852.5,487.8 853.8,486.9 855.4,485.6 857.5,485.0 858.1,486.2 856.9,487.9 855.0,488.8 853.4,489.7 852.5,491.2Z
M852.5,489.4 856.2,486.5
M847.5,494.8 849.0,494.0 849.8,495.6 848.5,497.0Z
M832.5,518.1 832.7,516.4 833.8,515.0 834.7,513.7 835.6,512.5 836.9,511.6 838.1,510.6 840.0,509.4 839.8,511.9 839.0,513.4 837.5,514.4 836.6,516.0 835.6,517.5 833.8,519.4Z
M834.0,516.2 836.5,513.1 838.8,511.0
M818.0,400.0 819.5,400.0 819.5,401.0 818.0,401.0Z
M857.1,417.6 856.6,416.9 857.7,415.7 858.2,417.2Z
M857.2,411.0 857.6,410.3 858.1,411.0Z
M861.2,417.1 862.4,417.2 862.7,418.0 862.2,418.8 861.5,418.2Z
M856.7,418.9 857.8,419.0 857.0,419.6Z
M855.3,410.9 856.1,409.9 857.3,410.2 857.5,411.5 856.2,412.0Z
M857.4,422.0 857.9,422.4 857.3,422.5Z
M861.5,417.4 860.5,417.7 860.3,416.8 861.0,416.7Z
M861.1,418.4 860.5,418.3 861.0,417.6Z
M858.5,419.0 859.4,420.0 858.7,420.9 857.6,420.7 857.4,419.8Z
M865.6,430.3 864.9,430.4 865.1,429.6 865.5,429.1 866.3,429.8Z
M866.2,426.5 867.0,426.4 867.3,427.2 866.6,427.3Z
M864.9,426.0 865.6,426.2 865.1,427.0Z
M864.9,423.5 865.2,422.4 866.0,423.0Z
M866.7,421.3 865.3,421.9 864.2,421.0 865.1,419.8 866.4,419.8Z
M863.8,419.3 863.3,419.8 862.7,419.4 863.2,418.7Z
M800.0,537.0 801.9,536.5 803.8,538.6 801.9,539.0Z
M794.4,538.2 794.4,540.5
M790.0,702.9 791.9,702.8 793.8,703.5 796.0,702.6 798.1,701.6 800.0,702.9 801.9,704.1 803.2,705.6 804.4,707.2 804.3,709.0 803.7,710.6 803.1,712.2 803.9,713.8 804.4,715.5 804.4,717.2 805.6,719.0 806.2,721.0 806.8,722.8 808.1,724.1 806.6,723.2 805.0,722.2 803.6,721.2 801.9,721.0 800.0,722.2 799.9,724.3 798.8,726.0 798.9,727.9 800.0,729.3 800.6,731.0 800.7,732.8 801.4,734.4 801.9,736.0 800.8,734.9 799.4,734.1 797.9,733.1 796.9,731.6 795.7,732.7 795.0,734.1 794.3,732.0 794.4,729.8 794.4,727.5 795.0,725.4 793.4,724.9 792.5,723.5 791.2,722.3 790.0,721.0
M790.0,708.5 791.5,709.8 793.1,711.0 794.9,712.7 796.2,714.8 796.8,716.8 798.1,718.5 798.8,720.3 798.3,722.3 798.9,724.1 798.8,726.0
M791.2,714.8 792.8,715.8 794.4,716.6 795.9,715.6 796.9,714.1 798.1,713.5
M792.5,714.8 795.6,718.5
M790.0,727.9 791.9,727.2 792.5,723.5
M790.0,736.0 791.9,737.2 791.2,739.8 790.0,741.0
M804.4,731.0 806.2,730.4 806.3,732.6 806.9,734.8 806.4,736.9 805.0,738.5 803.8,736.0 803.7,734.3 804.3,732.7Z
M810.6,736.6 812.5,736.0 811.6,737.8 811.9,739.8 811.4,741.3 810.0,742.2 809.4,739.8 810.1,738.2Z
M803.1,739.8 803.5,741.7 804.4,743.5 804.0,745.2 804.6,747.0 804.4,748.8
M806.9,740.4 808.2,742.2 810.0,743.5 811.6,744.4 813.1,745.4 812.6,747.1 813.1,748.8
M793.8,747.2 794.5,746.5 795.2,747.2 794.5,748.2Z
M790.0,686.0 790.6,688.5
M806.5,726.4 808.5,727.2
M156.9,187.1 158.3,186.1 160.0,186.2 161.3,187.5 163.1,187.8 164.7,188.0 166.2,188.4 166.9,187.1 169.0,186.7 171.2,186.5 173.0,186.2 174.6,186.6 176.2,187.1 178.1,189.0 180.3,189.6 182.5,189.6 184.0,190.3 185.6,190.5 187.2,190.0 188.8,190.2 190.9,189.6 193.1,189.2 195.3,189.0 197.5,189.6 199.5,189.9 201.2,190.9 202.3,189.7 203.8,189.0 205.5,187.9 207.5,187.1 209.8,187.4 211.9,186.5 214.0,188.0 213.8,190.9 211.2,192.1 210.6,194.6 208.9,194.4 207.5,195.2 205.5,195.4 203.8,196.2 201.6,196.1 199.4,195.9 197.2,195.3 195.0,194.6 192.9,193.5 190.6,193.0 188.4,192.7 186.2,193.4 184.1,192.5 181.9,192.1 180.0,191.5 178.1,191.2 176.0,191.9 173.8,191.8 172.1,191.9 170.4,191.8 168.8,192.5 166.8,192.6 165.0,193.4 162.9,194.2 160.6,194.0 159.0,194.4 157.5,195.2 157.4,197.2 156.9,199.0
M165.0,189.0 166.2,191.5 165.0,193.4
M202.5,190.0 205.0,189.2 206.9,190.5 208.8,189.2
M179.4,190.5 182.5,191.5 185.0,191.2
M870.5,403.8 872.4,403.9 872.5,402.2 873.3,400.8 873.5,399.1 872.7,397.6 874.2,396.1 875.8,396.4 877.4,396.4 879.9,395.8 881.4,393.2 883.6,392.0 885.4,391.0 886.8,389.5 888.0,387.8 889.9,386.7 891.7,385.6 893.0,383.9 894.6,383.2 895.5,381.7 896.1,380.1 898.6,378.9 901.1,377.9 903.3,378.6 904.9,380.4 907.4,379.5 909.0,379.8 910.5,379.2 912.4,379.3 914.2,378.9 916.0,378.6 917.4,377.6 919.0,377.5 920.5,376.7 922.1,377.0 923.6,377.0 926.1,376.1 928.9,375.4
M872.4,403.9 874.2,402.0 876.8,402.3 879.2,402.0 881.8,402.3 883.9,401.7 885.5,402.9 887.4,403.9 889.2,404.8 890.2,403.9 890.3,401.7 890.5,399.5 892.1,397.0 893.0,399.5 894.2,400.8 896.1,399.8 898.6,398.9 900.5,398.2 903.0,396.7 905.5,395.8 907.1,395.8 908.6,395.1 910.3,395.1 911.8,394.5 914.2,393.2 915.2,391.7 917.4,390.8 919.9,390.1 922.4,390.4 924.6,392.0 925.8,393.2 926.8,395.1
M890.8,398.2 892.4,397.6 892.7,400.1 893.6,401.1 891.8,399.5
M886.8,405.1 888.6,404.2 889.9,405.8 888.0,406.4 889.5,405.8 890.5,404.5
M897.4,399.2 899.2,397.9 901.1,398.6 899.9,399.8 898.0,400.1
M911.8,393.6 913.6,393.2 916.1,393.9 917.4,395.1 914.9,395.4 913.0,394.8
M887.4,412.3 889.6,411.4 892.1,410.4 894.2,408.6 896.1,406.4 897.1,403.9 898.0,401.4 899.9,400.1
M899.9,401.4 901.1,402.9 903.0,403.9 905.5,403.6 907.4,402.3 908.6,400.1 908.9,398.6 911.1,397.6 913.6,397.3 916.1,398.2 918.6,399.5 920.5,399.5 922.1,397.9 923.6,395.8 925.2,393.9 925.8,392.6
M920.5,399.5 921.1,402.0 922.0,403.5 922.4,405.1 920.5,407.0 918.9,407.5 918.0,408.9 917.0,410.1 916.1,411.4 914.9,413.6 913.0,412.0 912.1,410.6 910.5,410.1 908.0,409.5 905.5,410.8 903.6,412.9 902.7,415.1 902.4,416.0
M892.1,410.4 893.0,412.3 893.9,413.9 893.0,416.0
M924.6,398.2 925.5,397.0 926.8,395.8 928.0,395.1 928.9,394.5
M926.1,400.1 927.1,398.9 928.0,399.5 927.7,402.0 926.8,403.9 926.1,402.0Z
M902.7,367.6 903.6,366.4 905.2,366.7 905.5,367.9 904.6,368.9 903.3,368.8Z
M899.2,370.1 900.5,369.4 901.8,370.1 901.1,371.4 899.9,371.5Z
M892.1,397.6 893.1,396.6 894.5,397.3 893.6,398.1Z
M894.8,399.3 894.3,398.6 894.7,397.8 895.5,398.6Z
M894.7,398.4 895.4,397.0 896.2,398.4Z
M888.6,400.2 889.0,399.3 889.4,400.3Z
M892.7,398.3 892.1,397.2 893.1,396.7 893.9,396.5 894.2,398.1Z
M890.0,400.2 890.9,401.2 889.5,401.7 888.6,400.7Z
M896.7,398.9 897.2,398.9 897.4,399.4 896.8,399.9 896.5,399.4Z
M898.7,398.6 899.3,399.0 898.6,399.1Z
M899.2,398.8 900.7,399.0 899.9,400.4Z
M896.2,399.6 897.3,399.6 896.8,400.7Z
M918.6,393.0 919.3,394.2 918.4,394.8 917.3,394.5 917.8,393.4Z
M918.4,395.7 917.2,395.1 917.7,394.1 919.0,394.6Z
M912.2,394.4 913.2,393.2 914.5,393.7 914.4,395.0 913.2,395.1Z
M916.5,393.1 917.4,392.1 917.5,393.6Z
M890.3,404.8 889.6,404.6 889.4,404.1 889.7,403.8 890.2,404.0Z
M886.7,404.4 887.1,404.2 887.4,404.6 886.9,404.7Z
M888.4,406.9 887.6,407.0 887.7,406.2 888.4,405.7 888.6,406.6Z
M734.8,557.5 735.1,555.0 736.0,552.5 737.6,550.6 737.9,548.9 739.1,547.5 740.5,546.6 741.0,545.0 742.1,543.3 742.6,541.2 743.8,539.8 745.4,538.8 746.7,537.1 747.2,535.0 748.5,533.4 750.0,532.8 751.6,532.8 752.9,530.9 754.8,530.6 756.6,532.2 759.1,533.4 759.8,535.0 758.2,536.9 757.9,539.4 758.5,541.6 757.9,543.5 756.6,545.0 755.1,547.5 754.8,549.4 754.4,551.2 754.3,553.2 753.5,555.0 753.2,557.5 752.6,559.4 751.9,561.2 750.4,562.9 749.8,565.0 748.3,566.1 747.2,567.5 746.0,570.0 745.4,572.5 745.3,574.1 745.7,575.6 745.1,577.2 743.5,577.5 742.9,575.0 742.2,572.5 740.7,570.6 739.2,569.8 737.9,568.8 736.9,566.2 737.0,564.6 736.3,563.1 734.8,561.9 735.1,559.7Z
M727.6,554.2 728.8,553.4 730.1,554.4 729.4,555.8 728.0,555.6Z
M728.5,553.8 729.1,555.3 728.2,555.9
M726.3,560.1 728.2,559.2 730.4,559.5"/>
<path style="stroke-width:0.95" d="M379.5,715.5 380.5,716.2
M393.5,683.0 394.2,683.5
M401.0,706.8 401.8,707.2
M385.8,746.8 387.0,747.2
M532.9,523.8 534.0,525.0
M452.2,685.4 452.8,686.6
M448.5,709.5 449.5,711.0
M456.0,719.8 457.0,721.0
M452.2,729.8 453.5,730.8
M452.5,734.5 453.5,735.0
M451.0,743.5 452.0,744.2
M476.4,735.0 477.0,735.2
M568.4,527.5 570.2,526.9
M654.0,576.1 655.9,575.5
M595.0,589.8 595.5,590.1
M576.9,602.2 577.4,602.5
M571.9,642.2 572.4,642.5
M554.4,620.4 554.9,620.6
M595.0,666.0 595.5,666.5
M587.8,658.2 588.1,658.6
M593.0,729.5 593.8,730.0
M596.5,706.6 597.8,707.9
M763.9,319.8 765.8,319.2
M767.2,319.0 769.0,318.5
M771.5,315.2 773.0,314.8
M769.2,322.5 770.2,322.8
M773.6,322.0 774.5,322.2
M765.8,453.8 766.4,454.4
M768.2,451.2 769.0,451.8
M763.9,456.2 764.8,457.0
M767.0,458.8 767.8,458.5
M760.8,455.0 761.2,455.8
M768.9,461.2 769.5,461.0
M758.2,481.2 758.5,482.5
M758.2,485.0 758.8,486.0
M748.2,495.0 749.0,496.0
M747.6,499.4 748.2,500.2
M740.1,515.0 740.8,515.6
M779.5,523.8 780.8,523.1
M771.8,542.5 772.5,542.9
M753.6,575.6 754.2,576.0
M752.8,567.2 753.2,567.5
M738.2,572.0 738.6,572.2
M782.2,548.0 783.0,548.4
M779.5,546.1 780.0,546.4
M758.6,589.1 759.1,589.4
M757.8,593.0 758.2,594.2
M761.1,604.1 761.6,604.4
M758.5,610.2 759.2,610.8
M749.2,615.9 749.9,616.4
M750.5,619.2 752.2,619.6
M757.6,618.2 758.9,617.4
M771.8,678.4 772.4,678.8
M746.8,721.4 747.2,721.9
M746.8,725.1 747.4,725.6
M755.5,698.4 756.0,698.6
M762.6,702.9 763.2,704.1
M782.0,720.4 783.9,720.0
M788.6,727.6 789.2,728.1
M731.1,717.2 731.8,717.8
M801.2,392.0 802.5,391.4
M810.6,368.2 811.2,369.5
M839.4,392.6 840.0,393.2
M876.2,390.5 876.6,390.5
M840.4,432.5 841.1,433.0
M857.8,405.4 858.6,405.9
M854.1,445.5 854.8,445.8
M854.1,450.2 854.8,450.5
M861.0,450.2 861.6,450.5
M865.4,450.9 866.0,451.1
M864.1,456.1 864.8,456.4
M860.4,464.9 861.0,465.1
M857.9,468.0 858.5,468.2
M856.0,470.5 856.6,470.8
M852.0,474.9 852.6,475.1
M848.5,479.9 849.1,480.1
M861.2,487.4 861.9,487.8
M843.5,501.2 844.5,500.8
M839.1,494.2 839.8,494.5
M841.6,505.5 842.2,505.8
M835.2,506.8 836.0,505.8
M820.4,515.9 821.1,516.2
M827.1,517.6 828.0,518.0
M826.0,512.4 826.5,512.6
M821.0,512.4 821.5,512.6
M877.8,522.5 878.5,521.5
M799.8,401.1 800.2,401.4
M827.2,401.8 827.9,402.0
M822.2,402.4 822.8,402.6
M851.6,400.5 852.2,400.8
M876.9,542.4 877.8,542.5
M800.0,748.8 801.2,748.5
M876.3,390.6 876.6,390.9
M725.2,557.4 725.6,557.6
M727.6,557.5 728.2,558.4"/>
</g>
<rect x="156.5" y="87" width="772.5" height="661.75" fill="none" stroke="#000" stroke-width="1.3"/>
<g><line x1="159.40" y1="748.75" x2="159.40" y2="767.6" stroke="#000" stroke-width="1"/>
<text transform="translate(159.70 804.45) scale(1 1)" font-size="26" text-anchor="middle">75°E</text>
<line x1="350.95" y1="748.75" x2="350.95" y2="767.6" stroke="#000" stroke-width="1"/>
<text transform="translate(351.25 804.45) scale(1 1)" font-size="26" text-anchor="middle">90°E</text>
<line x1="542.50" y1="748.75" x2="542.50" y2="767.6" stroke="#000" stroke-width="1"/>
<text transform="translate(542.80 804.45) scale(0.967 1)" font-size="26" text-anchor="middle">105°E</text>
<line x1="734.05" y1="748.75" x2="734.05" y2="767.6" stroke="#000" stroke-width="1"/>
<text transform="translate(734.35 804.45) scale(0.967 1)" font-size="26" text-anchor="middle">120°E</text>
<line x1="925.60" y1="748.75" x2="925.60" y2="767.6" stroke="#000" stroke-width="1"/>
<text transform="translate(925.90 804.45) scale(0.967 1)" font-size="26" text-anchor="middle">135°E</text>
<line x1="137.6" y1="736.25" x2="156.5" y2="736.25" stroke="#333" stroke-width="1"/>
<text transform="translate(122.20 745.50) scale(1 1)" font-size="26" text-anchor="end">10°N</text>
<line x1="137.6" y1="603.85" x2="156.5" y2="603.85" stroke="#333" stroke-width="1"/>
<text transform="translate(122.20 613.10) scale(1 1)" font-size="26" text-anchor="end">20°N</text>
<line x1="137.6" y1="462.68" x2="156.5" y2="462.68" stroke="#333" stroke-width="1"/>
<text transform="translate(122.20 471.93) scale(1 1)" font-size="26" text-anchor="end">30°N</text>
<line x1="137.6" y1="306.39" x2="156.5" y2="306.39" stroke="#333" stroke-width="1"/>
<text transform="translate(122.20 315.64) scale(1 1)" font-size="26" text-anchor="end">40°N</text>
<line x1="137.6" y1="125.09" x2="156.5" y2="125.09" stroke="#333" stroke-width="1"/>
<text transform="translate(122.20 134.34) scale(1 1)" font-size="26" text-anchor="end">50°N</text></g>
<text transform="translate(542.70 43.10) scale(0.95 1)" font-size="32" text-anchor="middle">2026-03-31 00:00:00 UTC</text>
<text transform="translate(542.20 76.50) scale(0.95 1)" font-size="32" text-anchor="middle">2026-03-31 08:00:00 CST</text>
<text transform="translate(153.60 71.25) scale(0.95 1)" font-size="32" text-anchor="start">NO<tspan font-size="19" dy="6">x</tspan></text>
<text transform="translate(929.60 70.00) scale(0.95 1)" font-size="32" text-anchor="end">g m<tspan font-size="19" dy="-14.2">-3</tspan></text>
<text transform="translate(863.60 70.00) scale(1.06 1)" font-size="32" text-anchor="end">µ</text>
<g><rect x="166.20" y="857.3" width="68.45" height="59" fill="#FFFFFF" stroke="#333" stroke-width="0.7"/>
<rect x="234.65" y="857.3" width="68.45" height="59" fill="#FFF3D1" stroke="#333" stroke-width="0.7"/>
<rect x="303.10" y="857.3" width="68.45" height="59" fill="#FCEA9C" stroke="#333" stroke-width="0.7"/>
<rect x="371.55" y="857.3" width="68.45" height="59" fill="#FDCC69" stroke="#333" stroke-width="0.7"/>
<rect x="440.00" y="857.3" width="68.45" height="59" fill="#FEAC33" stroke="#333" stroke-width="0.7"/>
<rect x="508.45" y="857.3" width="68.45" height="59" fill="#F98C2F" stroke="#333" stroke-width="0.7"/>
<rect x="576.90" y="857.3" width="68.45" height="59" fill="#F46C2B" stroke="#333" stroke-width="0.7"/>
<rect x="645.35" y="857.3" width="68.45" height="59" fill="#E5482B" stroke="#333" stroke-width="0.7"/>
<rect x="713.80" y="857.3" width="68.45" height="59" fill="#D31F28" stroke="#333" stroke-width="0.7"/>
<rect x="782.25" y="857.3" width="68.45" height="59" fill="#B51A22" stroke="#333" stroke-width="0.7"/>
<rect x="850.70" y="857.3" width="68.45" height="59" fill="#92161B" stroke="#333" stroke-width="0.7"/>
<text transform="translate(234.65 950.30) scale(1 1)" font-size="22.2" text-anchor="middle">20</text>
<text transform="translate(303.10 950.30) scale(1 1)" font-size="22.2" text-anchor="middle">40</text>
<text transform="translate(371.55 950.30) scale(1 1)" font-size="22.2" text-anchor="middle">60</text>
<text transform="translate(440.00 950.30) scale(1 1)" font-size="22.2" text-anchor="middle">80</text>
<text transform="translate(508.45 950.30) scale(0.97 1)" font-size="22.2" text-anchor="middle">100</text>
<text transform="translate(576.90 950.30) scale(0.97 1)" font-size="22.2" text-anchor="middle">120</text>
<text transform="translate(645.35 950.30) scale(0.97 1)" font-size="22.2" text-anchor="middle">140</text>
<text transform="translate(713.80 950.30) scale(0.97 1)" font-size="22.2" text-anchor="middle">160</text>
<text transform="translate(782.25 950.30) scale(0.97 1)" font-size="22.2" text-anchor="middle">180</text>
<text transform="translate(850.70 950.30) scale(0.97 1)" font-size="22.2" text-anchor="middle">200</text></g>
</svg></body></html>
